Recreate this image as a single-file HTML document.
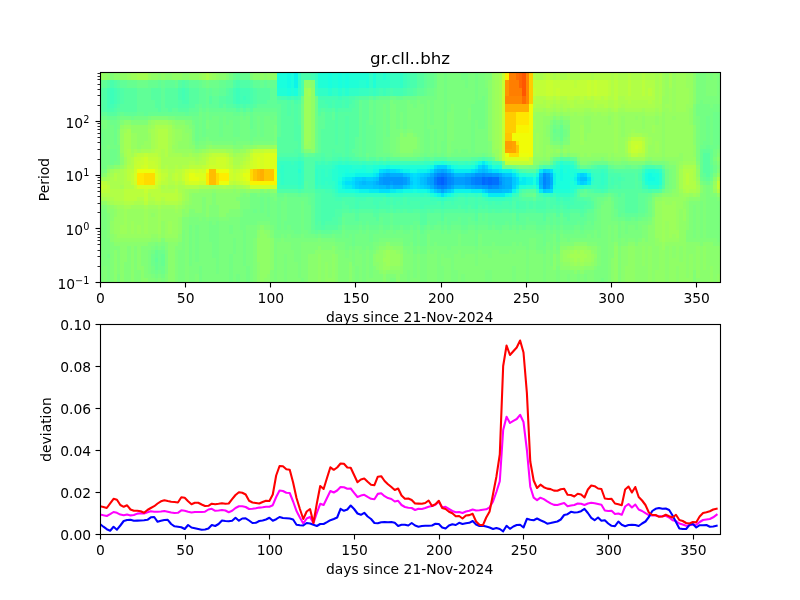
<!DOCTYPE html>
<html lang="en"><head><meta charset="utf-8"><title>gr.cll..bhz</title>
<style>html,body{margin:0;padding:0;background:#fff}body{width:800px;height:600px;overflow:hidden}svg{display:block}</style></head>
<body>
<svg width="800" height="600" viewBox="0 0 800 600">
<rect width="800" height="600" fill="#fff"/>
<g shape-rendering="crispEdges"><rect x="100" y="72" width="620" height="210" fill="#7dff7a"/>
<path fill="#0060ff" d="M440.66 177H444.07V181.04H440.66zM440.66 181.04H444.07V185.08H440.66z"/>
<path fill="#0068ff" d="M437.25 177H440.66V181.04H437.25zM481.54 177H484.95V181.04H481.54zM488.35 177H491.76V181.04H488.35zM437.25 181.04H440.66V185.08H437.25zM481.54 181.04H484.95V185.08H481.54zM488.35 181.04H491.76V185.08H488.35z"/>
<path fill="#0070ff" d="M444.07 177H447.47V181.04H444.07zM484.95 177H488.35V181.04H484.95zM491.76 177H498.57V181.04H491.76zM444.07 181.04H447.47V185.08H444.07zM484.95 181.04H488.35V185.08H484.95zM491.76 181.04H498.57V185.08H491.76z"/>
<path fill="#007cff" d="M440.66 172.96H444.07V177H440.66zM433.85 177H437.25V181.04H433.85zM474.73 177H481.54V181.04H474.73zM433.85 181.04H437.25V185.08H433.85zM474.73 181.04H481.54V185.08H474.73zM440.66 185.08H444.07V189.12H440.66z"/>
<path fill="#0084ff" d="M437.25 172.96H440.66V177H437.25zM444.07 172.96H447.47V177H444.07zM447.47 177H450.88V181.04H447.47zM471.32 177H474.73V181.04H471.32zM542.86 177H546.26V181.04H542.86zM447.47 181.04H450.88V185.08H447.47zM471.32 181.04H474.73V185.08H471.32zM542.86 181.04H546.26V185.08H542.86zM437.25 185.08H440.66V189.12H437.25zM444.07 185.08H447.47V189.12H444.07zM488.35 185.08H491.76V189.12H488.35z"/>
<path fill="#008cff" d="M481.54 172.96H484.95V177H481.54zM542.86 172.96H546.26V177H542.86zM450.88 177H454.29V181.04H450.88zM450.88 181.04H454.29V185.08H450.88zM498.57 181.04H501.98V185.08H498.57zM491.76 185.08H498.57V189.12H491.76zM542.86 185.08H546.26V189.12H542.86z"/>
<path fill="#0094ff" d="M433.85 172.96H437.25V177H433.85zM447.47 172.96H450.88V177H447.47zM474.73 172.96H481.54V177H474.73zM484.95 172.96H491.76V177H484.95zM382.75 177H403.19V181.04H382.75zM464.51 177H471.32V181.04H464.51zM498.57 177H501.98V181.04H498.57zM546.26 177H549.67V181.04H546.26zM382.75 181.04H389.56V185.08H382.75zM392.97 181.04H403.19V185.08H392.97zM464.51 181.04H471.32V185.08H464.51zM546.26 181.04H549.67V185.08H546.26zM433.85 185.08H437.25V189.12H433.85zM447.47 185.08H450.88V189.12H447.47zM481.54 185.08H488.35V189.12H481.54z"/>
<path fill="#009cff" d="M491.76 172.96H498.57V177H491.76zM546.26 172.96H549.67V177H546.26zM379.34 177H382.75V181.04H379.34zM403.19 177H406.59V181.04H403.19zM430.44 177H433.85V181.04H430.44zM454.29 177H464.51V181.04H454.29zM379.34 181.04H382.75V185.08H379.34zM389.56 181.04H392.97V185.08H389.56zM403.19 181.04H406.59V185.08H403.19zM430.44 181.04H433.85V185.08H430.44zM454.29 181.04H464.51V185.08H454.29zM474.73 185.08H481.54V189.12H474.73zM498.57 185.08H501.98V189.12H498.57zM546.26 185.08H549.67V189.12H546.26z"/>
<path fill="#00a4ff" d="M440.66 168.92H444.07V172.96H440.66zM386.15 172.96H389.56V177H386.15zM450.88 172.96H454.29V177H450.88zM471.32 172.96H474.73V177H471.32zM427.03 177H430.44V181.04H427.03zM501.98 177H505.38V181.04H501.98zM427.03 181.04H430.44V185.08H427.03zM501.98 181.04H505.38V185.08H501.98zM450.88 185.08H454.29V189.12H450.88zM471.32 185.08H474.73V189.12H471.32zM501.98 185.08H505.38V189.12H501.98zM440.66 189.12H444.07V193.15H440.66z"/>
<path fill="#00acff" d="M437.25 168.92H440.66V172.96H437.25zM444.07 168.92H447.47V172.96H444.07zM382.75 172.96H386.15V177H382.75zM389.56 172.96H403.19V177H389.56zM430.44 172.96H433.85V177H430.44zM464.51 172.96H471.32V177H464.51zM498.57 172.96H501.98V177H498.57zM406.59 177H410V181.04H406.59zM505.38 177H512.2V181.04H505.38zM539.45 177H542.86V181.04H539.45zM549.67 177H553.08V181.04H549.67zM375.93 181.04H379.34V185.08H375.93zM406.59 181.04H410V185.08H406.59zM505.38 181.04H512.2V185.08H505.38zM539.45 181.04H542.86V185.08H539.45zM549.67 181.04H553.08V185.08H549.67zM386.15 185.08H389.56V189.12H386.15zM392.97 185.08H403.19V189.12H392.97zM430.44 185.08H433.85V189.12H430.44zM464.51 185.08H471.32V189.12H464.51zM505.38 185.08H512.2V189.12H505.38z"/>
<path fill="#00b8ff" d="M433.85 168.92H437.25V172.96H433.85zM481.54 168.92H484.95V172.96H481.54zM379.34 172.96H382.75V177H379.34zM454.29 172.96H464.51V177H454.29zM539.45 172.96H542.86V177H539.45zM549.67 172.96H553.08V177H549.67zM423.63 177H427.03V181.04H423.63zM362.31 181.04H365.71V185.08H362.31zM372.53 181.04H375.93V185.08H372.53zM423.63 181.04H427.03V185.08H423.63zM379.34 185.08H386.15V189.12H379.34zM389.56 185.08H392.97V189.12H389.56zM454.29 185.08H464.51V189.12H454.29zM539.45 185.08H542.86V189.12H539.45zM549.67 185.08H553.08V189.12H549.67zM437.25 189.12H440.66V193.15H437.25zM444.07 189.12H447.47V193.15H444.07zM488.35 189.12H501.98V193.15H488.35z"/>
<path fill="#00c0ff" d="M447.47 168.92H450.88V172.96H447.47zM478.13 168.92H481.54V172.96H478.13zM484.95 168.92H488.35V172.96H484.95zM403.19 172.96H406.59V177H403.19zM427.03 172.96H430.44V177H427.03zM501.98 172.96H505.38V177H501.98zM375.93 177H379.34V181.04H375.93zM420.22 177H423.63V181.04H420.22zM580.33 177H587.14V181.04H580.33zM358.9 181.04H362.31V185.08H358.9zM365.71 181.04H372.53V185.08H365.71zM420.22 181.04H423.63V185.08H420.22zM372.53 185.08H379.34V189.12H372.53zM403.19 185.08H406.59V189.12H403.19zM427.03 185.08H430.44V189.12H427.03zM501.98 189.12H508.79V193.15H501.98z"/>
<path fill="#00c8ff" d="M481.54 164.88H484.95V168.92H481.54zM542.86 168.92H546.26V172.96H542.86zM406.59 172.96H410V177H406.59zM423.63 172.96H427.03V177H423.63zM505.38 172.96H512.2V177H505.38zM362.31 177H365.71V181.04H362.31zM372.53 177H375.93V181.04H372.53zM512.2 177H515.6V181.04H512.2zM355.49 181.04H358.9V185.08H355.49zM410 181.04H413.41V185.08H410zM512.2 181.04H515.6V185.08H512.2zM358.9 185.08H372.53V189.12H358.9zM406.59 185.08H410V189.12H406.59zM423.63 185.08H427.03V189.12H423.63zM433.85 189.12H437.25V193.15H433.85zM447.47 189.12H450.88V193.15H447.47zM484.95 189.12H488.35V193.15H484.95zM508.79 189.12H512.2V193.15H508.79zM542.86 189.12H546.26V193.15H542.86z"/>
<path fill="#00d0ff" d="M437.25 164.88H447.47V168.92H437.25zM386.15 168.92H389.56V172.96H386.15zM474.73 168.92H478.13V172.96H474.73zM488.35 168.92H491.76V172.96H488.35zM546.26 168.92H549.67V172.96H546.26zM420.22 172.96H423.63V177H420.22zM580.33 172.96H583.74V177H580.33zM355.49 177H362.31V181.04H355.49zM365.71 177H372.53V181.04H365.71zM410 177H413.41V181.04H410zM416.81 177H420.22V181.04H416.81zM576.92 177H580.33V181.04H576.92zM416.81 181.04H420.22V185.08H416.81zM580.33 181.04H583.74V185.08H580.33zM355.49 185.08H358.9V189.12H355.49zM420.22 185.08H423.63V189.12H420.22zM512.2 185.08H515.6V189.12H512.2zM546.26 189.12H549.67V193.15H546.26z"/>
<path fill="#00d8ff" d="M478.13 164.88H481.54V168.92H478.13zM484.95 164.88H488.35V168.92H484.95zM382.75 168.92H386.15V172.96H382.75zM389.56 168.92H396.37V172.96H389.56zM430.44 168.92H433.85V172.96H430.44zM450.88 168.92H454.29V172.96H450.88zM410 172.96H413.41V177H410zM416.81 172.96H420.22V177H416.81zM583.74 172.96H587.14V177H583.74zM413.41 177H416.81V181.04H413.41zM515.6 177H519.01V181.04H515.6zM352.09 181.04H355.49V185.08H352.09zM413.41 181.04H416.81V185.08H413.41zM515.6 181.04H519.01V185.08H515.6zM583.74 181.04H587.14V185.08H583.74zM410 185.08H413.41V189.12H410zM416.81 185.08H420.22V189.12H416.81zM450.88 189.12H454.29V193.15H450.88zM481.54 189.12H484.95V193.15H481.54zM549.67 189.12H553.08V193.15H549.67z"/>
<path fill="#00e0fb" d="M433.85 164.88H437.25V168.92H433.85zM379.34 168.92H382.75V172.96H379.34zM396.37 168.92H399.78V172.96H396.37zM471.32 168.92H474.73V172.96H471.32zM491.76 168.92H498.57V172.96H491.76zM549.67 168.92H553.08V172.96H549.67zM375.93 172.96H379.34V177H375.93zM413.41 172.96H416.81V177H413.41zM512.2 172.96H515.6V177H512.2zM576.92 172.96H580.33V177H576.92zM352.09 177H355.49V181.04H352.09zM587.14 177H590.55V181.04H587.14zM345.27 181.04H352.09V185.08H345.27zM576.92 181.04H580.33V185.08H576.92zM352.09 185.08H355.49V189.12H352.09zM413.41 185.08H416.81V189.12H413.41zM379.34 189.12H389.56V193.15H379.34zM430.44 189.12H433.85V193.15H430.44zM440.66 193.15H444.07V197.19H440.66z"/>
<path fill="#06ecf1" d="M481.54 160.85H484.95V164.88H481.54zM447.47 164.88H450.88V168.92H447.47zM399.78 168.92H403.19V172.96H399.78zM427.03 168.92H430.44V172.96H427.03zM454.29 168.92H471.32V172.96H454.29zM498.57 168.92H501.98V172.96H498.57zM539.45 168.92H542.86V172.96H539.45zM372.53 172.96H375.93V177H372.53zM345.27 177H352.09V181.04H345.27zM522.42 177H525.82V181.04H522.42zM536.04 177H539.45V181.04H536.04zM341.87 181.04H345.27V185.08H341.87zM519.01 181.04H525.82V185.08H519.01zM536.04 181.04H539.45V185.08H536.04zM587.14 181.04H590.55V185.08H587.14zM345.27 185.08H352.09V189.12H345.27zM515.6 185.08H519.01V189.12H515.6zM369.12 189.12H379.34V193.15H369.12zM389.56 189.12H396.37V193.15H389.56zM471.32 189.12H481.54V193.15H471.32zM539.45 189.12H542.86V193.15H539.45zM488.35 193.15H505.38V197.19H488.35z"/>
<path fill="#0cf4eb" d="M294.18 72H297.58V76.04H294.18zM294.18 76.04H297.58V80.08H294.18zM294.18 80.08H297.58V84.12H294.18zM294.18 84.12H297.58V88.15H294.18zM474.73 164.88H478.13V168.92H474.73zM488.35 164.88H491.76V168.92H488.35zM403.19 168.92H410V172.96H403.19zM416.81 168.92H427.03V172.96H416.81zM501.98 168.92H512.2V172.96H501.98zM355.49 172.96H372.53V177H355.49zM515.6 172.96H519.01V177H515.6zM553.08 172.96H556.48V177H553.08zM587.14 172.96H590.55V177H587.14zM341.87 177H345.27V181.04H341.87zM519.01 177H522.42V181.04H519.01zM525.82 177H532.64V181.04H525.82zM553.08 177H556.48V181.04H553.08zM573.52 177H576.92V181.04H573.52zM525.82 181.04H532.64V185.08H525.82zM553.08 181.04H556.48V185.08H553.08zM341.87 185.08H345.27V189.12H341.87zM358.9 189.12H369.12V193.15H358.9zM396.37 189.12H403.19V193.15H396.37zM427.03 189.12H430.44V193.15H427.03zM454.29 189.12H471.32V193.15H454.29zM512.2 189.12H515.6V193.15H512.2zM437.25 193.15H440.66V197.19H437.25zM444.07 193.15H447.47V197.19H444.07z"/>
<path fill="#13fce4" d="M287.36 72H290.77V76.04H287.36zM287.36 76.04H290.77V80.08H287.36zM287.36 80.08H290.77V84.12H287.36zM287.36 84.12H290.77V88.15H287.36zM478.13 160.85H481.54V164.88H478.13zM484.95 160.85H488.35V164.88H484.95zM386.15 164.88H389.56V168.92H386.15zM430.44 164.88H433.85V168.92H430.44zM450.88 164.88H454.29V168.92H450.88zM372.53 168.92H379.34V172.96H372.53zM410 168.92H416.81V172.96H410zM559.89 168.92H563.3V172.96H559.89zM345.27 172.96H355.49V177H345.27zM536.04 172.96H539.45V177H536.04zM559.89 172.96H563.3V177H559.89zM573.52 172.96H576.92V177H573.52zM648.46 172.96H651.87V177H648.46zM559.89 177H563.3V181.04H559.89zM648.46 177H655.27V181.04H648.46zM338.46 181.04H341.87V185.08H338.46zM573.52 181.04H576.92V185.08H573.52zM536.04 185.08H539.45V189.12H536.04zM553.08 185.08H556.48V189.12H553.08zM355.49 189.12H358.9V193.15H355.49zM403.19 189.12H413.41V193.15H403.19zM416.81 189.12H427.03V193.15H416.81zM433.85 193.15H437.25V197.19H433.85zM447.47 193.15H450.88V197.19H447.47zM505.38 193.15H508.79V197.19H505.38z"/>
<path fill="#19ffde" d="M277.14 72H287.36V76.04H277.14zM290.77 72H294.18V76.04H290.77zM328.24 72H331.65V76.04H328.24zM338.46 72H341.87V76.04H338.46zM345.27 72H348.68V76.04H345.27zM277.14 76.04H287.36V80.08H277.14zM290.77 76.04H294.18V80.08H290.77zM328.24 76.04H331.65V80.08H328.24zM338.46 76.04H341.87V80.08H338.46zM345.27 76.04H348.68V80.08H345.27zM277.14 80.08H287.36V84.12H277.14zM290.77 80.08H294.18V84.12H290.77zM328.24 80.08H331.65V84.12H328.24zM338.46 80.08H341.87V84.12H338.46zM345.27 80.08H348.68V84.12H345.27zM277.14 84.12H287.36V88.15H277.14zM290.77 84.12H294.18V88.15H290.77zM328.24 84.12H331.65V88.15H328.24zM338.46 84.12H341.87V88.15H338.46zM345.27 84.12H348.68V88.15H345.27zM287.36 88.15H290.77V92.19H287.36zM294.18 88.15H297.58V92.19H294.18zM287.36 92.19H290.77V96.23H287.36zM294.18 92.19H297.58V96.23H294.18zM379.34 164.88H386.15V168.92H379.34zM389.56 164.88H399.78V168.92H389.56zM427.03 164.88H430.44V168.92H427.03zM454.29 164.88H457.69V168.92H454.29zM471.32 164.88H474.73V168.92H471.32zM495.16 164.88H498.57V168.92H495.16zM559.89 164.88H563.3V168.92H559.89zM345.27 168.92H348.68V172.96H345.27zM355.49 168.92H365.71V172.96H355.49zM553.08 168.92H556.48V172.96H553.08zM566.7 168.92H570.11V172.96H566.7zM341.87 172.96H345.27V177H341.87zM556.48 172.96H559.89V177H556.48zM563.3 172.96H570.11V177H563.3zM645.05 172.96H648.46V177H645.05zM651.87 172.96H658.68V177H651.87zM338.46 177H341.87V181.04H338.46zM532.64 177H536.04V181.04H532.64zM556.48 177H559.89V181.04H556.48zM563.3 177H573.52V181.04H563.3zM645.05 177H648.46V181.04H645.05zM655.27 177H658.68V181.04H655.27zM532.64 181.04H536.04V185.08H532.64zM556.48 181.04H570.11V185.08H556.48zM648.46 181.04H658.68V185.08H648.46zM338.46 185.08H341.87V189.12H338.46zM556.48 185.08H570.11V189.12H556.48zM345.27 189.12H355.49V193.15H345.27zM413.41 189.12H416.81V193.15H413.41zM484.95 193.15H488.35V197.19H484.95zM508.79 193.15H512.2V197.19H508.79z"/>
<path fill="#1fffd7" d="M318.02 72H328.24V76.04H318.02zM331.65 72H338.46V76.04H331.65zM341.87 72H345.27V76.04H341.87zM348.68 72H369.12V76.04H348.68zM372.53 72H375.93V76.04H372.53zM318.02 76.04H328.24V80.08H318.02zM331.65 76.04H338.46V80.08H331.65zM341.87 76.04H345.27V80.08H341.87zM348.68 76.04H369.12V80.08H348.68zM372.53 76.04H375.93V80.08H372.53zM318.02 80.08H328.24V84.12H318.02zM331.65 80.08H338.46V84.12H331.65zM341.87 80.08H345.27V84.12H341.87zM348.68 80.08H358.9V84.12H348.68zM365.71 80.08H369.12V84.12H365.71zM372.53 80.08H375.93V84.12H372.53zM318.02 84.12H328.24V88.15H318.02zM331.65 84.12H338.46V88.15H331.65zM341.87 84.12H345.27V88.15H341.87zM348.68 84.12H358.9V88.15H348.68zM365.71 84.12H369.12V88.15H365.71zM372.53 84.12H375.93V88.15H372.53zM277.14 88.15H287.36V92.19H277.14zM290.77 88.15H294.18V92.19H290.77zM277.14 92.19H287.36V96.23H277.14zM290.77 92.19H294.18V96.23H290.77zM440.66 160.85H444.07V164.88H440.66zM338.46 164.88H352.09V168.92H338.46zM362.31 164.88H365.71V168.92H362.31zM372.53 164.88H379.34V168.92H372.53zM399.78 164.88H427.03V168.92H399.78zM457.69 164.88H471.32V168.92H457.69zM491.76 164.88H495.16V168.92H491.76zM498.57 164.88H501.98V168.92H498.57zM563.3 164.88H570.11V168.92H563.3zM338.46 168.92H345.27V172.96H338.46zM348.68 168.92H355.49V172.96H348.68zM365.71 168.92H372.53V172.96H365.71zM512.2 168.92H515.6V172.96H512.2zM556.48 168.92H559.89V172.96H556.48zM563.3 168.92H566.7V172.96H563.3zM570.11 168.92H576.92V172.96H570.11zM648.46 168.92H655.27V172.96H648.46zM338.46 172.96H341.87V177H338.46zM519.01 172.96H525.82V177H519.01zM570.11 172.96H573.52V177H570.11zM570.11 181.04H573.52V185.08H570.11zM645.05 181.04H648.46V185.08H645.05zM519.01 185.08H525.82V189.12H519.01zM570.11 185.08H576.92V189.12H570.11zM338.46 189.12H345.27V193.15H338.46zM515.6 189.12H519.01V193.15H515.6zM553.08 189.12H570.11V193.15H553.08zM430.44 193.15H433.85V197.19H430.44zM450.88 193.15H454.29V197.19H450.88zM481.54 193.15H484.95V197.19H481.54z"/>
<path fill="#26ffd1" d="M382.75 72H386.15V76.04H382.75zM382.75 76.04H386.15V80.08H382.75zM358.9 80.08H365.71V84.12H358.9zM358.9 84.12H365.71V88.15H358.9zM328.24 88.15H331.65V92.19H328.24zM338.46 88.15H341.87V92.19H338.46zM345.27 88.15H348.68V92.19H345.27zM328.24 92.19H331.65V96.23H328.24zM338.46 92.19H341.87V96.23H338.46zM345.27 92.19H348.68V96.23H345.27zM433.85 160.85H440.66V164.88H433.85zM444.07 160.85H447.47V164.88H444.07zM474.73 160.85H478.13V164.88H474.73zM488.35 160.85H491.76V164.88H488.35zM559.89 160.85H563.3V164.88H559.89zM335.05 164.88H338.46V168.92H335.05zM352.09 164.88H362.31V168.92H352.09zM365.71 164.88H372.53V168.92H365.71zM556.48 164.88H559.89V168.92H556.48zM570.11 164.88H573.52V168.92H570.11zM297.58 168.92H300.99V172.96H297.58zM331.65 168.92H338.46V172.96H331.65zM576.92 168.92H587.14V172.96H576.92zM645.05 168.92H648.46V172.96H645.05zM655.27 168.92H658.68V172.96H655.27zM331.65 172.96H338.46V177H331.65zM525.82 172.96H532.64V177H525.82zM658.68 172.96H662.09V177H658.68zM331.65 177H338.46V181.04H331.65zM590.55 177H593.96V181.04H590.55zM658.68 177H662.09V181.04H658.68zM335.05 181.04H338.46V185.08H335.05zM658.68 181.04H662.09V185.08H658.68zM335.05 185.08H338.46V189.12H335.05zM525.82 185.08H532.64V189.12H525.82zM576.92 185.08H583.74V189.12H576.92zM648.46 185.08H658.68V189.12H648.46zM570.11 189.12H573.52V193.15H570.11zM386.15 193.15H389.56V197.19H386.15z"/>
<path fill="#30ffc7" d="M297.58 72H300.99V76.04H297.58zM369.12 72H372.53V76.04H369.12zM375.93 72H382.75V76.04H375.93zM386.15 72H389.56V76.04H386.15zM399.78 72H403.19V76.04H399.78zM297.58 76.04H300.99V80.08H297.58zM369.12 76.04H372.53V80.08H369.12zM375.93 76.04H382.75V80.08H375.93zM386.15 76.04H389.56V80.08H386.15zM399.78 76.04H403.19V80.08H399.78zM297.58 80.08H300.99V84.12H297.58zM369.12 80.08H372.53V84.12H369.12zM375.93 80.08H389.56V84.12H375.93zM399.78 80.08H403.19V84.12H399.78zM297.58 84.12H300.99V88.15H297.58zM369.12 84.12H372.53V88.15H369.12zM375.93 84.12H389.56V88.15H375.93zM399.78 84.12H403.19V88.15H399.78zM318.02 88.15H328.24V92.19H318.02zM331.65 88.15H338.46V92.19H331.65zM341.87 88.15H345.27V92.19H341.87zM348.68 88.15H358.9V92.19H348.68zM318.02 92.19H328.24V96.23H318.02zM331.65 92.19H338.46V96.23H331.65zM341.87 92.19H345.27V96.23H341.87zM348.68 92.19H358.9V96.23H348.68zM297.58 160.85H300.99V164.88H297.58zM338.46 160.85H341.87V164.88H338.46zM345.27 160.85H348.68V164.88H345.27zM447.47 160.85H450.88V164.88H447.47zM563.3 160.85H570.11V164.88H563.3zM280.55 164.88H283.96V168.92H280.55zM297.58 164.88H300.99V168.92H297.58zM331.65 164.88H335.05V168.92H331.65zM553.08 164.88H556.48V168.92H553.08zM277.14 168.92H283.96V172.96H277.14zM314.62 168.92H318.02V172.96H314.62zM321.43 168.92H324.84V172.96H321.43zM328.24 168.92H331.65V172.96H328.24zM587.14 168.92H590.55V172.96H587.14zM658.68 168.92H662.09V172.96H658.68zM280.55 172.96H283.96V177H280.55zM297.58 172.96H300.99V177H297.58zM314.62 172.96H318.02V177H314.62zM321.43 172.96H324.84V177H321.43zM328.24 172.96H331.65V177H328.24zM532.64 172.96H536.04V177H532.64zM590.55 172.96H593.96V177H590.55zM600.77 172.96H604.18V177H600.77zM641.65 172.96H645.05V177H641.65zM280.55 177H283.96V181.04H280.55zM297.58 177H300.99V181.04H297.58zM314.62 177H318.02V181.04H314.62zM321.43 177H331.65V181.04H321.43zM600.77 177H604.18V181.04H600.77zM641.65 177H645.05V181.04H641.65zM280.55 181.04H283.96V185.08H280.55zM297.58 181.04H300.99V185.08H297.58zM314.62 181.04H318.02V185.08H314.62zM321.43 181.04H324.84V185.08H321.43zM328.24 181.04H335.05V185.08H328.24zM590.55 181.04H593.96V185.08H590.55zM600.77 181.04H604.18V185.08H600.77zM331.65 185.08H335.05V189.12H331.65zM532.64 185.08H536.04V189.12H532.64zM583.74 185.08H590.55V189.12H583.74zM335.05 189.12H338.46V193.15H335.05zM355.49 193.15H386.15V197.19H355.49zM389.56 193.15H403.19V197.19H389.56zM420.22 193.15H423.63V197.19H420.22zM427.03 193.15H430.44V197.19H427.03zM454.29 193.15H457.69V197.19H454.29zM464.51 193.15H467.91V197.19H464.51zM474.73 193.15H478.13V197.19H474.73zM549.67 193.15H553.08V197.19H549.67zM556.48 193.15H570.11V197.19H556.48zM440.66 197.19H444.07V201.23H440.66z"/>
<path fill="#36ffc1" d="M314.62 72H318.02V76.04H314.62zM389.56 72H399.78V76.04H389.56zM314.62 76.04H318.02V80.08H314.62zM389.56 76.04H399.78V80.08H389.56zM314.62 80.08H318.02V84.12H314.62zM389.56 80.08H399.78V84.12H389.56zM314.62 84.12H318.02V88.15H314.62zM389.56 84.12H399.78V88.15H389.56zM297.58 88.15H300.99V92.19H297.58zM358.9 88.15H369.12V92.19H358.9zM372.53 88.15H375.93V92.19H372.53zM297.58 92.19H300.99V96.23H297.58zM358.9 92.19H369.12V96.23H358.9zM372.53 92.19H375.93V96.23H372.53zM277.14 160.85H290.77V164.88H277.14zM294.18 160.85H297.58V164.88H294.18zM300.99 160.85H304.4V164.88H300.99zM331.65 160.85H338.46V164.88H331.65zM341.87 160.85H345.27V164.88H341.87zM348.68 160.85H358.9V164.88H348.68zM362.31 160.85H365.71V164.88H362.31zM372.53 160.85H375.93V164.88H372.53zM379.34 160.85H382.75V164.88H379.34zM386.15 160.85H389.56V164.88H386.15zM423.63 160.85H433.85V164.88H423.63zM450.88 160.85H457.69V164.88H450.88zM464.51 160.85H467.91V164.88H464.51zM471.32 160.85H474.73V164.88H471.32zM556.48 160.85H559.89V164.88H556.48zM570.11 160.85H573.52V164.88H570.11zM277.14 164.88H280.55V168.92H277.14zM283.96 164.88H297.58V168.92H283.96zM300.99 164.88H304.4V168.92H300.99zM314.62 164.88H331.65V168.92H314.62zM573.52 164.88H576.92V168.92H573.52zM283.96 168.92H297.58V172.96H283.96zM300.99 168.92H304.4V172.96H300.99zM318.02 168.92H321.43V172.96H318.02zM324.84 168.92H328.24V172.96H324.84zM515.6 168.92H519.01V172.96H515.6zM600.77 168.92H604.18V172.96H600.77zM277.14 172.96H280.55V177H277.14zM283.96 172.96H297.58V177H283.96zM300.99 172.96H304.4V177H300.99zM318.02 172.96H321.43V177H318.02zM324.84 172.96H328.24V177H324.84zM593.96 172.96H600.77V177H593.96zM604.18 172.96H607.58V177H604.18zM277.14 177H280.55V181.04H277.14zM283.96 177H297.58V181.04H283.96zM300.99 177H304.4V181.04H300.99zM318.02 177H321.43V181.04H318.02zM593.96 177H600.77V181.04H593.96zM604.18 177H607.58V181.04H604.18zM277.14 181.04H280.55V185.08H277.14zM283.96 181.04H297.58V185.08H283.96zM300.99 181.04H304.4V185.08H300.99zM318.02 181.04H321.43V185.08H318.02zM324.84 181.04H328.24V185.08H324.84zM593.96 181.04H600.77V185.08H593.96zM604.18 181.04H607.58V185.08H604.18zM641.65 181.04H645.05V185.08H641.65zM297.58 185.08H300.99V189.12H297.58zM314.62 185.08H318.02V189.12H314.62zM321.43 185.08H331.65V189.12H321.43zM597.36 185.08H604.18V189.12H597.36zM645.05 185.08H648.46V189.12H645.05zM658.68 185.08H662.09V189.12H658.68zM536.04 189.12H539.45V193.15H536.04zM573.52 189.12H576.92V193.15H573.52zM338.46 193.15H355.49V197.19H338.46zM403.19 193.15H420.22V197.19H403.19zM423.63 193.15H427.03V197.19H423.63zM457.69 193.15H464.51V197.19H457.69zM467.91 193.15H474.73V197.19H467.91zM478.13 193.15H481.54V197.19H478.13zM512.2 193.15H515.6V197.19H512.2zM542.86 193.15H549.67V197.19H542.86zM570.11 193.15H573.52V197.19H570.11zM437.25 197.19H440.66V201.23H437.25zM444.07 197.19H447.47V201.23H444.07zM488.35 197.19H505.38V201.23H488.35z"/>
<path fill="#3cffba" d="M403.19 72H406.59V76.04H403.19zM403.19 76.04H406.59V80.08H403.19zM403.19 80.08H406.59V84.12H403.19zM403.19 84.12H406.59V88.15H403.19zM110.22 88.15H113.63V92.19H110.22zM236.26 88.15H239.67V92.19H236.26zM314.62 88.15H318.02V92.19H314.62zM369.12 88.15H372.53V92.19H369.12zM375.93 88.15H379.34V92.19H375.93zM382.75 88.15H386.15V92.19H382.75zM110.22 92.19H113.63V96.23H110.22zM236.26 92.19H239.67V96.23H236.26zM314.62 92.19H318.02V96.23H314.62zM369.12 92.19H372.53V96.23H369.12zM375.93 92.19H379.34V96.23H375.93zM382.75 92.19H386.15V96.23H382.75zM110.22 96.23H113.63V100.27H110.22zM236.26 96.23H239.67V100.27H236.26zM243.08 96.23H246.48V100.27H243.08zM287.36 96.23H290.77V100.27H287.36zM294.18 96.23H297.58V100.27H294.18zM338.46 96.23H341.87V100.27H338.46zM110.22 100.27H113.63V104.31H110.22zM236.26 100.27H239.67V104.31H236.26zM297.58 156.81H300.99V160.85H297.58zM290.77 160.85H294.18V164.88H290.77zM314.62 160.85H318.02V164.88H314.62zM321.43 160.85H324.84V164.88H321.43zM328.24 160.85H331.65V164.88H328.24zM358.9 160.85H362.31V164.88H358.9zM365.71 160.85H372.53V164.88H365.71zM375.93 160.85H379.34V164.88H375.93zM382.75 160.85H386.15V164.88H382.75zM389.56 160.85H423.63V164.88H389.56zM457.69 160.85H464.51V164.88H457.69zM467.91 160.85H471.32V164.88H467.91zM491.76 160.85H498.57V164.88H491.76zM549.67 164.88H553.08V168.92H549.67zM536.04 168.92H539.45V172.96H536.04zM590.55 168.92H600.77V172.96H590.55zM604.18 168.92H607.58V172.96H604.18zM641.65 168.92H645.05V172.96H641.65zM277.14 185.08H297.58V189.12H277.14zM300.99 185.08H304.4V189.12H300.99zM318.02 185.08H321.43V189.12H318.02zM590.55 185.08H597.36V189.12H590.55zM604.18 185.08H607.58V189.12H604.18zM641.65 185.08H645.05V189.12H641.65zM331.65 189.12H335.05V193.15H331.65zM335.05 193.15H338.46V197.19H335.05zM515.6 193.15H519.01V197.19H515.6zM553.08 193.15H556.48V197.19H553.08zM430.44 197.19H437.25V201.23H430.44zM447.47 197.19H454.29V201.23H447.47zM484.95 197.19H488.35V201.23H484.95zM505.38 197.19H512.2V201.23H505.38zM556.48 197.19H559.89V201.23H556.48zM563.3 197.19H570.11V201.23H563.3zM440.66 201.23H444.07V205.27H440.66z"/>
<path fill="#43ffb4" d="M311.21 72H314.62V76.04H311.21zM406.59 72H410V76.04H406.59zM311.21 76.04H314.62V80.08H311.21zM406.59 76.04H410V80.08H406.59zM406.59 80.08H410V84.12H406.59zM406.59 84.12H410V88.15H406.59zM106.81 88.15H110.22V92.19H106.81zM113.63 88.15H117.03V92.19H113.63zM181.76 88.15H185.16V92.19H181.76zM232.86 88.15H236.26V92.19H232.86zM239.67 88.15H249.89V92.19H239.67zM379.34 88.15H382.75V92.19H379.34zM386.15 88.15H389.56V92.19H386.15zM392.97 88.15H403.19V92.19H392.97zM106.81 92.19H110.22V96.23H106.81zM113.63 92.19H117.03V96.23H113.63zM181.76 92.19H185.16V96.23H181.76zM232.86 92.19H236.26V96.23H232.86zM239.67 92.19H249.89V96.23H239.67zM379.34 92.19H382.75V96.23H379.34zM386.15 92.19H389.56V96.23H386.15zM392.97 92.19H403.19V96.23H392.97zM106.81 96.23H110.22V100.27H106.81zM113.63 96.23H117.03V100.27H113.63zM181.76 96.23H185.16V100.27H181.76zM232.86 96.23H236.26V100.27H232.86zM239.67 96.23H243.08V100.27H239.67zM246.48 96.23H249.89V100.27H246.48zM280.55 96.23H287.36V100.27H280.55zM290.77 96.23H294.18V100.27H290.77zM297.58 96.23H300.99V100.27H297.58zM318.02 96.23H338.46V100.27H318.02zM341.87 96.23H348.68V100.27H341.87zM106.81 100.27H110.22V104.31H106.81zM113.63 100.27H117.03V104.31H113.63zM232.86 100.27H236.26V104.31H232.86zM239.67 100.27H249.89V104.31H239.67zM324.84 100.27H331.65V104.31H324.84zM335.05 100.27H341.87V104.31H335.05zM345.27 100.27H348.68V104.31H345.27zM106.81 104.31H113.63V108.35H106.81zM328.24 104.31H331.65V108.35H328.24zM335.05 104.31H341.87V108.35H335.05zM345.27 104.31H348.68V108.35H345.27zM277.14 156.81H297.58V160.85H277.14zM300.99 156.81H304.4V160.85H300.99zM338.46 156.81H341.87V160.85H338.46zM345.27 156.81H348.68V160.85H345.27zM318.02 160.85H321.43V164.88H318.02zM324.84 160.85H328.24V164.88H324.84zM498.57 160.85H501.98V164.88H498.57zM542.86 164.88H546.26V168.92H542.86zM610.99 177H614.4V181.04H610.99zM617.8 177H621.21V181.04H617.8zM610.99 181.04H614.4V185.08H610.99zM324.84 189.12H331.65V193.15H324.84zM519.01 189.12H522.42V193.15H519.01zM600.77 189.12H604.18V193.15H600.77zM331.65 193.15H335.05V197.19H331.65zM539.45 193.15H542.86V197.19H539.45zM573.52 193.15H576.92V197.19H573.52zM335.05 197.19H341.87V201.23H335.05zM355.49 197.19H365.71V201.23H355.49zM372.53 197.19H382.75V201.23H372.53zM386.15 197.19H389.56V201.23H386.15zM392.97 197.19H403.19V201.23H392.97zM406.59 197.19H430.44V201.23H406.59zM454.29 197.19H457.69V201.23H454.29zM464.51 197.19H467.91V201.23H464.51zM474.73 197.19H478.13V201.23H474.73zM481.54 197.19H484.95V201.23H481.54zM559.89 197.19H563.3V201.23H559.89zM570.11 197.19H573.52V201.23H570.11zM355.49 201.23H358.9V205.27H355.49zM372.53 201.23H379.34V205.27H372.53zM386.15 201.23H389.56V205.27H386.15zM392.97 201.23H396.37V205.27H392.97zM399.78 201.23H403.19V205.27H399.78zM406.59 201.23H410V205.27H406.59zM420.22 201.23H437.25V205.27H420.22zM450.88 201.23H454.29V205.27H450.88zM464.51 201.23H467.91V205.27H464.51zM474.73 201.23H478.13V205.27H474.73zM488.35 201.23H491.76V205.27H488.35zM495.16 201.23H501.98V205.27H495.16zM508.79 201.23H512.2V205.27H508.79zM515.6 201.23H519.01V205.27H515.6zM556.48 201.23H559.89V205.27H556.48zM563.3 201.23H573.52V205.27H563.3zM355.49 205.27H358.9V209.31H355.49zM375.93 205.27H379.34V209.31H375.93zM420.22 205.27H423.63V209.31H420.22zM440.66 205.27H444.07V209.31H440.66zM474.73 205.27H478.13V209.31H474.73zM515.6 205.27H519.01V209.31H515.6zM566.7 205.27H570.11V209.31H566.7z"/>
<path fill="#49ffad" d="M300.99 72H311.21V76.04H300.99zM410 72H416.81V76.04H410zM300.99 76.04H311.21V80.08H300.99zM410 76.04H416.81V80.08H410zM110.22 80.08H113.63V84.12H110.22zM236.26 80.08H239.67V84.12H236.26zM300.99 80.08H304.4V84.12H300.99zM410 80.08H416.81V84.12H410zM110.22 84.12H113.63V88.15H110.22zM236.26 84.12H239.67V88.15H236.26zM300.99 84.12H304.4V88.15H300.99zM410 84.12H416.81V88.15H410zM117.03 88.15H120.44V92.19H117.03zM178.35 88.15H181.76V92.19H178.35zM185.16 88.15H188.57V92.19H185.16zM249.89 88.15H253.3V92.19H249.89zM300.99 88.15H304.4V92.19H300.99zM389.56 88.15H392.97V92.19H389.56zM403.19 88.15H406.59V92.19H403.19zM117.03 92.19H120.44V96.23H117.03zM178.35 92.19H181.76V96.23H178.35zM185.16 92.19H188.57V96.23H185.16zM249.89 92.19H253.3V96.23H249.89zM300.99 92.19H304.4V96.23H300.99zM389.56 92.19H392.97V96.23H389.56zM403.19 92.19H406.59V96.23H403.19zM117.03 96.23H120.44V100.27H117.03zM178.35 96.23H181.76V100.27H178.35zM185.16 96.23H188.57V100.27H185.16zM249.89 96.23H253.3V100.27H249.89zM277.14 96.23H280.55V100.27H277.14zM348.68 96.23H355.49V100.27H348.68zM117.03 100.27H120.44V104.31H117.03zM181.76 100.27H188.57V104.31H181.76zM249.89 100.27H253.3V104.31H249.89zM294.18 100.27H297.58V104.31H294.18zM318.02 100.27H324.84V104.31H318.02zM331.65 100.27H335.05V104.31H331.65zM341.87 100.27H345.27V104.31H341.87zM348.68 100.27H352.09V104.31H348.68zM113.63 104.31H117.03V108.35H113.63zM236.26 104.31H239.67V108.35H236.26zM243.08 104.31H246.48V108.35H243.08zM318.02 104.31H328.24V108.35H318.02zM331.65 104.31H335.05V108.35H331.65zM341.87 104.31H345.27V108.35H341.87zM106.81 108.35H113.63V112.38H106.81zM335.05 108.35H338.46V112.38H335.05zM297.58 152.77H300.99V156.81H297.58zM321.43 156.81H324.84V160.85H321.43zM331.65 156.81H338.46V160.85H331.65zM341.87 156.81H345.27V160.85H341.87zM348.68 156.81H352.09V160.85H348.68zM481.54 156.81H484.95V160.85H481.54zM553.08 160.85H556.48V164.88H553.08zM573.52 160.85H576.92V164.88H573.52zM546.26 164.88H549.67V168.92H546.26zM597.36 164.88H607.58V168.92H597.36zM645.05 164.88H655.27V168.92H645.05zM519.01 168.92H522.42V172.96H519.01zM607.58 172.96H621.21V177H607.58zM638.24 172.96H641.65V177H638.24zM662.09 172.96H665.49V177H662.09zM607.58 177H610.99V181.04H607.58zM614.4 177H617.8V181.04H614.4zM621.21 177H624.62V181.04H621.21zM638.24 177H641.65V181.04H638.24zM662.09 177H665.49V181.04H662.09zM607.58 181.04H610.99V185.08H607.58zM614.4 181.04H621.21V185.08H614.4zM662.09 181.04H665.49V185.08H662.09zM607.58 185.08H614.4V189.12H607.58zM617.8 185.08H621.21V189.12H617.8zM297.58 189.12H300.99V193.15H297.58zM314.62 189.12H324.84V193.15H314.62zM593.96 189.12H600.77V193.15H593.96zM604.18 189.12H607.58V193.15H604.18zM648.46 189.12H651.87V193.15H648.46zM321.43 193.15H331.65V197.19H321.43zM321.43 197.19H335.05V201.23H321.43zM341.87 197.19H355.49V201.23H341.87zM365.71 197.19H372.53V201.23H365.71zM382.75 197.19H386.15V201.23H382.75zM389.56 197.19H392.97V201.23H389.56zM403.19 197.19H406.59V201.23H403.19zM457.69 197.19H464.51V201.23H457.69zM467.91 197.19H474.73V201.23H467.91zM478.13 197.19H481.54V201.23H478.13zM512.2 197.19H519.01V201.23H512.2zM542.86 197.19H546.26V201.23H542.86zM549.67 197.19H556.48V201.23H549.67zM573.52 197.19H576.92V201.23H573.52zM321.43 201.23H341.87V205.27H321.43zM345.27 201.23H355.49V205.27H345.27zM358.9 201.23H372.53V205.27H358.9zM379.34 201.23H386.15V205.27H379.34zM389.56 201.23H392.97V205.27H389.56zM396.37 201.23H399.78V205.27H396.37zM403.19 201.23H406.59V205.27H403.19zM410 201.23H420.22V205.27H410zM437.25 201.23H440.66V205.27H437.25zM444.07 201.23H450.88V205.27H444.07zM454.29 201.23H464.51V205.27H454.29zM467.91 201.23H474.73V205.27H467.91zM478.13 201.23H488.35V205.27H478.13zM491.76 201.23H495.16V205.27H491.76zM501.98 201.23H508.79V205.27H501.98zM519.01 201.23H525.82V205.27H519.01zM529.23 201.23H532.64V205.27H529.23zM536.04 201.23H546.26V205.27H536.04zM549.67 201.23H556.48V205.27H549.67zM559.89 201.23H563.3V205.27H559.89zM573.52 201.23H587.14V205.27H573.52zM321.43 205.27H341.87V209.31H321.43zM348.68 205.27H355.49V209.31H348.68zM358.9 205.27H375.93V209.31H358.9zM379.34 205.27H389.56V209.31H379.34zM392.97 205.27H420.22V209.31H392.97zM423.63 205.27H440.66V209.31H423.63zM444.07 205.27H457.69V209.31H444.07zM461.1 205.27H467.91V209.31H461.1zM471.32 205.27H474.73V209.31H471.32zM481.54 205.27H484.95V209.31H481.54zM488.35 205.27H512.2V209.31H488.35zM519.01 205.27H525.82V209.31H519.01zM529.23 205.27H532.64V209.31H529.23zM536.04 205.27H546.26V209.31H536.04zM549.67 205.27H553.08V209.31H549.67zM556.48 205.27H559.89V209.31H556.48zM563.3 205.27H566.7V209.31H563.3zM570.11 205.27H583.74V209.31H570.11zM321.43 209.31H335.05V213.35H321.43zM321.43 213.35H335.05V217.38H321.43zM321.43 217.38H331.65V221.42H321.43zM321.43 221.42H324.84V225.46H321.43z"/>
<path fill="#50ffa7" d="M113.63 80.08H117.03V84.12H113.63zM181.76 80.08H185.16V84.12H181.76zM232.86 80.08H236.26V84.12H232.86zM239.67 80.08H249.89V84.12H239.67zM113.63 84.12H117.03V88.15H113.63zM181.76 84.12H185.16V88.15H181.76zM232.86 84.12H236.26V88.15H232.86zM239.67 84.12H249.89V88.15H239.67zM103.41 88.15H106.81V92.19H103.41zM120.44 88.15H123.85V92.19H120.44zM229.45 88.15H232.86V92.19H229.45zM253.3 88.15H256.7V92.19H253.3zM406.59 88.15H413.41V92.19H406.59zM103.41 92.19H106.81V96.23H103.41zM120.44 92.19H123.85V96.23H120.44zM229.45 92.19H232.86V96.23H229.45zM253.3 92.19H256.7V96.23H253.3zM406.59 92.19H413.41V96.23H406.59zM103.41 96.23H106.81V100.27H103.41zM120.44 96.23H123.85V100.27H120.44zM226.04 96.23H232.86V100.27H226.04zM253.3 96.23H256.7V100.27H253.3zM355.49 96.23H358.9V100.27H355.49zM103.41 100.27H106.81V104.31H103.41zM120.44 100.27H123.85V104.31H120.44zM178.35 100.27H181.76V104.31H178.35zM226.04 100.27H232.86V104.31H226.04zM253.3 100.27H256.7V104.31H253.3zM287.36 100.27H290.77V104.31H287.36zM297.58 100.27H300.99V104.31H297.58zM352.09 100.27H355.49V104.31H352.09zM103.41 104.31H106.81V108.35H103.41zM117.03 104.31H120.44V108.35H117.03zM178.35 104.31H188.57V108.35H178.35zM232.86 104.31H236.26V108.35H232.86zM239.67 104.31H243.08V108.35H239.67zM246.48 104.31H253.3V108.35H246.48zM287.36 104.31H290.77V108.35H287.36zM294.18 104.31H297.58V108.35H294.18zM348.68 104.31H355.49V108.35H348.68zM103.41 108.35H106.81V112.38H103.41zM113.63 108.35H117.03V112.38H113.63zM287.36 108.35H290.77V112.38H287.36zM294.18 108.35H297.58V112.38H294.18zM318.02 108.35H321.43V112.38H318.02zM324.84 108.35H331.65V112.38H324.84zM338.46 108.35H352.09V112.38H338.46zM287.36 112.38H290.77V116.42H287.36zM294.18 112.38H297.58V116.42H294.18zM335.05 112.38H338.46V116.42H335.05zM294.18 116.42H297.58V120.46H294.18zM335.05 116.42H338.46V120.46H335.05zM345.27 116.42H348.68V120.46H345.27zM294.18 120.46H297.58V124.5H294.18zM335.05 120.46H338.46V124.5H335.05zM345.27 120.46H348.68V124.5H345.27zM294.18 124.5H300.99V128.54H294.18zM335.05 124.5H338.46V128.54H335.05zM345.27 124.5H348.68V128.54H345.27zM294.18 128.54H300.99V132.58H294.18zM335.05 128.54H338.46V132.58H335.05zM345.27 128.54H348.68V132.58H345.27zM294.18 132.58H300.99V136.62H294.18zM335.05 132.58H338.46V136.62H335.05zM345.27 132.58H348.68V136.62H345.27zM294.18 136.62H300.99V140.65H294.18zM335.05 136.62H338.46V140.65H335.05zM345.27 136.62H348.68V140.65H345.27zM297.58 140.65H300.99V144.69H297.58zM335.05 140.65H338.46V144.69H335.05zM345.27 140.65H348.68V144.69H345.27zM297.58 144.69H300.99V148.73H297.58zM345.27 144.69H348.68V148.73H345.27zM294.18 148.73H300.99V152.77H294.18zM331.65 148.73H335.05V152.77H331.65zM345.27 148.73H348.68V152.77H345.27zM277.14 152.77H297.58V156.81H277.14zM300.99 152.77H304.4V156.81H300.99zM321.43 152.77H324.84V156.81H321.43zM331.65 152.77H341.87V156.81H331.65zM345.27 152.77H348.68V156.81H345.27zM304.4 156.81H321.43V160.85H304.4zM324.84 156.81H331.65V160.85H324.84zM352.09 156.81H358.9V160.85H352.09zM478.13 156.81H481.54V160.85H478.13zM484.95 156.81H488.35V160.85H484.95zM559.89 156.81H563.3V160.85H559.89zM304.4 160.85H314.62V164.88H304.4zM304.4 164.88H314.62V168.92H304.4zM539.45 164.88H542.86V168.92H539.45zM576.92 164.88H580.33V168.92H576.92zM593.96 164.88H597.36V168.92H593.96zM655.27 164.88H662.09V168.92H655.27zM304.4 168.92H314.62V172.96H304.4zM522.42 168.92H525.82V172.96H522.42zM607.58 168.92H614.4V172.96H607.58zM638.24 168.92H641.65V172.96H638.24zM662.09 168.92H665.49V172.96H662.09zM304.4 172.96H314.62V177H304.4zM621.21 172.96H634.84V177H621.21zM304.4 177H314.62V181.04H304.4zM624.62 177H634.84V181.04H624.62zM307.8 181.04H314.62V185.08H307.8zM621.21 181.04H634.84V185.08H621.21zM638.24 181.04H641.65V185.08H638.24zM307.8 185.08H314.62V189.12H307.8zM614.4 185.08H617.8V189.12H614.4zM621.21 185.08H634.84V189.12H621.21zM638.24 185.08H641.65V189.12H638.24zM662.09 185.08H665.49V189.12H662.09zM277.14 189.12H297.58V193.15H277.14zM300.99 189.12H304.4V193.15H300.99zM522.42 189.12H525.82V193.15H522.42zM576.92 189.12H580.33V193.15H576.92zM590.55 189.12H593.96V193.15H590.55zM641.65 189.12H648.46V193.15H641.65zM651.87 189.12H658.68V193.15H651.87zM314.62 193.15H321.43V197.19H314.62zM536.04 193.15H539.45V197.19H536.04zM314.62 197.19H321.43V201.23H314.62zM519.01 197.19H522.42V201.23H519.01zM536.04 197.19H542.86V201.23H536.04zM546.26 197.19H549.67V201.23H546.26zM576.92 197.19H583.74V201.23H576.92zM314.62 201.23H321.43V205.27H314.62zM341.87 201.23H345.27V205.27H341.87zM512.2 201.23H515.6V205.27H512.2zM525.82 201.23H529.23V205.27H525.82zM532.64 201.23H536.04V205.27H532.64zM546.26 201.23H549.67V205.27H546.26zM587.14 201.23H590.55V205.27H587.14zM314.62 205.27H321.43V209.31H314.62zM341.87 205.27H348.68V209.31H341.87zM389.56 205.27H392.97V209.31H389.56zM457.69 205.27H461.1V209.31H457.69zM467.91 205.27H471.32V209.31H467.91zM478.13 205.27H481.54V209.31H478.13zM484.95 205.27H488.35V209.31H484.95zM512.2 205.27H515.6V209.31H512.2zM525.82 205.27H529.23V209.31H525.82zM532.64 205.27H536.04V209.31H532.64zM546.26 205.27H549.67V209.31H546.26zM553.08 205.27H556.48V209.31H553.08zM559.89 205.27H563.3V209.31H559.89zM583.74 205.27H590.55V209.31H583.74zM314.62 209.31H321.43V213.35H314.62zM335.05 209.31H341.87V213.35H335.05zM348.68 209.31H352.09V213.35H348.68zM355.49 209.31H358.9V213.35H355.49zM372.53 209.31H379.34V213.35H372.53zM386.15 209.31H389.56V213.35H386.15zM392.97 209.31H396.37V213.35H392.97zM399.78 209.31H403.19V213.35H399.78zM406.59 209.31H413.41V213.35H406.59zM420.22 209.31H427.03V213.35H420.22zM430.44 209.31H433.85V213.35H430.44zM440.66 209.31H444.07V213.35H440.66zM464.51 209.31H467.91V213.35H464.51zM474.73 209.31H478.13V213.35H474.73zM488.35 209.31H491.76V213.35H488.35zM495.16 209.31H501.98V213.35H495.16zM508.79 209.31H512.2V213.35H508.79zM515.6 209.31H525.82V213.35H515.6zM536.04 209.31H546.26V213.35H536.04zM556.48 209.31H559.89V213.35H556.48zM563.3 209.31H570.11V213.35H563.3zM580.33 209.31H583.74V213.35H580.33zM314.62 213.35H321.43V217.38H314.62zM335.05 213.35H341.87V217.38H335.05zM314.62 217.38H321.43V221.42H314.62zM331.65 217.38H338.46V221.42H331.65zM314.62 221.42H318.02V225.46H314.62zM324.84 221.42H338.46V225.46H324.84zM321.43 225.46H324.84V229.5H321.43z"/>
<path fill="#56ffa0" d="M416.81 72H423.63V76.04H416.81zM416.81 76.04H423.63V80.08H416.81zM106.81 80.08H110.22V84.12H106.81zM117.03 80.08H120.44V84.12H117.03zM178.35 80.08H181.76V84.12H178.35zM185.16 80.08H188.57V84.12H185.16zM249.89 80.08H253.3V84.12H249.89zM416.81 80.08H423.63V84.12H416.81zM106.81 84.12H110.22V88.15H106.81zM117.03 84.12H120.44V88.15H117.03zM178.35 84.12H181.76V88.15H178.35zM185.16 84.12H188.57V88.15H185.16zM249.89 84.12H253.3V88.15H249.89zM416.81 84.12H423.63V88.15H416.81zM100 88.15H103.41V92.19H100zM123.85 88.15H137.47V92.19H123.85zM151.1 88.15H161.32V92.19H151.1zM164.73 88.15H178.35V92.19H164.73zM188.57 88.15H198.79V92.19H188.57zM226.04 88.15H229.45V92.19H226.04zM256.7 88.15H270.33V92.19H256.7zM413.41 88.15H416.81V92.19H413.41zM100 92.19H103.41V96.23H100zM123.85 92.19H137.47V96.23H123.85zM151.1 92.19H161.32V96.23H151.1zM164.73 92.19H178.35V96.23H164.73zM188.57 92.19H198.79V96.23H188.57zM226.04 92.19H229.45V96.23H226.04zM256.7 92.19H270.33V96.23H256.7zM413.41 92.19H416.81V96.23H413.41zM100 96.23H103.41V100.27H100zM123.85 96.23H137.47V100.27H123.85zM151.1 96.23H161.32V100.27H151.1zM164.73 96.23H178.35V100.27H164.73zM188.57 96.23H198.79V100.27H188.57zM209.01 96.23H212.42V100.27H209.01zM219.23 96.23H226.04V100.27H219.23zM256.7 96.23H270.33V100.27H256.7zM358.9 96.23H369.12V100.27H358.9zM372.53 96.23H375.93V100.27H372.53zM100 100.27H103.41V104.31H100zM123.85 100.27H137.47V104.31H123.85zM154.51 100.27H161.32V104.31H154.51zM164.73 100.27H178.35V104.31H164.73zM188.57 100.27H198.79V104.31H188.57zM209.01 100.27H212.42V104.31H209.01zM219.23 100.27H226.04V104.31H219.23zM256.7 100.27H266.92V104.31H256.7zM277.14 100.27H287.36V104.31H277.14zM290.77 100.27H294.18V104.31H290.77zM355.49 100.27H358.9V104.31H355.49zM100 104.31H103.41V108.35H100zM120.44 104.31H137.47V108.35H120.44zM154.51 104.31H161.32V108.35H154.51zM164.73 104.31H178.35V108.35H164.73zM188.57 104.31H195.38V108.35H188.57zM219.23 104.31H222.64V108.35H219.23zM226.04 104.31H232.86V108.35H226.04zM253.3 104.31H256.7V108.35H253.3zM280.55 104.31H287.36V108.35H280.55zM290.77 104.31H294.18V108.35H290.77zM297.58 104.31H300.99V108.35H297.58zM355.49 104.31H358.9V108.35H355.49zM100 108.35H103.41V112.38H100zM117.03 108.35H137.47V112.38H117.03zM157.91 108.35H161.32V112.38H157.91zM168.13 108.35H171.54V112.38H168.13zM178.35 108.35H188.57V112.38H178.35zM236.26 108.35H239.67V112.38H236.26zM243.08 108.35H246.48V112.38H243.08zM249.89 108.35H253.3V112.38H249.89zM280.55 108.35H287.36V112.38H280.55zM290.77 108.35H294.18V112.38H290.77zM297.58 108.35H300.99V112.38H297.58zM321.43 108.35H324.84V112.38H321.43zM331.65 108.35H335.05V112.38H331.65zM352.09 108.35H358.9V112.38H352.09zM106.81 112.38H117.03V116.42H106.81zM280.55 112.38H287.36V116.42H280.55zM290.77 112.38H294.18V116.42H290.77zM297.58 112.38H300.99V116.42H297.58zM318.02 112.38H321.43V116.42H318.02zM324.84 112.38H331.65V116.42H324.84zM338.46 112.38H358.9V116.42H338.46zM280.55 116.42H294.18V120.46H280.55zM297.58 116.42H300.99V120.46H297.58zM324.84 116.42H331.65V120.46H324.84zM338.46 116.42H345.27V120.46H338.46zM348.68 116.42H358.9V120.46H348.68zM280.55 120.46H294.18V124.5H280.55zM297.58 120.46H300.99V124.5H297.58zM324.84 120.46H335.05V124.5H324.84zM338.46 120.46H345.27V124.5H338.46zM348.68 120.46H358.9V124.5H348.68zM280.55 124.5H294.18V128.54H280.55zM324.84 124.5H335.05V128.54H324.84zM338.46 124.5H345.27V128.54H338.46zM348.68 124.5H358.9V128.54H348.68zM280.55 128.54H294.18V132.58H280.55zM321.43 128.54H335.05V132.58H321.43zM338.46 128.54H345.27V132.58H338.46zM348.68 128.54H358.9V132.58H348.68zM280.55 132.58H294.18V136.62H280.55zM321.43 132.58H335.05V136.62H321.43zM338.46 132.58H345.27V136.62H338.46zM348.68 132.58H358.9V136.62H348.68zM277.14 136.62H294.18V140.65H277.14zM321.43 136.62H335.05V140.65H321.43zM338.46 136.62H345.27V140.65H338.46zM348.68 136.62H355.49V140.65H348.68zM277.14 140.65H297.58V144.69H277.14zM321.43 140.65H335.05V144.69H321.43zM338.46 140.65H345.27V144.69H338.46zM348.68 140.65H355.49V144.69H348.68zM277.14 144.69H297.58V148.73H277.14zM321.43 144.69H345.27V148.73H321.43zM348.68 144.69H355.49V148.73H348.68zM277.14 148.73H294.18V152.77H277.14zM321.43 148.73H331.65V152.77H321.43zM335.05 148.73H345.27V152.77H335.05zM348.68 148.73H352.09V152.77H348.68zM314.62 152.77H321.43V156.81H314.62zM324.84 152.77H331.65V156.81H324.84zM341.87 152.77H345.27V156.81H341.87zM348.68 152.77H355.49V156.81H348.68zM702.97 152.77H709.78V156.81H702.97zM358.9 156.81H365.71V160.85H358.9zM369.12 156.81H375.93V160.85H369.12zM379.34 156.81H382.75V160.85H379.34zM386.15 156.81H389.56V160.85H386.15zM423.63 156.81H430.44V160.85H423.63zM433.85 156.81H447.47V160.85H433.85zM471.32 156.81H478.13V160.85H471.32zM488.35 156.81H491.76V160.85H488.35zM563.3 156.81H570.11V160.85H563.3zM702.97 156.81H709.78V160.85H702.97zM702.97 160.85H709.78V164.88H702.97zM590.55 164.88H593.96V168.92H590.55zM641.65 164.88H645.05V168.92H641.65zM702.97 164.88H709.78V168.92H702.97zM525.82 168.92H536.04V172.96H525.82zM614.4 168.92H638.24V172.96H614.4zM702.97 168.92H709.78V172.96H702.97zM634.84 172.96H638.24V177H634.84zM706.37 172.96H709.78V177H706.37zM634.84 177H638.24V181.04H634.84zM304.4 181.04H307.8V185.08H304.4zM634.84 181.04H638.24V185.08H634.84zM304.4 185.08H307.8V189.12H304.4zM634.84 185.08H638.24V189.12H634.84zM304.4 189.12H314.62V193.15H304.4zM525.82 189.12H536.04V193.15H525.82zM580.33 189.12H583.74V193.15H580.33zM587.14 189.12H590.55V193.15H587.14zM607.58 189.12H641.65V193.15H607.58zM658.68 189.12H662.09V193.15H658.68zM519.01 193.15H522.42V197.19H519.01zM576.92 193.15H580.33V197.19H576.92zM617.8 193.15H621.21V197.19H617.8zM624.62 193.15H638.24V197.19H624.62zM522.42 197.19H532.64V201.23H522.42zM583.74 197.19H590.55V201.23H583.74zM624.62 197.19H638.24V201.23H624.62zM590.55 201.23H593.96V205.27H590.55zM624.62 201.23H638.24V205.27H624.62zM590.55 205.27H593.96V209.31H590.55zM624.62 205.27H638.24V209.31H624.62zM341.87 209.31H348.68V213.35H341.87zM352.09 209.31H355.49V213.35H352.09zM358.9 209.31H372.53V213.35H358.9zM379.34 209.31H386.15V213.35H379.34zM389.56 209.31H392.97V213.35H389.56zM396.37 209.31H399.78V213.35H396.37zM403.19 209.31H406.59V213.35H403.19zM413.41 209.31H420.22V213.35H413.41zM427.03 209.31H430.44V213.35H427.03zM433.85 209.31H440.66V213.35H433.85zM444.07 209.31H464.51V213.35H444.07zM467.91 209.31H474.73V213.35H467.91zM478.13 209.31H488.35V213.35H478.13zM491.76 209.31H495.16V213.35H491.76zM501.98 209.31H508.79V213.35H501.98zM512.2 209.31H515.6V213.35H512.2zM525.82 209.31H536.04V213.35H525.82zM546.26 209.31H556.48V213.35H546.26zM559.89 209.31H563.3V213.35H559.89zM570.11 209.31H580.33V213.35H570.11zM583.74 209.31H587.14V213.35H583.74zM624.62 209.31H638.24V213.35H624.62zM355.49 213.35H358.9V217.38H355.49zM372.53 213.35H379.34V217.38H372.53zM420.22 213.35H427.03V217.38H420.22zM440.66 213.35H444.07V217.38H440.66zM474.73 213.35H478.13V217.38H474.73zM515.6 213.35H519.01V217.38H515.6zM542.86 213.35H546.26V217.38H542.86zM556.48 213.35H559.89V217.38H556.48zM563.3 213.35H570.11V217.38H563.3zM580.33 213.35H583.74V217.38H580.33zM338.46 217.38H341.87V221.42H338.46zM355.49 217.38H358.9V221.42H355.49zM375.93 217.38H379.34V221.42H375.93zM420.22 217.38H427.03V221.42H420.22zM440.66 217.38H444.07V221.42H440.66zM474.73 217.38H478.13V221.42H474.73zM515.6 217.38H519.01V221.42H515.6zM542.86 217.38H546.26V221.42H542.86zM566.7 217.38H570.11V221.42H566.7zM318.02 221.42H321.43V225.46H318.02zM338.46 221.42H341.87V225.46H338.46zM420.22 221.42H427.03V225.46H420.22zM314.62 225.46H321.43V229.5H314.62zM324.84 225.46H338.46V229.5H324.84z"/>
<path fill="#60ff97" d="M236.26 72H239.67V76.04H236.26zM423.63 72H427.03V76.04H423.63zM236.26 76.04H239.67V80.08H236.26zM423.63 76.04H427.03V80.08H423.63zM103.41 80.08H106.81V84.12H103.41zM120.44 80.08H127.25V84.12H120.44zM157.91 80.08H161.32V84.12H157.91zM164.73 80.08H174.95V84.12H164.73zM188.57 80.08H198.79V84.12H188.57zM226.04 80.08H232.86V84.12H226.04zM253.3 80.08H260.11V84.12H253.3zM263.52 80.08H266.92V84.12H263.52zM423.63 80.08H427.03V84.12H423.63zM103.41 84.12H106.81V88.15H103.41zM120.44 84.12H127.25V88.15H120.44zM157.91 84.12H161.32V88.15H157.91zM164.73 84.12H174.95V88.15H164.73zM188.57 84.12H198.79V88.15H188.57zM226.04 84.12H232.86V88.15H226.04zM253.3 84.12H260.11V88.15H253.3zM263.52 84.12H266.92V88.15H263.52zM423.63 84.12H427.03V88.15H423.63zM137.47 88.15H151.1V92.19H137.47zM161.32 88.15H164.73V92.19H161.32zM198.79 88.15H205.6V92.19H198.79zM209.01 88.15H212.42V92.19H209.01zM219.23 88.15H226.04V92.19H219.23zM270.33 88.15H277.14V92.19H270.33zM416.81 88.15H423.63V92.19H416.81zM137.47 92.19H151.1V96.23H137.47zM161.32 92.19H164.73V96.23H161.32zM198.79 92.19H205.6V96.23H198.79zM209.01 92.19H212.42V96.23H209.01zM219.23 92.19H226.04V96.23H219.23zM270.33 92.19H277.14V96.23H270.33zM416.81 92.19H423.63V96.23H416.81zM137.47 96.23H151.1V100.27H137.47zM161.32 96.23H164.73V100.27H161.32zM198.79 96.23H205.6V100.27H198.79zM212.42 96.23H219.23V100.27H212.42zM270.33 96.23H277.14V100.27H270.33zM369.12 96.23H372.53V100.27H369.12zM375.93 96.23H379.34V100.27H375.93zM137.47 100.27H154.51V104.31H137.47zM161.32 100.27H164.73V104.31H161.32zM198.79 100.27H205.6V104.31H198.79zM212.42 100.27H219.23V104.31H212.42zM266.92 100.27H277.14V104.31H266.92zM362.31 100.27H369.12V104.31H362.31zM137.47 104.31H154.51V108.35H137.47zM161.32 104.31H164.73V108.35H161.32zM195.38 104.31H198.79V108.35H195.38zM202.2 104.31H205.6V108.35H202.2zM209.01 104.31H219.23V108.35H209.01zM222.64 104.31H226.04V108.35H222.64zM256.7 104.31H280.55V108.35H256.7zM362.31 104.31H369.12V108.35H362.31zM137.47 108.35H157.91V112.38H137.47zM161.32 108.35H168.13V112.38H161.32zM171.54 108.35H178.35V112.38H171.54zM188.57 108.35H198.79V112.38H188.57zM226.04 108.35H236.26V112.38H226.04zM239.67 108.35H243.08V112.38H239.67zM246.48 108.35H249.89V112.38H246.48zM277.14 108.35H280.55V112.38H277.14zM362.31 108.35H369.12V112.38H362.31zM100 112.38H106.81V116.42H100zM117.03 112.38H120.44V116.42H117.03zM123.85 112.38H137.47V116.42H123.85zM144.29 112.38H147.69V116.42H144.29zM185.16 112.38H188.57V116.42H185.16zM277.14 112.38H280.55V116.42H277.14zM321.43 112.38H324.84V116.42H321.43zM331.65 112.38H335.05V116.42H331.65zM362.31 112.38H369.12V116.42H362.31zM277.14 116.42H280.55V120.46H277.14zM318.02 116.42H324.84V120.46H318.02zM331.65 116.42H335.05V120.46H331.65zM362.31 116.42H369.12V120.46H362.31zM277.14 120.46H280.55V124.5H277.14zM318.02 120.46H324.84V124.5H318.02zM362.31 120.46H365.71V124.5H362.31zM277.14 124.5H280.55V128.54H277.14zM318.02 124.5H324.84V128.54H318.02zM362.31 124.5H365.71V128.54H362.31zM277.14 128.54H280.55V132.58H277.14zM318.02 128.54H321.43V132.58H318.02zM362.31 128.54H365.71V132.58H362.31zM277.14 132.58H280.55V136.62H277.14zM318.02 132.58H321.43V136.62H318.02zM362.31 132.58H365.71V136.62H362.31zM318.02 136.62H321.43V140.65H318.02zM355.49 136.62H358.9V140.65H355.49zM362.31 136.62H365.71V140.65H362.31zM318.02 140.65H321.43V144.69H318.02zM355.49 140.65H358.9V144.69H355.49zM362.31 140.65H365.71V144.69H362.31zM318.02 144.69H321.43V148.73H318.02zM355.49 144.69H358.9V148.73H355.49zM362.31 144.69H365.71V148.73H362.31zM318.02 148.73H321.43V152.77H318.02zM352.09 148.73H358.9V152.77H352.09zM362.31 148.73H365.71V152.77H362.31zM702.97 148.73H709.78V152.77H702.97zM307.8 152.77H314.62V156.81H307.8zM355.49 152.77H358.9V156.81H355.49zM362.31 152.77H365.71V156.81H362.31zM365.71 156.81H369.12V160.85H365.71zM375.93 156.81H379.34V160.85H375.93zM382.75 156.81H386.15V160.85H382.75zM389.56 156.81H399.78V160.85H389.56zM416.81 156.81H423.63V160.85H416.81zM430.44 156.81H433.85V160.85H430.44zM447.47 156.81H471.32V160.85H447.47zM556.48 156.81H559.89V160.85H556.48zM570.11 156.81H573.52V160.85H570.11zM587.14 164.88H590.55V168.92H587.14zM607.58 164.88H610.99V168.92H607.58zM709.78 164.88H713.19V168.92H709.78zM709.78 168.92H713.19V172.96H709.78zM702.97 172.96H706.37V177H702.97zM706.37 177H709.78V181.04H706.37zM583.74 189.12H587.14V193.15H583.74zM297.58 193.15H300.99V197.19H297.58zM307.8 193.15H314.62V197.19H307.8zM522.42 193.15H525.82V197.19H522.42zM587.14 193.15H604.18V197.19H587.14zM614.4 193.15H617.8V197.19H614.4zM621.21 193.15H624.62V197.19H621.21zM638.24 193.15H648.46V197.19H638.24zM311.21 197.19H314.62V201.23H311.21zM532.64 197.19H536.04V201.23H532.64zM590.55 197.19H593.96V201.23H590.55zM617.8 197.19H624.62V201.23H617.8zM638.24 197.19H645.05V201.23H638.24zM311.21 201.23H314.62V205.27H311.21zM617.8 201.23H624.62V205.27H617.8zM638.24 201.23H645.05V205.27H638.24zM311.21 205.27H314.62V209.31H311.21zM617.8 205.27H624.62V209.31H617.8zM638.24 205.27H645.05V209.31H638.24zM311.21 209.31H314.62V213.35H311.21zM587.14 209.31H593.96V213.35H587.14zM617.8 209.31H624.62V213.35H617.8zM638.24 209.31H645.05V213.35H638.24zM311.21 213.35H314.62V217.38H311.21zM341.87 213.35H355.49V217.38H341.87zM358.9 213.35H372.53V217.38H358.9zM379.34 213.35H389.56V217.38H379.34zM392.97 213.35H420.22V217.38H392.97zM427.03 213.35H440.66V217.38H427.03zM444.07 213.35H474.73V217.38H444.07zM481.54 213.35H484.95V217.38H481.54zM488.35 213.35H512.2V217.38H488.35zM519.01 213.35H542.86V217.38H519.01zM546.26 213.35H553.08V217.38H546.26zM570.11 213.35H580.33V217.38H570.11zM583.74 213.35H587.14V217.38H583.74zM617.8 213.35H621.21V217.38H617.8zM624.62 213.35H638.24V217.38H624.62zM311.21 217.38H314.62V221.42H311.21zM345.27 217.38H355.49V221.42H345.27zM358.9 217.38H375.93V221.42H358.9zM382.75 217.38H389.56V221.42H382.75zM392.97 217.38H420.22V221.42H392.97zM427.03 217.38H440.66V221.42H427.03zM447.47 217.38H457.69V221.42H447.47zM461.1 217.38H467.91V221.42H461.1zM471.32 217.38H474.73V221.42H471.32zM481.54 217.38H484.95V221.42H481.54zM488.35 217.38H512.2V221.42H488.35zM519.01 217.38H525.82V221.42H519.01zM529.23 217.38H542.86V221.42H529.23zM549.67 217.38H553.08V221.42H549.67zM556.48 217.38H559.89V221.42H556.48zM563.3 217.38H566.7V221.42H563.3zM570.11 217.38H587.14V221.42H570.11zM311.21 221.42H314.62V225.46H311.21zM345.27 221.42H358.9V225.46H345.27zM362.31 221.42H365.71V225.46H362.31zM369.12 221.42H379.34V225.46H369.12zM382.75 221.42H389.56V225.46H382.75zM392.97 221.42H413.41V225.46H392.97zM430.44 221.42H437.25V225.46H430.44zM440.66 221.42H444.07V225.46H440.66zM447.47 221.42H450.88V225.46H447.47zM461.1 221.42H467.91V225.46H461.1zM474.73 221.42H478.13V225.46H474.73zM488.35 221.42H491.76V225.46H488.35zM495.16 221.42H505.38V225.46H495.16zM508.79 221.42H512.2V225.46H508.79zM515.6 221.42H525.82V225.46H515.6zM536.04 221.42H546.26V225.46H536.04zM549.67 221.42H553.08V225.46H549.67zM556.48 221.42H559.89V225.46H556.48zM563.3 221.42H576.92V225.46H563.3zM580.33 221.42H583.74V225.46H580.33zM311.21 225.46H314.62V229.5H311.21zM338.46 225.46H341.87V229.5H338.46zM420.22 225.46H423.63V229.5H420.22zM314.62 229.5H318.02V233.54H314.62zM321.43 229.5H331.65V233.54H321.43zM154.51 257.77H157.91V261.81H154.51z"/>
<path fill="#66ff90" d="M232.86 72H236.26V76.04H232.86zM239.67 72H249.89V76.04H239.67zM427.03 72H433.85V76.04H427.03zM232.86 76.04H236.26V80.08H232.86zM239.67 76.04H249.89V80.08H239.67zM427.03 76.04H433.85V80.08H427.03zM100 80.08H103.41V84.12H100zM127.25 80.08H137.47V84.12H127.25zM147.69 80.08H157.91V84.12H147.69zM161.32 80.08H164.73V84.12H161.32zM174.95 80.08H178.35V84.12H174.95zM198.79 80.08H202.2V84.12H198.79zM219.23 80.08H226.04V84.12H219.23zM260.11 80.08H263.52V84.12H260.11zM266.92 80.08H277.14V84.12H266.92zM427.03 80.08H433.85V84.12H427.03zM100 84.12H103.41V88.15H100zM127.25 84.12H137.47V88.15H127.25zM147.69 84.12H157.91V88.15H147.69zM161.32 84.12H164.73V88.15H161.32zM174.95 84.12H178.35V88.15H174.95zM198.79 84.12H202.2V88.15H198.79zM219.23 84.12H226.04V88.15H219.23zM260.11 84.12H263.52V88.15H260.11zM266.92 84.12H277.14V88.15H266.92zM427.03 84.12H433.85V88.15H427.03zM205.6 88.15H209.01V92.19H205.6zM212.42 88.15H219.23V92.19H212.42zM423.63 88.15H427.03V92.19H423.63zM205.6 92.19H209.01V96.23H205.6zM212.42 92.19H219.23V96.23H212.42zM423.63 92.19H427.03V96.23H423.63zM205.6 96.23H209.01V100.27H205.6zM379.34 96.23H389.56V100.27H379.34zM396.37 96.23H403.19V100.27H396.37zM205.6 100.27H209.01V104.31H205.6zM358.9 100.27H362.31V104.31H358.9zM372.53 100.27H375.93V104.31H372.53zM198.79 104.31H202.2V108.35H198.79zM205.6 104.31H209.01V108.35H205.6zM358.9 104.31H362.31V108.35H358.9zM372.53 104.31H375.93V108.35H372.53zM202.2 108.35H205.6V112.38H202.2zM209.01 108.35H226.04V112.38H209.01zM253.3 108.35H277.14V112.38H253.3zM358.9 108.35H362.31V112.38H358.9zM372.53 108.35H375.93V112.38H372.53zM120.44 112.38H123.85V116.42H120.44zM137.47 112.38H144.29V116.42H137.47zM147.69 112.38H185.16V116.42H147.69zM188.57 112.38H198.79V116.42H188.57zM232.86 112.38H239.67V116.42H232.86zM243.08 112.38H246.48V116.42H243.08zM249.89 112.38H253.3V116.42H249.89zM358.9 112.38H362.31V116.42H358.9zM372.53 112.38H375.93V116.42H372.53zM106.81 116.42H117.03V120.46H106.81zM249.89 116.42H253.3V120.46H249.89zM358.9 116.42H362.31V120.46H358.9zM372.53 116.42H375.93V120.46H372.53zM249.89 120.46H253.3V124.5H249.89zM358.9 120.46H362.31V124.5H358.9zM365.71 120.46H369.12V124.5H365.71zM372.53 120.46H375.93V124.5H372.53zM249.89 124.5H253.3V128.54H249.89zM358.9 124.5H362.31V128.54H358.9zM365.71 124.5H375.93V128.54H365.71zM559.89 124.5H563.3V128.54H559.89zM358.9 128.54H362.31V132.58H358.9zM365.71 128.54H375.93V132.58H365.71zM553.08 128.54H556.48V132.58H553.08zM559.89 128.54H563.3V132.58H559.89zM358.9 132.58H362.31V136.62H358.9zM365.71 132.58H375.93V136.62H365.71zM559.89 132.58H563.3V136.62H559.89zM358.9 136.62H362.31V140.65H358.9zM365.71 136.62H375.93V140.65H365.71zM559.89 136.62H563.3V140.65H559.89zM358.9 140.65H362.31V144.69H358.9zM365.71 140.65H375.93V144.69H365.71zM358.9 144.69H362.31V148.73H358.9zM365.71 144.69H375.93V148.73H365.71zM706.37 144.69H709.78V148.73H706.37zM358.9 148.73H362.31V152.77H358.9zM365.71 148.73H375.93V152.77H365.71zM699.56 148.73H702.97V152.77H699.56zM709.78 148.73H713.19V152.77H709.78zM304.4 152.77H307.8V156.81H304.4zM358.9 152.77H362.31V156.81H358.9zM369.12 152.77H375.93V156.81H369.12zM699.56 152.77H702.97V156.81H699.56zM709.78 152.77H713.19V156.81H709.78zM399.78 156.81H416.81V160.85H399.78zM491.76 156.81H495.16V160.85H491.76zM553.08 156.81H556.48V160.85H553.08zM573.52 156.81H576.92V160.85H573.52zM699.56 156.81H702.97V160.85H699.56zM709.78 156.81H713.19V160.85H709.78zM549.67 160.85H553.08V164.88H549.67zM699.56 160.85H702.97V164.88H699.56zM709.78 160.85H713.19V164.88H709.78zM580.33 164.88H587.14V168.92H580.33zM610.99 164.88H614.4V168.92H610.99zM624.62 164.88H631.43V168.92H624.62zM638.24 164.88H641.65V168.92H638.24zM662.09 164.88H665.49V168.92H662.09zM699.56 164.88H702.97V168.92H699.56zM699.56 168.92H702.97V172.96H699.56zM699.56 172.96H702.97V177H699.56zM709.78 172.96H713.19V177H709.78zM702.97 177H706.37V181.04H702.97zM277.14 193.15H283.96V197.19H277.14zM287.36 193.15H297.58V197.19H287.36zM300.99 193.15H307.8V197.19H300.99zM525.82 193.15H532.64V197.19H525.82zM580.33 193.15H587.14V197.19H580.33zM604.18 193.15H607.58V197.19H604.18zM610.99 193.15H614.4V197.19H610.99zM648.46 193.15H651.87V197.19H648.46zM307.8 197.19H311.21V201.23H307.8zM593.96 197.19H597.36V201.23H593.96zM614.4 197.19H617.8V201.23H614.4zM645.05 197.19H648.46V201.23H645.05zM307.8 201.23H311.21V205.27H307.8zM593.96 201.23H597.36V205.27H593.96zM614.4 201.23H617.8V205.27H614.4zM645.05 201.23H648.46V205.27H645.05zM593.96 205.27H597.36V209.31H593.96zM614.4 205.27H617.8V209.31H614.4zM645.05 205.27H648.46V209.31H645.05zM645.05 209.31H648.46V213.35H645.05zM389.56 213.35H392.97V217.38H389.56zM478.13 213.35H481.54V217.38H478.13zM484.95 213.35H488.35V217.38H484.95zM512.2 213.35H515.6V217.38H512.2zM553.08 213.35H556.48V217.38H553.08zM559.89 213.35H563.3V217.38H559.89zM587.14 213.35H593.96V217.38H587.14zM621.21 213.35H624.62V217.38H621.21zM638.24 213.35H645.05V217.38H638.24zM341.87 217.38H345.27V221.42H341.87zM379.34 217.38H382.75V221.42H379.34zM389.56 217.38H392.97V221.42H389.56zM444.07 217.38H447.47V221.42H444.07zM457.69 217.38H461.1V221.42H457.69zM467.91 217.38H471.32V221.42H467.91zM478.13 217.38H481.54V221.42H478.13zM484.95 217.38H488.35V221.42H484.95zM512.2 217.38H515.6V221.42H512.2zM525.82 217.38H529.23V221.42H525.82zM546.26 217.38H549.67V221.42H546.26zM553.08 217.38H556.48V221.42H553.08zM559.89 217.38H563.3V221.42H559.89zM587.14 217.38H593.96V221.42H587.14zM624.62 217.38H631.43V221.42H624.62zM634.84 217.38H638.24V221.42H634.84zM341.87 221.42H345.27V225.46H341.87zM358.9 221.42H362.31V225.46H358.9zM365.71 221.42H369.12V225.46H365.71zM379.34 221.42H382.75V225.46H379.34zM389.56 221.42H392.97V225.46H389.56zM413.41 221.42H420.22V225.46H413.41zM427.03 221.42H430.44V225.46H427.03zM437.25 221.42H440.66V225.46H437.25zM444.07 221.42H447.47V225.46H444.07zM450.88 221.42H461.1V225.46H450.88zM467.91 221.42H474.73V225.46H467.91zM478.13 221.42H488.35V225.46H478.13zM491.76 221.42H495.16V225.46H491.76zM505.38 221.42H508.79V225.46H505.38zM512.2 221.42H515.6V225.46H512.2zM525.82 221.42H536.04V225.46H525.82zM546.26 221.42H549.67V225.46H546.26zM553.08 221.42H556.48V225.46H553.08zM559.89 221.42H563.3V225.46H559.89zM576.92 221.42H580.33V225.46H576.92zM583.74 221.42H587.14V225.46H583.74zM590.55 221.42H593.96V225.46H590.55zM345.27 225.46H358.9V229.5H345.27zM362.31 225.46H365.71V229.5H362.31zM369.12 225.46H379.34V229.5H369.12zM382.75 225.46H389.56V229.5H382.75zM392.97 225.46H399.78V229.5H392.97zM403.19 225.46H410V229.5H403.19zM413.41 225.46H416.81V229.5H413.41zM423.63 225.46H427.03V229.5H423.63zM430.44 225.46H433.85V229.5H430.44zM440.66 225.46H444.07V229.5H440.66zM447.47 225.46H450.88V229.5H447.47zM461.1 225.46H467.91V229.5H461.1zM474.73 225.46H478.13V229.5H474.73zM488.35 225.46H491.76V229.5H488.35zM495.16 225.46H501.98V229.5H495.16zM508.79 225.46H512.2V229.5H508.79zM515.6 225.46H519.01V229.5H515.6zM522.42 225.46H525.82V229.5H522.42zM536.04 225.46H546.26V229.5H536.04zM549.67 225.46H553.08V229.5H549.67zM556.48 225.46H559.89V229.5H556.48zM563.3 225.46H573.52V229.5H563.3zM580.33 225.46H583.74V229.5H580.33zM311.21 229.5H314.62V233.54H311.21zM318.02 229.5H321.43V233.54H318.02zM331.65 229.5H341.87V233.54H331.65zM420.22 229.5H423.63V233.54H420.22zM154.51 249.69H157.91V253.73H154.51zM154.51 253.73H157.91V257.77H154.51zM161.32 253.73H164.73V257.77H161.32zM161.32 257.77H164.73V261.81H161.32zM154.51 261.81H157.91V265.85H154.51zM161.32 261.81H164.73V265.85H161.32zM154.51 265.85H157.91V269.88H154.51z"/>
<path fill="#6dff8a" d="M433.85 72H437.25V76.04H433.85zM433.85 76.04H437.25V80.08H433.85zM137.47 80.08H147.69V84.12H137.47zM202.2 80.08H205.6V84.12H202.2zM209.01 80.08H219.23V84.12H209.01zM433.85 80.08H437.25V84.12H433.85zM137.47 84.12H147.69V88.15H137.47zM202.2 84.12H205.6V88.15H202.2zM209.01 84.12H219.23V88.15H209.01zM433.85 84.12H437.25V88.15H433.85zM427.03 88.15H433.85V92.19H427.03zM427.03 92.19H433.85V96.23H427.03zM300.99 96.23H304.4V100.27H300.99zM314.62 96.23H318.02V100.27H314.62zM389.56 96.23H396.37V100.27H389.56zM403.19 96.23H416.81V100.27H403.19zM300.99 100.27H304.4V104.31H300.99zM314.62 100.27H318.02V104.31H314.62zM369.12 100.27H372.53V104.31H369.12zM375.93 100.27H389.56V104.31H375.93zM314.62 104.31H318.02V108.35H314.62zM369.12 104.31H372.53V108.35H369.12zM375.93 104.31H382.75V108.35H375.93zM386.15 104.31H389.56V108.35H386.15zM198.79 108.35H202.2V112.38H198.79zM205.6 108.35H209.01V112.38H205.6zM314.62 108.35H318.02V112.38H314.62zM369.12 108.35H372.53V112.38H369.12zM375.93 108.35H382.75V112.38H375.93zM386.15 108.35H389.56V112.38H386.15zM202.2 112.38H205.6V116.42H202.2zM209.01 112.38H232.86V116.42H209.01zM239.67 112.38H243.08V116.42H239.67zM246.48 112.38H249.89V116.42H246.48zM253.3 112.38H277.14V116.42H253.3zM314.62 112.38H318.02V116.42H314.62zM369.12 112.38H372.53V116.42H369.12zM375.93 112.38H382.75V116.42H375.93zM386.15 112.38H389.56V116.42H386.15zM713.19 112.38H720V116.42H713.19zM100 116.42H106.81V120.46H100zM117.03 116.42H120.44V120.46H117.03zM130.66 116.42H134.07V120.46H130.66zM191.98 116.42H198.79V120.46H191.98zM202.2 116.42H205.6V120.46H202.2zM209.01 116.42H212.42V120.46H209.01zM219.23 116.42H222.64V120.46H219.23zM226.04 116.42H239.67V120.46H226.04zM243.08 116.42H246.48V120.46H243.08zM253.3 116.42H256.7V120.46H253.3zM260.11 116.42H263.52V120.46H260.11zM270.33 116.42H273.74V120.46H270.33zM314.62 116.42H318.02V120.46H314.62zM369.12 116.42H372.53V120.46H369.12zM375.93 116.42H382.75V120.46H375.93zM386.15 116.42H389.56V120.46H386.15zM706.37 116.42H709.78V120.46H706.37zM713.19 116.42H720V120.46H713.19zM110.22 120.46H117.03V124.5H110.22zM195.38 120.46H198.79V124.5H195.38zM202.2 120.46H205.6V124.5H202.2zM219.23 120.46H222.64V124.5H219.23zM226.04 120.46H229.45V124.5H226.04zM232.86 120.46H239.67V124.5H232.86zM253.3 120.46H256.7V124.5H253.3zM260.11 120.46H263.52V124.5H260.11zM314.62 120.46H318.02V124.5H314.62zM369.12 120.46H372.53V124.5H369.12zM375.93 120.46H382.75V124.5H375.93zM386.15 120.46H389.56V124.5H386.15zM706.37 120.46H709.78V124.5H706.37zM713.19 120.46H720V124.5H713.19zM113.63 124.5H117.03V128.54H113.63zM195.38 124.5H198.79V128.54H195.38zM202.2 124.5H205.6V128.54H202.2zM219.23 124.5H222.64V128.54H219.23zM232.86 124.5H239.67V128.54H232.86zM253.3 124.5H256.7V128.54H253.3zM260.11 124.5H263.52V128.54H260.11zM314.62 124.5H318.02V128.54H314.62zM375.93 124.5H382.75V128.54H375.93zM386.15 124.5H389.56V128.54H386.15zM553.08 124.5H556.48V128.54H553.08zM706.37 124.5H709.78V128.54H706.37zM713.19 124.5H720V128.54H713.19zM113.63 128.54H117.03V132.58H113.63zM195.38 128.54H198.79V132.58H195.38zM202.2 128.54H205.6V132.58H202.2zM219.23 128.54H222.64V132.58H219.23zM232.86 128.54H239.67V132.58H232.86zM249.89 128.54H256.7V132.58H249.89zM260.11 128.54H263.52V132.58H260.11zM314.62 128.54H318.02V132.58H314.62zM375.93 128.54H382.75V132.58H375.93zM386.15 128.54H389.56V132.58H386.15zM556.48 128.54H559.89V132.58H556.48zM706.37 128.54H709.78V132.58H706.37zM713.19 128.54H720V132.58H713.19zM100 132.58H103.41V136.62H100zM113.63 132.58H117.03V136.62H113.63zM195.38 132.58H198.79V136.62H195.38zM202.2 132.58H205.6V136.62H202.2zM219.23 132.58H222.64V136.62H219.23zM232.86 132.58H239.67V136.62H232.86zM249.89 132.58H256.7V136.62H249.89zM260.11 132.58H263.52V136.62H260.11zM314.62 132.58H318.02V136.62H314.62zM375.93 132.58H382.75V136.62H375.93zM386.15 132.58H389.56V136.62H386.15zM553.08 132.58H559.89V136.62H553.08zM706.37 132.58H709.78V136.62H706.37zM713.19 132.58H720V136.62H713.19zM100 136.62H103.41V140.65H100zM113.63 136.62H117.03V140.65H113.63zM195.38 136.62H198.79V140.65H195.38zM249.89 136.62H253.3V140.65H249.89zM314.62 136.62H318.02V140.65H314.62zM375.93 136.62H382.75V140.65H375.93zM553.08 136.62H556.48V140.65H553.08zM706.37 136.62H709.78V140.65H706.37zM713.19 136.62H720V140.65H713.19zM100 140.65H103.41V144.69H100zM113.63 140.65H117.03V144.69H113.63zM314.62 140.65H318.02V144.69H314.62zM375.93 140.65H382.75V144.69H375.93zM702.97 140.65H709.78V144.69H702.97zM713.19 140.65H720V144.69H713.19zM314.62 144.69H318.02V148.73H314.62zM375.93 144.69H382.75V148.73H375.93zM699.56 144.69H706.37V148.73H699.56zM709.78 144.69H716.59V148.73H709.78zM110.22 148.73H117.03V152.77H110.22zM300.99 148.73H304.4V152.77H300.99zM314.62 148.73H318.02V152.77H314.62zM375.93 148.73H382.75V152.77H375.93zM110.22 152.77H117.03V156.81H110.22zM365.71 152.77H369.12V156.81H365.71zM375.93 152.77H389.56V156.81H375.93zM423.63 152.77H427.03V156.81H423.63zM433.85 152.77H437.25V156.81H433.85zM440.66 152.77H444.07V156.81H440.66zM481.54 152.77H484.95V156.81H481.54zM110.22 156.81H117.03V160.85H110.22zM110.22 160.85H113.63V164.88H110.22zM576.92 160.85H580.33V164.88H576.92zM593.96 160.85H607.58V164.88H593.96zM501.98 164.88H512.2V168.92H501.98zM536.04 164.88H539.45V168.92H536.04zM614.4 164.88H624.62V168.92H614.4zM631.43 164.88H638.24V168.92H631.43zM713.19 164.88H716.59V168.92H713.19zM665.49 168.92H668.9V172.96H665.49zM713.19 168.92H716.59V172.96H713.19zM665.49 172.96H668.9V177H665.49zM665.49 177H668.9V181.04H665.49zM699.56 177H702.97V181.04H699.56zM709.78 177H713.19V181.04H709.78zM665.49 181.04H668.9V185.08H665.49zM706.37 181.04H709.78V185.08H706.37zM662.09 189.12H665.49V193.15H662.09zM283.96 193.15H287.36V197.19H283.96zM532.64 193.15H536.04V197.19H532.64zM607.58 193.15H610.99V197.19H607.58zM260.11 197.19H263.52V201.23H260.11zM266.92 197.19H270.33V201.23H266.92zM277.14 197.19H283.96V201.23H277.14zM287.36 197.19H307.8V201.23H287.36zM597.36 197.19H604.18V201.23H597.36zM610.99 197.19H614.4V201.23H610.99zM648.46 197.19H651.87V201.23H648.46zM260.11 201.23H263.52V205.27H260.11zM266.92 201.23H270.33V205.27H266.92zM277.14 201.23H280.55V205.27H277.14zM287.36 201.23H300.99V205.27H287.36zM304.4 201.23H307.8V205.27H304.4zM597.36 201.23H600.77V205.27H597.36zM260.11 205.27H263.52V209.31H260.11zM266.92 205.27H270.33V209.31H266.92zM277.14 205.27H280.55V209.31H277.14zM287.36 205.27H300.99V209.31H287.36zM304.4 205.27H311.21V209.31H304.4zM597.36 205.27H600.77V209.31H597.36zM253.3 209.31H256.7V213.35H253.3zM260.11 209.31H263.52V213.35H260.11zM266.92 209.31H270.33V213.35H266.92zM277.14 209.31H280.55V213.35H277.14zM287.36 209.31H300.99V213.35H287.36zM304.4 209.31H311.21V213.35H304.4zM593.96 209.31H597.36V213.35H593.96zM614.4 209.31H617.8V213.35H614.4zM266.92 213.35H270.33V217.38H266.92zM277.14 213.35H280.55V217.38H277.14zM287.36 213.35H300.99V217.38H287.36zM304.4 213.35H311.21V217.38H304.4zM593.96 213.35H597.36V217.38H593.96zM614.4 213.35H617.8V217.38H614.4zM645.05 213.35H648.46V217.38H645.05zM277.14 217.38H280.55V221.42H277.14zM287.36 217.38H300.99V221.42H287.36zM304.4 217.38H311.21V221.42H304.4zM593.96 217.38H597.36V221.42H593.96zM617.8 217.38H624.62V221.42H617.8zM631.43 217.38H634.84V221.42H631.43zM638.24 217.38H641.65V221.42H638.24zM277.14 221.42H280.55V225.46H277.14zM283.96 221.42H300.99V225.46H283.96zM304.4 221.42H311.21V225.46H304.4zM587.14 221.42H590.55V225.46H587.14zM277.14 225.46H280.55V229.5H277.14zM283.96 225.46H287.36V229.5H283.96zM290.77 225.46H300.99V229.5H290.77zM304.4 225.46H311.21V229.5H304.4zM341.87 225.46H345.27V229.5H341.87zM358.9 225.46H362.31V229.5H358.9zM365.71 225.46H369.12V229.5H365.71zM379.34 225.46H382.75V229.5H379.34zM389.56 225.46H392.97V229.5H389.56zM399.78 225.46H403.19V229.5H399.78zM410 225.46H413.41V229.5H410zM416.81 225.46H420.22V229.5H416.81zM427.03 225.46H430.44V229.5H427.03zM433.85 225.46H440.66V229.5H433.85zM444.07 225.46H447.47V229.5H444.07zM450.88 225.46H461.1V229.5H450.88zM467.91 225.46H474.73V229.5H467.91zM478.13 225.46H488.35V229.5H478.13zM491.76 225.46H495.16V229.5H491.76zM501.98 225.46H508.79V229.5H501.98zM512.2 225.46H515.6V229.5H512.2zM519.01 225.46H522.42V229.5H519.01zM525.82 225.46H536.04V229.5H525.82zM546.26 225.46H549.67V229.5H546.26zM553.08 225.46H556.48V229.5H553.08zM559.89 225.46H563.3V229.5H559.89zM573.52 225.46H580.33V229.5H573.52zM583.74 225.46H593.96V229.5H583.74zM294.18 229.5H300.99V233.54H294.18zM307.8 229.5H311.21V233.54H307.8zM345.27 229.5H358.9V233.54H345.27zM362.31 229.5H365.71V233.54H362.31zM369.12 229.5H379.34V233.54H369.12zM382.75 229.5H386.15V233.54H382.75zM392.97 229.5H396.37V233.54H392.97zM403.19 229.5H410V233.54H403.19zM413.41 229.5H416.81V233.54H413.41zM423.63 229.5H427.03V233.54H423.63zM440.66 229.5H444.07V233.54H440.66zM447.47 229.5H450.88V233.54H447.47zM461.1 229.5H467.91V233.54H461.1zM474.73 229.5H478.13V233.54H474.73zM498.57 229.5H501.98V233.54H498.57zM515.6 229.5H519.01V233.54H515.6zM536.04 229.5H546.26V233.54H536.04zM549.67 229.5H553.08V233.54H549.67zM556.48 229.5H559.89V233.54H556.48zM563.3 229.5H573.52V233.54H563.3zM580.33 229.5H583.74V233.54H580.33zM314.62 233.54H318.02V237.58H314.62zM321.43 233.54H331.65V237.58H321.43zM335.05 233.54H341.87V237.58H335.05zM345.27 233.54H348.68V237.58H345.27zM352.09 233.54H355.49V237.58H352.09zM369.12 233.54H372.53V237.58H369.12zM413.41 233.54H416.81V237.58H413.41zM420.22 233.54H427.03V237.58H420.22zM474.73 233.54H478.13V237.58H474.73zM542.86 233.54H546.26V237.58H542.86zM556.48 233.54H559.89V237.58H556.48zM352.09 237.58H355.49V241.62H352.09zM369.12 237.58H372.53V241.62H369.12zM413.41 237.58H416.81V241.62H413.41zM420.22 237.58H427.03V241.62H420.22zM474.73 237.58H478.13V241.62H474.73zM542.86 237.58H546.26V241.62H542.86zM556.48 237.58H559.89V241.62H556.48zM352.09 241.62H355.49V245.65H352.09zM413.41 241.62H416.81V245.65H413.41zM420.22 241.62H427.03V245.65H420.22zM474.73 241.62H478.13V245.65H474.73zM542.86 241.62H546.26V245.65H542.86zM157.91 249.69H164.73V253.73H157.91zM151.1 253.73H154.51V257.77H151.1zM157.91 253.73H161.32V257.77H157.91zM151.1 257.77H154.51V261.81H151.1zM157.91 257.77H161.32V261.81H157.91zM151.1 261.81H154.51V265.85H151.1zM157.91 261.81H161.32V265.85H157.91zM157.91 265.85H164.73V269.88H157.91zM154.51 269.88H157.91V273.92H154.51zM161.32 269.88H164.73V273.92H161.32z"/>
<path fill="#73ff83" d="M229.45 72H232.86V76.04H229.45zM444.07 72H447.47V76.04H444.07zM461.1 72H467.91V76.04H461.1zM474.73 72H478.13V76.04H474.73zM229.45 76.04H232.86V80.08H229.45zM444.07 76.04H447.47V80.08H444.07zM461.1 76.04H467.91V80.08H461.1zM474.73 76.04H478.13V80.08H474.73zM205.6 80.08H209.01V84.12H205.6zM444.07 80.08H447.47V84.12H444.07zM464.51 80.08H467.91V84.12H464.51zM474.73 80.08H478.13V84.12H474.73zM205.6 84.12H209.01V88.15H205.6zM444.07 84.12H447.47V88.15H444.07zM464.51 84.12H467.91V88.15H464.51zM474.73 84.12H478.13V88.15H474.73zM433.85 88.15H437.25V92.19H433.85zM444.07 88.15H447.47V92.19H444.07zM474.73 88.15H478.13V92.19H474.73zM433.85 92.19H437.25V96.23H433.85zM444.07 92.19H447.47V96.23H444.07zM474.73 92.19H478.13V96.23H474.73zM416.81 96.23H437.25V100.27H416.81zM444.07 96.23H447.47V100.27H444.07zM474.73 96.23H478.13V100.27H474.73zM481.54 96.23H484.95V100.27H481.54zM392.97 100.27H406.59V104.31H392.97zM410 100.27H416.81V104.31H410zM420.22 100.27H427.03V104.31H420.22zM430.44 100.27H433.85V104.31H430.44zM444.07 100.27H447.47V104.31H444.07zM474.73 100.27H484.95V104.31H474.73zM699.56 100.27H702.97V104.31H699.56zM300.99 104.31H304.4V108.35H300.99zM382.75 104.31H386.15V108.35H382.75zM396.37 104.31H406.59V108.35H396.37zM413.41 104.31H416.81V108.35H413.41zM423.63 104.31H427.03V108.35H423.63zM430.44 104.31H433.85V108.35H430.44zM444.07 104.31H447.47V108.35H444.07zM471.32 104.31H484.95V108.35H471.32zM696.15 104.31H709.78V108.35H696.15zM713.19 104.31H720V108.35H713.19zM300.99 108.35H304.4V112.38H300.99zM382.75 108.35H386.15V112.38H382.75zM396.37 108.35H406.59V112.38H396.37zM423.63 108.35H427.03V112.38H423.63zM430.44 108.35H433.85V112.38H430.44zM444.07 108.35H447.47V112.38H444.07zM471.32 108.35H484.95V112.38H471.32zM696.15 108.35H720V112.38H696.15zM198.79 112.38H202.2V116.42H198.79zM205.6 112.38H209.01V116.42H205.6zM300.99 112.38H304.4V116.42H300.99zM382.75 112.38H386.15V116.42H382.75zM396.37 112.38H399.78V116.42H396.37zM403.19 112.38H406.59V116.42H403.19zM423.63 112.38H427.03V116.42H423.63zM430.44 112.38H433.85V116.42H430.44zM444.07 112.38H447.47V116.42H444.07zM471.32 112.38H484.95V116.42H471.32zM696.15 112.38H713.19V116.42H696.15zM120.44 116.42H130.66V120.46H120.44zM134.07 116.42H147.69V120.46H134.07zM174.95 116.42H191.98V120.46H174.95zM198.79 116.42H202.2V120.46H198.79zM205.6 116.42H209.01V120.46H205.6zM212.42 116.42H219.23V120.46H212.42zM222.64 116.42H226.04V120.46H222.64zM239.67 116.42H243.08V120.46H239.67zM246.48 116.42H249.89V120.46H246.48zM256.7 116.42H260.11V120.46H256.7zM263.52 116.42H270.33V120.46H263.52zM273.74 116.42H277.14V120.46H273.74zM300.99 116.42H304.4V120.46H300.99zM382.75 116.42H386.15V120.46H382.75zM396.37 116.42H399.78V120.46H396.37zM403.19 116.42H406.59V120.46H403.19zM423.63 116.42H427.03V120.46H423.63zM430.44 116.42H433.85V120.46H430.44zM444.07 116.42H447.47V120.46H444.07zM471.32 116.42H484.95V120.46H471.32zM699.56 116.42H706.37V120.46H699.56zM709.78 116.42H713.19V120.46H709.78zM106.81 120.46H110.22V124.5H106.81zM117.03 120.46H120.44V124.5H117.03zM191.98 120.46H195.38V124.5H191.98zM198.79 120.46H202.2V124.5H198.79zM209.01 120.46H219.23V124.5H209.01zM222.64 120.46H226.04V124.5H222.64zM229.45 120.46H232.86V124.5H229.45zM239.67 120.46H249.89V124.5H239.67zM256.7 120.46H260.11V124.5H256.7zM263.52 120.46H277.14V124.5H263.52zM300.99 120.46H304.4V124.5H300.99zM382.75 120.46H386.15V124.5H382.75zM396.37 120.46H399.78V124.5H396.37zM403.19 120.46H406.59V124.5H403.19zM423.63 120.46H427.03V124.5H423.63zM430.44 120.46H433.85V124.5H430.44zM444.07 120.46H447.47V124.5H444.07zM471.32 120.46H474.73V124.5H471.32zM478.13 120.46H484.95V124.5H478.13zM553.08 120.46H556.48V124.5H553.08zM559.89 120.46H563.3V124.5H559.89zM699.56 120.46H706.37V124.5H699.56zM709.78 120.46H713.19V124.5H709.78zM100 124.5H103.41V128.54H100zM106.81 124.5H113.63V128.54H106.81zM117.03 124.5H120.44V128.54H117.03zM198.79 124.5H202.2V128.54H198.79zM209.01 124.5H219.23V128.54H209.01zM222.64 124.5H232.86V128.54H222.64zM239.67 124.5H249.89V128.54H239.67zM256.7 124.5H260.11V128.54H256.7zM263.52 124.5H273.74V128.54H263.52zM300.99 124.5H304.4V128.54H300.99zM382.75 124.5H386.15V128.54H382.75zM396.37 124.5H399.78V128.54H396.37zM403.19 124.5H406.59V128.54H403.19zM423.63 124.5H427.03V128.54H423.63zM444.07 124.5H447.47V128.54H444.07zM471.32 124.5H474.73V128.54H471.32zM478.13 124.5H484.95V128.54H478.13zM556.48 124.5H559.89V128.54H556.48zM699.56 124.5H706.37V128.54H699.56zM709.78 124.5H713.19V128.54H709.78zM100 128.54H113.63V132.58H100zM198.79 128.54H202.2V132.58H198.79zM205.6 128.54H219.23V132.58H205.6zM222.64 128.54H232.86V132.58H222.64zM239.67 128.54H249.89V132.58H239.67zM256.7 128.54H260.11V132.58H256.7zM263.52 128.54H273.74V132.58H263.52zM300.99 128.54H304.4V132.58H300.99zM382.75 128.54H386.15V132.58H382.75zM423.63 128.54H430.44V132.58H423.63zM433.85 128.54H437.25V132.58H433.85zM444.07 128.54H447.47V132.58H444.07zM471.32 128.54H474.73V132.58H471.32zM563.3 128.54H566.7V132.58H563.3zM699.56 128.54H706.37V132.58H699.56zM709.78 128.54H713.19V132.58H709.78zM103.41 132.58H113.63V136.62H103.41zM198.79 132.58H202.2V136.62H198.79zM205.6 132.58H219.23V136.62H205.6zM222.64 132.58H232.86V136.62H222.64zM239.67 132.58H249.89V136.62H239.67zM256.7 132.58H260.11V136.62H256.7zM263.52 132.58H273.74V136.62H263.52zM300.99 132.58H304.4V136.62H300.99zM382.75 132.58H386.15V136.62H382.75zM423.63 132.58H430.44V136.62H423.63zM433.85 132.58H437.25V136.62H433.85zM444.07 132.58H447.47V136.62H444.07zM471.32 132.58H474.73V136.62H471.32zM563.3 132.58H566.7V136.62H563.3zM699.56 132.58H706.37V136.62H699.56zM709.78 132.58H713.19V136.62H709.78zM103.41 136.62H113.63V140.65H103.41zM198.79 136.62H205.6V140.65H198.79zM209.01 136.62H249.89V140.65H209.01zM253.3 136.62H273.74V140.65H253.3zM300.99 136.62H304.4V140.65H300.99zM382.75 136.62H389.56V140.65H382.75zM423.63 136.62H430.44V140.65H423.63zM433.85 136.62H437.25V140.65H433.85zM444.07 136.62H447.47V140.65H444.07zM471.32 136.62H474.73V140.65H471.32zM556.48 136.62H559.89V140.65H556.48zM699.56 136.62H706.37V140.65H699.56zM709.78 136.62H713.19V140.65H709.78zM103.41 140.65H113.63V144.69H103.41zM195.38 140.65H198.79V144.69H195.38zM232.86 140.65H236.26V144.69H232.86zM249.89 140.65H253.3V144.69H249.89zM300.99 140.65H304.4V144.69H300.99zM382.75 140.65H389.56V144.69H382.75zM423.63 140.65H430.44V144.69H423.63zM433.85 140.65H437.25V144.69H433.85zM440.66 140.65H447.47V144.69H440.66zM471.32 140.65H474.73V144.69H471.32zM559.89 140.65H563.3V144.69H559.89zM699.56 140.65H702.97V144.69H699.56zM709.78 140.65H713.19V144.69H709.78zM100 144.69H106.81V148.73H100zM110.22 144.69H120.44V148.73H110.22zM300.99 144.69H304.4V148.73H300.99zM382.75 144.69H389.56V148.73H382.75zM423.63 144.69H430.44V148.73H423.63zM433.85 144.69H437.25V148.73H433.85zM440.66 144.69H447.47V148.73H440.66zM471.32 144.69H474.73V148.73H471.32zM716.59 144.69H720V148.73H716.59zM100 148.73H110.22V152.77H100zM117.03 148.73H120.44V152.77H117.03zM382.75 148.73H389.56V152.77H382.75zM423.63 148.73H430.44V152.77H423.63zM433.85 148.73H437.25V152.77H433.85zM440.66 148.73H447.47V152.77H440.66zM454.29 148.73H457.69V152.77H454.29zM461.1 148.73H467.91V152.77H461.1zM471.32 148.73H474.73V152.77H471.32zM713.19 148.73H716.59V152.77H713.19zM100 152.77H110.22V156.81H100zM117.03 152.77H120.44V156.81H117.03zM389.56 152.77H392.97V156.81H389.56zM420.22 152.77H423.63V156.81H420.22zM427.03 152.77H433.85V156.81H427.03zM437.25 152.77H440.66V156.81H437.25zM444.07 152.77H447.47V156.81H444.07zM450.88 152.77H481.54V156.81H450.88zM484.95 152.77H488.35V156.81H484.95zM713.19 152.77H716.59V156.81H713.19zM100 156.81H110.22V160.85H100zM117.03 156.81H120.44V160.85H117.03zM100 160.85H110.22V164.88H100zM113.63 160.85H120.44V164.88H113.63zM501.98 160.85H505.38V164.88H501.98zM590.55 160.85H593.96V164.88H590.55zM645.05 160.85H651.87V164.88H645.05zM713.19 160.85H716.59V164.88H713.19zM100 164.88H106.81V168.92H100zM512.2 164.88H515.6V168.92H512.2zM702.97 181.04H706.37V185.08H702.97zM665.49 185.08H668.9V189.12H665.49zM249.89 193.15H256.7V197.19H249.89zM260.11 193.15H270.33V197.19H260.11zM651.87 193.15H655.27V197.19H651.87zM249.89 197.19H260.11V201.23H249.89zM263.52 197.19H266.92V201.23H263.52zM270.33 197.19H273.74V201.23H270.33zM283.96 197.19H287.36V201.23H283.96zM604.18 197.19H607.58V201.23H604.18zM249.89 201.23H260.11V205.27H249.89zM263.52 201.23H266.92V205.27H263.52zM270.33 201.23H277.14V205.27H270.33zM280.55 201.23H287.36V205.27H280.55zM300.99 201.23H304.4V205.27H300.99zM600.77 201.23H604.18V205.27H600.77zM610.99 201.23H614.4V205.27H610.99zM648.46 201.23H651.87V205.27H648.46zM249.89 205.27H260.11V209.31H249.89zM263.52 205.27H266.92V209.31H263.52zM270.33 205.27H277.14V209.31H270.33zM280.55 205.27H287.36V209.31H280.55zM300.99 205.27H304.4V209.31H300.99zM610.99 205.27H614.4V209.31H610.99zM648.46 205.27H651.87V209.31H648.46zM243.08 209.31H253.3V213.35H243.08zM256.7 209.31H260.11V213.35H256.7zM263.52 209.31H266.92V213.35H263.52zM270.33 209.31H277.14V213.35H270.33zM280.55 209.31H287.36V213.35H280.55zM300.99 209.31H304.4V213.35H300.99zM597.36 209.31H600.77V213.35H597.36zM610.99 209.31H614.4V213.35H610.99zM648.46 209.31H651.87V213.35H648.46zM243.08 213.35H266.92V217.38H243.08zM270.33 213.35H277.14V217.38H270.33zM280.55 213.35H287.36V217.38H280.55zM300.99 213.35H304.4V217.38H300.99zM597.36 213.35H600.77V217.38H597.36zM610.99 213.35H614.4V217.38H610.99zM648.46 213.35H651.87V217.38H648.46zM239.67 217.38H277.14V221.42H239.67zM280.55 217.38H287.36V221.42H280.55zM300.99 217.38H304.4V221.42H300.99zM597.36 217.38H600.77V221.42H597.36zM610.99 217.38H617.8V221.42H610.99zM641.65 217.38H648.46V221.42H641.65zM209.01 221.42H212.42V225.46H209.01zM215.82 221.42H219.23V225.46H215.82zM239.67 221.42H256.7V225.46H239.67zM270.33 221.42H277.14V225.46H270.33zM280.55 221.42H283.96V225.46H280.55zM300.99 221.42H304.4V225.46H300.99zM593.96 221.42H600.77V225.46H593.96zM617.8 221.42H621.21V225.46H617.8zM624.62 221.42H638.24V225.46H624.62zM188.57 225.46H191.98V229.5H188.57zM195.38 225.46H198.79V229.5H195.38zM209.01 225.46H219.23V229.5H209.01zM229.45 225.46H232.86V229.5H229.45zM239.67 225.46H246.48V229.5H239.67zM273.74 225.46H277.14V229.5H273.74zM280.55 225.46H283.96V229.5H280.55zM287.36 225.46H290.77V229.5H287.36zM300.99 225.46H304.4V229.5H300.99zM593.96 225.46H600.77V229.5H593.96zM617.8 225.46H621.21V229.5H617.8zM624.62 225.46H628.02V229.5H624.62zM634.84 225.46H638.24V229.5H634.84zM188.57 229.5H191.98V233.54H188.57zM195.38 229.5H198.79V233.54H195.38zM209.01 229.5H219.23V233.54H209.01zM229.45 229.5H232.86V233.54H229.45zM243.08 229.5H246.48V233.54H243.08zM273.74 229.5H294.18V233.54H273.74zM300.99 229.5H307.8V233.54H300.99zM341.87 229.5H345.27V233.54H341.87zM358.9 229.5H362.31V233.54H358.9zM365.71 229.5H369.12V233.54H365.71zM379.34 229.5H382.75V233.54H379.34zM386.15 229.5H392.97V233.54H386.15zM396.37 229.5H403.19V233.54H396.37zM410 229.5H413.41V233.54H410zM416.81 229.5H420.22V233.54H416.81zM427.03 229.5H440.66V233.54H427.03zM444.07 229.5H447.47V233.54H444.07zM450.88 229.5H461.1V233.54H450.88zM467.91 229.5H474.73V233.54H467.91zM478.13 229.5H498.57V233.54H478.13zM501.98 229.5H515.6V233.54H501.98zM519.01 229.5H536.04V233.54H519.01zM546.26 229.5H549.67V233.54H546.26zM553.08 229.5H556.48V233.54H553.08zM559.89 229.5H563.3V233.54H559.89zM573.52 229.5H580.33V233.54H573.52zM583.74 229.5H593.96V233.54H583.74zM597.36 229.5H600.77V233.54H597.36zM617.8 229.5H621.21V233.54H617.8zM624.62 229.5H628.02V233.54H624.62zM188.57 233.54H191.98V237.58H188.57zM195.38 233.54H198.79V237.58H195.38zM209.01 233.54H219.23V237.58H209.01zM243.08 233.54H246.48V237.58H243.08zM273.74 233.54H280.55V237.58H273.74zM283.96 233.54H287.36V237.58H283.96zM290.77 233.54H300.99V237.58H290.77zM304.4 233.54H314.62V237.58H304.4zM318.02 233.54H321.43V237.58H318.02zM331.65 233.54H335.05V237.58H331.65zM341.87 233.54H345.27V237.58H341.87zM348.68 233.54H352.09V237.58H348.68zM355.49 233.54H369.12V237.58H355.49zM372.53 233.54H413.41V237.58H372.53zM416.81 233.54H420.22V237.58H416.81zM430.44 233.54H457.69V237.58H430.44zM461.1 233.54H474.73V237.58H461.1zM481.54 233.54H542.86V237.58H481.54zM546.26 233.54H553.08V237.58H546.26zM563.3 233.54H587.14V237.58H563.3zM590.55 233.54H593.96V237.58H590.55zM597.36 233.54H600.77V237.58H597.36zM617.8 233.54H621.21V237.58H617.8zM188.57 237.58H191.98V241.62H188.57zM195.38 237.58H198.79V241.62H195.38zM209.01 237.58H219.23V241.62H209.01zM232.86 237.58H236.26V241.62H232.86zM243.08 237.58H246.48V241.62H243.08zM335.05 237.58H352.09V241.62H335.05zM355.49 237.58H369.12V241.62H355.49zM372.53 237.58H379.34V241.62H372.53zM403.19 237.58H413.41V241.62H403.19zM416.81 237.58H420.22V241.62H416.81zM430.44 237.58H457.69V241.62H430.44zM461.1 237.58H474.73V241.62H461.1zM481.54 237.58H529.23V241.62H481.54zM536.04 237.58H542.86V241.62H536.04zM546.26 237.58H553.08V241.62H546.26zM566.7 237.58H570.11V241.62H566.7zM188.57 241.62H191.98V245.65H188.57zM195.38 241.62H198.79V245.65H195.38zM212.42 241.62H219.23V245.65H212.42zM232.86 241.62H236.26V245.65H232.86zM243.08 241.62H246.48V245.65H243.08zM345.27 241.62H352.09V245.65H345.27zM355.49 241.62H372.53V245.65H355.49zM403.19 241.62H410V245.65H403.19zM416.81 241.62H420.22V245.65H416.81zM430.44 241.62H433.85V245.65H430.44zM437.25 241.62H457.69V245.65H437.25zM461.1 241.62H474.73V245.65H461.1zM481.54 241.62H491.76V245.65H481.54zM495.16 241.62H512.2V245.65H495.16zM515.6 241.62H519.01V245.65H515.6zM522.42 241.62H529.23V245.65H522.42zM536.04 241.62H542.86V245.65H536.04zM549.67 241.62H553.08V245.65H549.67zM556.48 241.62H559.89V245.65H556.48zM154.51 245.65H157.91V249.69H154.51zM161.32 245.65H164.73V249.69H161.32zM188.57 245.65H191.98V249.69H188.57zM195.38 245.65H198.79V249.69H195.38zM212.42 245.65H219.23V249.69H212.42zM232.86 245.65H236.26V249.69H232.86zM243.08 245.65H246.48V249.69H243.08zM345.27 245.65H348.68V249.69H345.27zM352.09 245.65H355.49V249.69H352.09zM362.31 245.65H365.71V249.69H362.31zM369.12 245.65H372.53V249.69H369.12zM413.41 245.65H416.81V249.69H413.41zM420.22 245.65H427.03V249.69H420.22zM447.47 245.65H450.88V249.69H447.47zM474.73 245.65H478.13V249.69H474.73zM525.82 245.65H529.23V249.69H525.82zM536.04 245.65H546.26V249.69H536.04zM549.67 245.65H553.08V249.69H549.67zM556.48 245.65H559.89V249.69H556.48zM151.1 249.69H154.51V253.73H151.1zM188.57 249.69H191.98V253.73H188.57zM195.38 249.69H198.79V253.73H195.38zM212.42 249.69H219.23V253.73H212.42zM232.86 249.69H236.26V253.73H232.86zM243.08 249.69H246.48V253.73H243.08zM413.41 249.69H416.81V253.73H413.41zM420.22 249.69H427.03V253.73H420.22zM542.86 249.69H546.26V253.73H542.86zM106.81 253.73H110.22V257.77H106.81zM188.57 253.73H191.98V257.77H188.57zM195.38 253.73H198.79V257.77H195.38zM212.42 253.73H219.23V257.77H212.42zM229.45 253.73H232.86V257.77H229.45zM243.08 253.73H246.48V257.77H243.08zM188.57 257.77H191.98V261.81H188.57zM195.38 257.77H198.79V261.81H195.38zM215.82 257.77H219.23V261.81H215.82zM229.45 257.77H232.86V261.81H229.45zM243.08 257.77H246.48V261.81H243.08zM188.57 261.81H191.98V265.85H188.57zM215.82 261.81H219.23V265.85H215.82zM229.45 261.81H232.86V265.85H229.45zM243.08 261.81H246.48V265.85H243.08zM151.1 265.85H154.51V269.88H151.1zM198.79 265.85H202.2V269.88H198.79zM215.82 265.85H219.23V269.88H215.82zM229.45 265.85H232.86V269.88H229.45zM246.48 265.85H249.89V269.88H246.48zM151.1 269.88H154.51V273.92H151.1zM157.91 269.88H161.32V273.92H157.91zM198.79 269.88H202.2V273.92H198.79zM215.82 269.88H219.23V273.92H215.82zM229.45 269.88H232.86V273.92H229.45zM246.48 269.88H249.89V273.92H246.48zM154.51 273.92H157.91V277.96H154.51zM161.32 273.92H164.73V277.96H161.32zM198.79 273.92H202.2V277.96H198.79zM229.45 273.92H232.86V277.96H229.45zM236.26 273.92H239.67V277.96H236.26zM246.48 273.92H249.89V277.96H246.48zM198.79 277.96H202.2V282H198.79zM229.45 277.96H232.86V282H229.45zM236.26 277.96H239.67V282H236.26zM246.48 277.96H249.89V282H246.48zM600.77 277.96H604.18V282H600.77z"/>
<path fill="#7aff7d" d="M437.25 72H444.07V76.04H437.25zM447.47 72H461.1V76.04H447.47zM467.91 72H474.73V76.04H467.91zM478.13 72H484.95V76.04H478.13zM696.15 72H706.37V76.04H696.15zM709.78 72H713.19V76.04H709.78zM716.59 72H720V76.04H716.59zM437.25 76.04H444.07V80.08H437.25zM447.47 76.04H461.1V80.08H447.47zM467.91 76.04H474.73V80.08H467.91zM478.13 76.04H484.95V80.08H478.13zM696.15 76.04H706.37V80.08H696.15zM709.78 76.04H713.19V80.08H709.78zM716.59 76.04H720V80.08H716.59zM437.25 80.08H444.07V84.12H437.25zM447.47 80.08H464.51V84.12H447.47zM467.91 80.08H474.73V84.12H467.91zM478.13 80.08H484.95V84.12H478.13zM696.15 80.08H706.37V84.12H696.15zM716.59 80.08H720V84.12H716.59zM437.25 84.12H444.07V88.15H437.25zM447.47 84.12H464.51V88.15H447.47zM467.91 84.12H474.73V88.15H467.91zM478.13 84.12H484.95V88.15H478.13zM696.15 84.12H706.37V88.15H696.15zM716.59 84.12H720V88.15H716.59zM437.25 88.15H444.07V92.19H437.25zM447.47 88.15H474.73V92.19H447.47zM478.13 88.15H488.35V92.19H478.13zM696.15 88.15H706.37V92.19H696.15zM716.59 88.15H720V92.19H716.59zM437.25 92.19H444.07V96.23H437.25zM447.47 92.19H474.73V96.23H447.47zM478.13 92.19H488.35V96.23H478.13zM696.15 92.19H706.37V96.23H696.15zM716.59 92.19H720V96.23H716.59zM437.25 96.23H444.07V100.27H437.25zM447.47 96.23H474.73V100.27H447.47zM478.13 96.23H481.54V100.27H478.13zM484.95 96.23H488.35V100.27H484.95zM696.15 96.23H720V100.27H696.15zM389.56 100.27H392.97V104.31H389.56zM406.59 100.27H410V104.31H406.59zM416.81 100.27H420.22V104.31H416.81zM427.03 100.27H430.44V104.31H427.03zM433.85 100.27H444.07V104.31H433.85zM447.47 100.27H474.73V104.31H447.47zM484.95 100.27H488.35V104.31H484.95zM696.15 100.27H699.56V104.31H696.15zM702.97 100.27H720V104.31H702.97zM389.56 104.31H396.37V108.35H389.56zM406.59 104.31H413.41V108.35H406.59zM416.81 104.31H423.63V108.35H416.81zM427.03 104.31H430.44V108.35H427.03zM433.85 104.31H444.07V108.35H433.85zM447.47 104.31H450.88V108.35H447.47zM454.29 104.31H471.32V108.35H454.29zM484.95 104.31H488.35V108.35H484.95zM709.78 104.31H713.19V108.35H709.78zM389.56 108.35H396.37V112.38H389.56zM406.59 108.35H423.63V112.38H406.59zM427.03 108.35H430.44V112.38H427.03zM433.85 108.35H444.07V112.38H433.85zM447.47 108.35H450.88V112.38H447.47zM454.29 108.35H467.91V112.38H454.29zM484.95 108.35H488.35V112.38H484.95zM389.56 112.38H396.37V116.42H389.56zM399.78 112.38H403.19V116.42H399.78zM406.59 112.38H423.63V116.42H406.59zM427.03 112.38H430.44V116.42H427.03zM433.85 112.38H444.07V116.42H433.85zM454.29 112.38H467.91V116.42H454.29zM484.95 112.38H488.35V116.42H484.95zM147.69 116.42H151.1V120.46H147.69zM168.13 116.42H174.95V120.46H168.13zM389.56 116.42H396.37V120.46H389.56zM399.78 116.42H403.19V120.46H399.78zM406.59 116.42H423.63V120.46H406.59zM427.03 116.42H430.44V120.46H427.03zM433.85 116.42H444.07V120.46H433.85zM454.29 116.42H467.91V120.46H454.29zM484.95 116.42H488.35V120.46H484.95zM696.15 116.42H699.56V120.46H696.15zM100 120.46H106.81V124.5H100zM205.6 120.46H209.01V124.5H205.6zM389.56 120.46H396.37V124.5H389.56zM399.78 120.46H403.19V124.5H399.78zM406.59 120.46H423.63V124.5H406.59zM427.03 120.46H430.44V124.5H427.03zM433.85 120.46H444.07V124.5H433.85zM454.29 120.46H471.32V124.5H454.29zM474.73 120.46H478.13V124.5H474.73zM484.95 120.46H488.35V124.5H484.95zM556.48 120.46H559.89V124.5H556.48zM696.15 120.46H699.56V124.5H696.15zM103.41 124.5H106.81V128.54H103.41zM191.98 124.5H195.38V128.54H191.98zM205.6 124.5H209.01V128.54H205.6zM273.74 124.5H277.14V128.54H273.74zM389.56 124.5H396.37V128.54H389.56zM399.78 124.5H403.19V128.54H399.78zM406.59 124.5H423.63V128.54H406.59zM427.03 124.5H444.07V128.54H427.03zM454.29 124.5H471.32V128.54H454.29zM474.73 124.5H478.13V128.54H474.73zM484.95 124.5H488.35V128.54H484.95zM549.67 124.5H553.08V128.54H549.67zM563.3 124.5H570.11V128.54H563.3zM696.15 124.5H699.56V128.54H696.15zM117.03 128.54H120.44V132.58H117.03zM191.98 128.54H195.38V132.58H191.98zM273.74 128.54H277.14V132.58H273.74zM389.56 128.54H399.78V132.58H389.56zM403.19 128.54H406.59V132.58H403.19zM413.41 128.54H423.63V132.58H413.41zM430.44 128.54H433.85V132.58H430.44zM437.25 128.54H444.07V132.58H437.25zM454.29 128.54H471.32V132.58H454.29zM474.73 128.54H488.35V132.58H474.73zM549.67 128.54H553.08V132.58H549.67zM566.7 128.54H570.11V132.58H566.7zM696.15 128.54H699.56V132.58H696.15zM117.03 132.58H120.44V136.62H117.03zM191.98 132.58H195.38V136.62H191.98zM273.74 132.58H277.14V136.62H273.74zM389.56 132.58H399.78V136.62H389.56zM416.81 132.58H423.63V136.62H416.81zM430.44 132.58H433.85V136.62H430.44zM437.25 132.58H444.07V136.62H437.25zM454.29 132.58H471.32V136.62H454.29zM474.73 132.58H488.35V136.62H474.73zM549.67 132.58H553.08V136.62H549.67zM566.7 132.58H570.11V136.62H566.7zM696.15 132.58H699.56V136.62H696.15zM117.03 136.62H120.44V140.65H117.03zM191.98 136.62H195.38V140.65H191.98zM205.6 136.62H209.01V140.65H205.6zM273.74 136.62H277.14V140.65H273.74zM389.56 136.62H396.37V140.65H389.56zM420.22 136.62H423.63V140.65H420.22zM430.44 136.62H433.85V140.65H430.44zM437.25 136.62H444.07V140.65H437.25zM454.29 136.62H471.32V140.65H454.29zM474.73 136.62H488.35V140.65H474.73zM549.67 136.62H553.08V140.65H549.67zM563.3 136.62H566.7V140.65H563.3zM696.15 136.62H699.56V140.65H696.15zM117.03 140.65H120.44V144.69H117.03zM198.79 140.65H205.6V144.69H198.79zM212.42 140.65H232.86V144.69H212.42zM236.26 140.65H249.89V144.69H236.26zM253.3 140.65H273.74V144.69H253.3zM389.56 140.65H396.37V144.69H389.56zM420.22 140.65H423.63V144.69H420.22zM430.44 140.65H433.85V144.69H430.44zM437.25 140.65H440.66V144.69H437.25zM450.88 140.65H471.32V144.69H450.88zM474.73 140.65H488.35V144.69H474.73zM553.08 140.65H559.89V144.69H553.08zM696.15 140.65H699.56V144.69H696.15zM106.81 144.69H110.22V148.73H106.81zM195.38 144.69H198.79V148.73H195.38zM389.56 144.69H396.37V148.73H389.56zM420.22 144.69H423.63V148.73H420.22zM430.44 144.69H433.85V148.73H430.44zM437.25 144.69H440.66V148.73H437.25zM450.88 144.69H471.32V148.73H450.88zM474.73 144.69H488.35V148.73H474.73zM696.15 144.69H699.56V148.73H696.15zM389.56 148.73H396.37V152.77H389.56zM420.22 148.73H423.63V152.77H420.22zM430.44 148.73H433.85V152.77H430.44zM437.25 148.73H440.66V152.77H437.25zM450.88 148.73H454.29V152.77H450.88zM457.69 148.73H461.1V152.77H457.69zM467.91 148.73H471.32V152.77H467.91zM474.73 148.73H488.35V152.77H474.73zM696.15 148.73H699.56V152.77H696.15zM716.59 148.73H720V152.77H716.59zM392.97 152.77H399.78V156.81H392.97zM413.41 152.77H420.22V156.81H413.41zM447.47 152.77H450.88V156.81H447.47zM488.35 152.77H491.76V156.81H488.35zM559.89 152.77H563.3V156.81H559.89zM696.15 152.77H699.56V156.81H696.15zM549.67 156.81H553.08V160.85H549.67zM696.15 156.81H699.56V160.85H696.15zM713.19 156.81H716.59V160.85H713.19zM542.86 160.85H549.67V164.88H542.86zM587.14 160.85H590.55V164.88H587.14zM607.58 160.85H614.4V164.88H607.58zM621.21 160.85H628.02V164.88H621.21zM651.87 160.85H665.49V164.88H651.87zM515.6 164.88H519.01V168.92H515.6zM529.23 164.88H536.04V168.92H529.23zM665.49 164.88H668.9V168.92H665.49zM716.59 164.88H720V168.92H716.59zM100 168.92H106.81V172.96H100zM668.9 168.92H672.31V172.96H668.9zM668.9 172.96H672.31V177H668.9zM713.19 172.96H716.59V177H713.19zM668.9 177H672.31V181.04H668.9zM668.9 181.04H672.31V185.08H668.9zM699.56 181.04H702.97V185.08H699.56zM709.78 181.04H713.19V185.08H709.78zM668.9 185.08H672.31V189.12H668.9zM706.37 185.08H709.78V189.12H706.37zM665.49 189.12H668.9V193.15H665.49zM706.37 189.12H709.78V193.15H706.37zM243.08 193.15H246.48V197.19H243.08zM256.7 193.15H260.11V197.19H256.7zM270.33 193.15H277.14V197.19H270.33zM655.27 193.15H658.68V197.19H655.27zM706.37 193.15H709.78V197.19H706.37zM239.67 197.19H249.89V201.23H239.67zM273.74 197.19H277.14V201.23H273.74zM607.58 197.19H610.99V201.23H607.58zM706.37 197.19H716.59V201.23H706.37zM239.67 201.23H249.89V205.27H239.67zM604.18 201.23H610.99V205.27H604.18zM699.56 201.23H702.97V205.27H699.56zM706.37 201.23H720V205.27H706.37zM239.67 205.27H249.89V209.31H239.67zM600.77 205.27H610.99V209.31H600.77zM692.75 205.27H696.15V209.31H692.75zM699.56 205.27H702.97V209.31H699.56zM706.37 205.27H720V209.31H706.37zM100 209.31H106.81V213.35H100zM239.67 209.31H243.08V213.35H239.67zM600.77 209.31H610.99V213.35H600.77zM692.75 209.31H696.15V213.35H692.75zM699.56 209.31H702.97V213.35H699.56zM706.37 209.31H720V213.35H706.37zM100 213.35H106.81V217.38H100zM239.67 213.35H243.08V217.38H239.67zM600.77 213.35H610.99V217.38H600.77zM692.75 213.35H696.15V217.38H692.75zM699.56 213.35H702.97V217.38H699.56zM706.37 213.35H720V217.38H706.37zM100 217.38H106.81V221.42H100zM188.57 217.38H198.79V221.42H188.57zM202.2 217.38H205.6V221.42H202.2zM209.01 217.38H219.23V221.42H209.01zM229.45 217.38H239.67V221.42H229.45zM600.77 217.38H610.99V221.42H600.77zM648.46 217.38H651.87V221.42H648.46zM692.75 217.38H696.15V221.42H692.75zM699.56 217.38H702.97V221.42H699.56zM706.37 217.38H720V221.42H706.37zM100 221.42H106.81V225.46H100zM188.57 221.42H209.01V225.46H188.57zM212.42 221.42H215.82V225.46H212.42zM219.23 221.42H239.67V225.46H219.23zM256.7 221.42H270.33V225.46H256.7zM600.77 221.42H617.8V225.46H600.77zM621.21 221.42H624.62V225.46H621.21zM638.24 221.42H648.46V225.46H638.24zM692.75 221.42H696.15V225.46H692.75zM699.56 221.42H702.97V225.46H699.56zM706.37 221.42H720V225.46H706.37zM100 225.46H106.81V229.5H100zM191.98 225.46H195.38V229.5H191.98zM198.79 225.46H209.01V229.5H198.79zM219.23 225.46H229.45V229.5H219.23zM232.86 225.46H239.67V229.5H232.86zM246.48 225.46H256.7V229.5H246.48zM270.33 225.46H273.74V229.5H270.33zM600.77 225.46H607.58V229.5H600.77zM610.99 225.46H614.4V229.5H610.99zM621.21 225.46H624.62V229.5H621.21zM628.02 225.46H634.84V229.5H628.02zM638.24 225.46H641.65V229.5H638.24zM692.75 225.46H696.15V229.5H692.75zM699.56 225.46H702.97V229.5H699.56zM706.37 225.46H720V229.5H706.37zM100 229.5H106.81V233.54H100zM181.76 229.5H185.16V233.54H181.76zM191.98 229.5H195.38V233.54H191.98zM198.79 229.5H209.01V233.54H198.79zM219.23 229.5H229.45V233.54H219.23zM232.86 229.5H243.08V233.54H232.86zM246.48 229.5H256.7V233.54H246.48zM593.96 229.5H597.36V233.54H593.96zM600.77 229.5H607.58V233.54H600.77zM610.99 229.5H614.4V233.54H610.99zM621.21 229.5H624.62V233.54H621.21zM628.02 229.5H641.65V233.54H628.02zM692.75 229.5H696.15V233.54H692.75zM699.56 229.5H702.97V233.54H699.56zM706.37 229.5H720V233.54H706.37zM100 233.54H106.81V237.58H100zM181.76 233.54H185.16V237.58H181.76zM191.98 233.54H195.38V237.58H191.98zM198.79 233.54H209.01V237.58H198.79zM219.23 233.54H243.08V237.58H219.23zM246.48 233.54H256.7V237.58H246.48zM280.55 233.54H283.96V237.58H280.55zM287.36 233.54H290.77V237.58H287.36zM300.99 233.54H304.4V237.58H300.99zM427.03 233.54H430.44V237.58H427.03zM457.69 233.54H461.1V237.58H457.69zM478.13 233.54H481.54V237.58H478.13zM553.08 233.54H556.48V237.58H553.08zM559.89 233.54H563.3V237.58H559.89zM587.14 233.54H590.55V237.58H587.14zM593.96 233.54H597.36V237.58H593.96zM600.77 233.54H607.58V237.58H600.77zM610.99 233.54H614.4V237.58H610.99zM621.21 233.54H641.65V237.58H621.21zM692.75 233.54H696.15V237.58H692.75zM699.56 233.54H702.97V237.58H699.56zM706.37 233.54H720V237.58H706.37zM100 237.58H110.22V241.62H100zM181.76 237.58H185.16V241.62H181.76zM191.98 237.58H195.38V241.62H191.98zM198.79 237.58H209.01V241.62H198.79zM219.23 237.58H232.86V241.62H219.23zM236.26 237.58H243.08V241.62H236.26zM246.48 237.58H253.3V241.62H246.48zM273.74 237.58H280.55V241.62H273.74zM283.96 237.58H318.02V241.62H283.96zM321.43 237.58H335.05V241.62H321.43zM379.34 237.58H403.19V241.62H379.34zM427.03 237.58H430.44V241.62H427.03zM457.69 237.58H461.1V241.62H457.69zM478.13 237.58H481.54V241.62H478.13zM529.23 237.58H536.04V241.62H529.23zM553.08 237.58H556.48V241.62H553.08zM559.89 237.58H566.7V241.62H559.89zM570.11 237.58H607.58V241.62H570.11zM610.99 237.58H614.4V241.62H610.99zM617.8 237.58H621.21V241.62H617.8zM624.62 237.58H628.02V241.62H624.62zM634.84 237.58H638.24V241.62H634.84zM716.59 237.58H720V241.62H716.59zM100 241.62H110.22V245.65H100zM154.51 241.62H157.91V245.65H154.51zM161.32 241.62H164.73V245.65H161.32zM181.76 241.62H185.16V245.65H181.76zM191.98 241.62H195.38V245.65H191.98zM198.79 241.62H212.42V245.65H198.79zM219.23 241.62H232.86V245.65H219.23zM236.26 241.62H243.08V245.65H236.26zM246.48 241.62H253.3V245.65H246.48zM273.74 241.62H277.14V245.65H273.74zM290.77 241.62H300.99V245.65H290.77zM335.05 241.62H345.27V245.65H335.05zM372.53 241.62H379.34V245.65H372.53zM410 241.62H413.41V245.65H410zM427.03 241.62H430.44V245.65H427.03zM433.85 241.62H437.25V245.65H433.85zM457.69 241.62H461.1V245.65H457.69zM478.13 241.62H481.54V245.65H478.13zM491.76 241.62H495.16V245.65H491.76zM512.2 241.62H515.6V245.65H512.2zM519.01 241.62H522.42V245.65H519.01zM529.23 241.62H536.04V245.65H529.23zM546.26 241.62H549.67V245.65H546.26zM553.08 241.62H556.48V245.65H553.08zM597.36 241.62H607.58V245.65H597.36zM617.8 241.62H621.21V245.65H617.8zM100 245.65H110.22V249.69H100zM151.1 245.65H154.51V249.69H151.1zM157.91 245.65H161.32V249.69H157.91zM181.76 245.65H185.16V249.69H181.76zM191.98 245.65H195.38V249.69H191.98zM198.79 245.65H212.42V249.69H198.79zM219.23 245.65H232.86V249.69H219.23zM236.26 245.65H243.08V249.69H236.26zM246.48 245.65H253.3V249.69H246.48zM273.74 245.65H277.14V249.69H273.74zM290.77 245.65H300.99V249.69H290.77zM338.46 245.65H345.27V249.69H338.46zM348.68 245.65H352.09V249.69H348.68zM355.49 245.65H362.31V249.69H355.49zM365.71 245.65H369.12V249.69H365.71zM372.53 245.65H375.93V249.69H372.53zM403.19 245.65H413.41V249.69H403.19zM416.81 245.65H420.22V249.69H416.81zM427.03 245.65H447.47V249.69H427.03zM450.88 245.65H474.73V249.69H450.88zM478.13 245.65H525.82V249.69H478.13zM529.23 245.65H536.04V249.69H529.23zM546.26 245.65H549.67V249.69H546.26zM600.77 245.65H607.58V249.69H600.77zM100 249.69H110.22V253.73H100zM147.69 249.69H151.1V253.73H147.69zM164.73 249.69H168.13V253.73H164.73zM178.35 249.69H185.16V253.73H178.35zM191.98 249.69H195.38V253.73H191.98zM198.79 249.69H212.42V253.73H198.79zM219.23 249.69H232.86V253.73H219.23zM236.26 249.69H243.08V253.73H236.26zM246.48 249.69H253.3V253.73H246.48zM273.74 249.69H277.14V253.73H273.74zM294.18 249.69H300.99V253.73H294.18zM345.27 249.69H348.68V253.73H345.27zM352.09 249.69H355.49V253.73H352.09zM358.9 249.69H365.71V253.73H358.9zM369.12 249.69H372.53V253.73H369.12zM406.59 249.69H410V253.73H406.59zM416.81 249.69H420.22V253.73H416.81zM430.44 249.69H433.85V253.73H430.44zM437.25 249.69H457.69V253.73H437.25zM461.1 249.69H478.13V253.73H461.1zM481.54 249.69H491.76V253.73H481.54zM498.57 249.69H508.79V253.73H498.57zM512.2 249.69H515.6V253.73H512.2zM525.82 249.69H529.23V253.73H525.82zM536.04 249.69H542.86V253.73H536.04zM549.67 249.69H553.08V253.73H549.67zM556.48 249.69H559.89V253.73H556.48zM600.77 249.69H607.58V253.73H600.77zM100 253.73H106.81V257.77H100zM147.69 253.73H151.1V257.77H147.69zM164.73 253.73H168.13V257.77H164.73zM178.35 253.73H185.16V257.77H178.35zM191.98 253.73H195.38V257.77H191.98zM198.79 253.73H212.42V257.77H198.79zM219.23 253.73H229.45V257.77H219.23zM232.86 253.73H243.08V257.77H232.86zM246.48 253.73H253.3V257.77H246.48zM273.74 253.73H277.14V257.77H273.74zM283.96 253.73H287.36V257.77H283.96zM294.18 253.73H300.99V257.77H294.18zM345.27 253.73H348.68V257.77H345.27zM352.09 253.73H355.49V257.77H352.09zM362.31 253.73H365.71V257.77H362.31zM369.12 253.73H372.53V257.77H369.12zM413.41 253.73H416.81V257.77H413.41zM420.22 253.73H427.03V257.77H420.22zM437.25 253.73H440.66V257.77H437.25zM444.07 253.73H454.29V257.77H444.07zM461.1 253.73H464.51V257.77H461.1zM474.73 253.73H478.13V257.77H474.73zM488.35 253.73H491.76V257.77H488.35zM525.82 253.73H529.23V257.77H525.82zM542.86 253.73H546.26V257.77H542.86zM549.67 253.73H553.08V257.77H549.67zM600.77 253.73H607.58V257.77H600.77zM100 257.77H110.22V261.81H100zM147.69 257.77H151.1V261.81H147.69zM164.73 257.77H168.13V261.81H164.73zM178.35 257.77H185.16V261.81H178.35zM191.98 257.77H195.38V261.81H191.98zM198.79 257.77H215.82V261.81H198.79zM219.23 257.77H229.45V261.81H219.23zM232.86 257.77H243.08V261.81H232.86zM246.48 257.77H253.3V261.81H246.48zM273.74 257.77H277.14V261.81H273.74zM283.96 257.77H287.36V261.81H283.96zM294.18 257.77H300.99V261.81H294.18zM352.09 257.77H355.49V261.81H352.09zM362.31 257.77H365.71V261.81H362.31zM369.12 257.77H372.53V261.81H369.12zM413.41 257.77H416.81V261.81H413.41zM420.22 257.77H427.03V261.81H420.22zM437.25 257.77H440.66V261.81H437.25zM450.88 257.77H454.29V261.81H450.88zM474.73 257.77H478.13V261.81H474.73zM525.82 257.77H529.23V261.81H525.82zM542.86 257.77H546.26V261.81H542.86zM549.67 257.77H553.08V261.81H549.67zM600.77 257.77H607.58V261.81H600.77zM100 261.81H110.22V265.85H100zM147.69 261.81H151.1V265.85H147.69zM164.73 261.81H168.13V265.85H164.73zM178.35 261.81H185.16V265.85H178.35zM191.98 261.81H215.82V265.85H191.98zM219.23 261.81H229.45V265.85H219.23zM232.86 261.81H243.08V265.85H232.86zM246.48 261.81H253.3V265.85H246.48zM273.74 261.81H277.14V265.85H273.74zM283.96 261.81H287.36V265.85H283.96zM297.58 261.81H300.99V265.85H297.58zM352.09 261.81H355.49V265.85H352.09zM362.31 261.81H365.71V265.85H362.31zM369.12 261.81H372.53V265.85H369.12zM413.41 261.81H416.81V265.85H413.41zM420.22 261.81H427.03V265.85H420.22zM437.25 261.81H440.66V265.85H437.25zM450.88 261.81H454.29V265.85H450.88zM474.73 261.81H478.13V265.85H474.73zM525.82 261.81H529.23V265.85H525.82zM542.86 261.81H546.26V265.85H542.86zM549.67 261.81H553.08V265.85H549.67zM600.77 261.81H607.58V265.85H600.77zM100 265.85H103.41V269.88H100zM106.81 265.85H110.22V269.88H106.81zM147.69 265.85H151.1V269.88H147.69zM164.73 265.85H168.13V269.88H164.73zM178.35 265.85H185.16V269.88H178.35zM188.57 265.85H198.79V269.88H188.57zM202.2 265.85H215.82V269.88H202.2zM219.23 265.85H229.45V269.88H219.23zM232.86 265.85H246.48V269.88H232.86zM249.89 265.85H253.3V269.88H249.89zM273.74 265.85H277.14V269.88H273.74zM283.96 265.85H287.36V269.88H283.96zM297.58 265.85H300.99V269.88H297.58zM355.49 265.85H358.9V269.88H355.49zM362.31 265.85H365.71V269.88H362.31zM369.12 265.85H372.53V269.88H369.12zM413.41 265.85H416.81V269.88H413.41zM420.22 265.85H427.03V269.88H420.22zM437.25 265.85H444.07V269.88H437.25zM450.88 265.85H454.29V269.88H450.88zM512.2 265.85H515.6V269.88H512.2zM525.82 265.85H529.23V269.88H525.82zM542.86 265.85H546.26V269.88H542.86zM556.48 265.85H559.89V269.88H556.48zM597.36 265.85H607.58V269.88H597.36zM100 269.88H103.41V273.92H100zM106.81 269.88H110.22V273.92H106.81zM147.69 269.88H151.1V273.92H147.69zM164.73 269.88H168.13V273.92H164.73zM178.35 269.88H185.16V273.92H178.35zM188.57 269.88H198.79V273.92H188.57zM202.2 269.88H215.82V273.92H202.2zM219.23 269.88H229.45V273.92H219.23zM232.86 269.88H246.48V273.92H232.86zM249.89 269.88H253.3V273.92H249.89zM273.74 269.88H277.14V273.92H273.74zM283.96 269.88H287.36V273.92H283.96zM297.58 269.88H300.99V273.92H297.58zM355.49 269.88H358.9V273.92H355.49zM362.31 269.88H365.71V273.92H362.31zM369.12 269.88H372.53V273.92H369.12zM406.59 269.88H410V273.92H406.59zM413.41 269.88H416.81V273.92H413.41zM420.22 269.88H427.03V273.92H420.22zM437.25 269.88H444.07V273.92H437.25zM450.88 269.88H457.69V273.92H450.88zM484.95 269.88H491.76V273.92H484.95zM512.2 269.88H515.6V273.92H512.2zM525.82 269.88H529.23V273.92H525.82zM542.86 269.88H546.26V273.92H542.86zM556.48 269.88H559.89V273.92H556.48zM593.96 269.88H607.58V273.92H593.96zM100 273.92H103.41V277.96H100zM106.81 273.92H110.22V277.96H106.81zM117.03 273.92H120.44V277.96H117.03zM151.1 273.92H154.51V277.96H151.1zM157.91 273.92H161.32V277.96H157.91zM178.35 273.92H185.16V277.96H178.35zM188.57 273.92H195.38V277.96H188.57zM202.2 273.92H229.45V277.96H202.2zM232.86 273.92H236.26V277.96H232.86zM239.67 273.92H246.48V277.96H239.67zM249.89 273.92H253.3V277.96H249.89zM273.74 273.92H277.14V277.96H273.74zM283.96 273.92H287.36V277.96H283.96zM297.58 273.92H300.99V277.96H297.58zM355.49 273.92H358.9V277.96H355.49zM362.31 273.92H365.71V277.96H362.31zM369.12 273.92H372.53V277.96H369.12zM406.59 273.92H410V277.96H406.59zM413.41 273.92H416.81V277.96H413.41zM420.22 273.92H427.03V277.96H420.22zM437.25 273.92H444.07V277.96H437.25zM450.88 273.92H457.69V277.96H450.88zM461.1 273.92H464.51V277.96H461.1zM484.95 273.92H491.76V277.96H484.95zM512.2 273.92H515.6V277.96H512.2zM525.82 273.92H529.23V277.96H525.82zM542.86 273.92H546.26V277.96H542.86zM556.48 273.92H559.89V277.96H556.48zM566.7 273.92H570.11V277.96H566.7zM576.92 273.92H580.33V277.96H576.92zM583.74 273.92H587.14V277.96H583.74zM593.96 273.92H607.58V277.96H593.96zM100 277.96H103.41V282H100zM106.81 277.96H110.22V282H106.81zM117.03 277.96H120.44V282H117.03zM154.51 277.96H157.91V282H154.51zM161.32 277.96H164.73V282H161.32zM178.35 277.96H185.16V282H178.35zM188.57 277.96H195.38V282H188.57zM202.2 277.96H229.45V282H202.2zM232.86 277.96H236.26V282H232.86zM239.67 277.96H246.48V282H239.67zM249.89 277.96H253.3V282H249.89zM273.74 277.96H277.14V282H273.74zM283.96 277.96H287.36V282H283.96zM300.99 277.96H304.4V282H300.99zM355.49 277.96H358.9V282H355.49zM362.31 277.96H365.71V282H362.31zM389.56 277.96H396.37V282H389.56zM406.59 277.96H410V282H406.59zM420.22 277.96H427.03V282H420.22zM437.25 277.96H444.07V282H437.25zM450.88 277.96H457.69V282H450.88zM461.1 277.96H464.51V282H461.1zM484.95 277.96H491.76V282H484.95zM512.2 277.96H515.6V282H512.2zM525.82 277.96H529.23V282H525.82zM542.86 277.96H546.26V282H542.86zM556.48 277.96H559.89V282H556.48zM566.7 277.96H570.11V282H566.7zM576.92 277.96H580.33V282H576.92zM583.74 277.96H587.14V282H583.74zM593.96 277.96H600.77V282H593.96zM604.18 277.96H607.58V282H604.18z"/>
<path fill="#80ff77" d="M110.22 72H113.63V76.04H110.22zM226.04 72H229.45V76.04H226.04zM249.89 72H253.3V76.04H249.89zM484.95 72H491.76V76.04H484.95zM706.37 72H709.78V76.04H706.37zM713.19 72H716.59V76.04H713.19zM110.22 76.04H113.63V80.08H110.22zM226.04 76.04H229.45V80.08H226.04zM249.89 76.04H253.3V80.08H249.89zM484.95 76.04H491.76V80.08H484.95zM706.37 76.04H709.78V80.08H706.37zM713.19 76.04H716.59V80.08H713.19zM484.95 80.08H488.35V84.12H484.95zM706.37 80.08H716.59V84.12H706.37zM484.95 84.12H488.35V88.15H484.95zM706.37 84.12H716.59V88.15H706.37zM706.37 88.15H716.59V92.19H706.37zM706.37 92.19H716.59V96.23H706.37zM450.88 104.31H454.29V108.35H450.88zM692.75 104.31H696.15V108.35H692.75zM450.88 108.35H454.29V112.38H450.88zM467.91 108.35H471.32V112.38H467.91zM692.75 108.35H696.15V112.38H692.75zM447.47 112.38H454.29V116.42H447.47zM467.91 112.38H471.32V116.42H467.91zM692.75 112.38H696.15V116.42H692.75zM151.1 116.42H168.13V120.46H151.1zM447.47 116.42H454.29V120.46H447.47zM467.91 116.42H471.32V120.46H467.91zM553.08 116.42H556.48V120.46H553.08zM559.89 116.42H563.3V120.46H559.89zM692.75 116.42H696.15V120.46H692.75zM120.44 120.46H123.85V124.5H120.44zM130.66 120.46H147.69V124.5H130.66zM185.16 120.46H191.98V124.5H185.16zM447.47 120.46H454.29V124.5H447.47zM549.67 120.46H553.08V124.5H549.67zM563.3 120.46H570.11V124.5H563.3zM692.75 120.46H696.15V124.5H692.75zM188.57 124.5H191.98V128.54H188.57zM447.47 124.5H454.29V128.54H447.47zM399.78 128.54H403.19V132.58H399.78zM406.59 128.54H413.41V132.58H406.59zM447.47 128.54H454.29V132.58H447.47zM403.19 132.58H406.59V136.62H403.19zM413.41 132.58H416.81V136.62H413.41zM447.47 132.58H454.29V136.62H447.47zM396.37 136.62H399.78V140.65H396.37zM416.81 136.62H420.22V140.65H416.81zM447.47 136.62H454.29V140.65H447.47zM566.7 136.62H570.11V140.65H566.7zM191.98 140.65H195.38V144.69H191.98zM205.6 140.65H212.42V144.69H205.6zM273.74 140.65H277.14V144.69H273.74zM396.37 140.65H399.78V144.69H396.37zM416.81 140.65H420.22V144.69H416.81zM447.47 140.65H450.88V144.69H447.47zM488.35 140.65H491.76V144.69H488.35zM549.67 140.65H553.08V144.69H549.67zM563.3 140.65H570.11V144.69H563.3zM198.79 144.69H205.6V148.73H198.79zM232.86 144.69H243.08V148.73H232.86zM396.37 144.69H399.78V148.73H396.37zM416.81 144.69H420.22V148.73H416.81zM447.47 144.69H450.88V148.73H447.47zM488.35 144.69H491.76V148.73H488.35zM559.89 144.69H563.3V148.73H559.89zM304.4 148.73H311.21V152.77H304.4zM396.37 148.73H399.78V152.77H396.37zM413.41 148.73H420.22V152.77H413.41zM447.47 148.73H450.88V152.77H447.47zM488.35 148.73H491.76V152.77H488.35zM399.78 152.77H413.41V156.81H399.78zM566.7 152.77H570.11V156.81H566.7zM716.59 152.77H720V156.81H716.59zM576.92 156.81H580.33V160.85H576.92zM600.77 156.81H604.18V160.85H600.77zM539.45 160.85H542.86V164.88H539.45zM580.33 160.85H587.14V164.88H580.33zM614.4 160.85H621.21V164.88H614.4zM628.02 160.85H645.05V164.88H628.02zM665.49 160.85H668.9V164.88H665.49zM696.15 160.85H699.56V164.88H696.15zM716.59 160.85H720V164.88H716.59zM106.81 164.88H113.63V168.92H106.81zM519.01 164.88H529.23V168.92H519.01zM668.9 164.88H675.71V168.92H668.9zM672.31 168.92H675.71V172.96H672.31zM716.59 168.92H720V172.96H716.59zM100 172.96H103.41V177H100zM672.31 172.96H675.71V177H672.31zM672.31 177H675.71V181.04H672.31zM672.31 181.04H675.71V185.08H672.31zM672.31 185.08H675.71V189.12H672.31zM702.97 185.08H706.37V189.12H702.97zM709.78 185.08H713.19V189.12H709.78zM260.11 189.12H263.52V193.15H260.11zM266.92 189.12H270.33V193.15H266.92zM668.9 189.12H672.31V193.15H668.9zM702.97 189.12H706.37V193.15H702.97zM709.78 189.12H713.19V193.15H709.78zM212.42 193.15H215.82V197.19H212.42zM239.67 193.15H243.08V197.19H239.67zM246.48 193.15H249.89V197.19H246.48zM658.68 193.15H662.09V197.19H658.68zM699.56 193.15H706.37V197.19H699.56zM709.78 193.15H716.59V197.19H709.78zM202.2 197.19H205.6V201.23H202.2zM212.42 197.19H215.82V201.23H212.42zM236.26 197.19H239.67V201.23H236.26zM651.87 197.19H655.27V201.23H651.87zM699.56 197.19H706.37V201.23H699.56zM716.59 197.19H720V201.23H716.59zM202.2 201.23H205.6V205.27H202.2zM212.42 201.23H215.82V205.27H212.42zM651.87 201.23H655.27V205.27H651.87zM689.34 201.23H699.56V205.27H689.34zM702.97 201.23H706.37V205.27H702.97zM100 205.27H106.81V209.31H100zM202.2 205.27H205.6V209.31H202.2zM209.01 205.27H219.23V209.31H209.01zM651.87 205.27H655.27V209.31H651.87zM689.34 205.27H692.75V209.31H689.34zM696.15 205.27H699.56V209.31H696.15zM702.97 205.27H706.37V209.31H702.97zM188.57 209.31H195.38V213.35H188.57zM202.2 209.31H205.6V213.35H202.2zM209.01 209.31H219.23V213.35H209.01zM229.45 209.31H239.67V213.35H229.45zM651.87 209.31H655.27V213.35H651.87zM689.34 209.31H692.75V213.35H689.34zM696.15 209.31H699.56V213.35H696.15zM702.97 209.31H706.37V213.35H702.97zM106.81 213.35H110.22V217.38H106.81zM188.57 213.35H205.6V217.38H188.57zM209.01 213.35H219.23V217.38H209.01zM226.04 213.35H239.67V217.38H226.04zM651.87 213.35H655.27V217.38H651.87zM689.34 213.35H692.75V217.38H689.34zM696.15 213.35H699.56V217.38H696.15zM702.97 213.35H706.37V217.38H702.97zM106.81 217.38H110.22V221.42H106.81zM181.76 217.38H188.57V221.42H181.76zM198.79 217.38H202.2V221.42H198.79zM205.6 217.38H209.01V221.42H205.6zM219.23 217.38H229.45V221.42H219.23zM689.34 217.38H692.75V221.42H689.34zM696.15 217.38H699.56V221.42H696.15zM702.97 217.38H706.37V221.42H702.97zM106.81 221.42H110.22V225.46H106.81zM181.76 221.42H188.57V225.46H181.76zM648.46 221.42H651.87V225.46H648.46zM689.34 221.42H692.75V225.46H689.34zM696.15 221.42H699.56V225.46H696.15zM702.97 221.42H706.37V225.46H702.97zM106.81 225.46H110.22V229.5H106.81zM181.76 225.46H188.57V229.5H181.76zM256.7 225.46H260.11V229.5H256.7zM263.52 225.46H270.33V229.5H263.52zM607.58 225.46H610.99V229.5H607.58zM614.4 225.46H617.8V229.5H614.4zM641.65 225.46H648.46V229.5H641.65zM689.34 225.46H692.75V229.5H689.34zM696.15 225.46H699.56V229.5H696.15zM702.97 225.46H706.37V229.5H702.97zM106.81 229.5H110.22V233.54H106.81zM185.16 229.5H188.57V233.54H185.16zM270.33 229.5H273.74V233.54H270.33zM607.58 229.5H610.99V233.54H607.58zM614.4 229.5H617.8V233.54H614.4zM641.65 229.5H648.46V233.54H641.65zM685.93 229.5H692.75V233.54H685.93zM696.15 229.5H699.56V233.54H696.15zM702.97 229.5H706.37V233.54H702.97zM106.81 233.54H110.22V237.58H106.81zM185.16 233.54H188.57V237.58H185.16zM270.33 233.54H273.74V237.58H270.33zM607.58 233.54H610.99V237.58H607.58zM614.4 233.54H617.8V237.58H614.4zM641.65 233.54H648.46V237.58H641.65zM685.93 233.54H692.75V237.58H685.93zM696.15 233.54H699.56V237.58H696.15zM702.97 233.54H706.37V237.58H702.97zM161.32 237.58H164.73V241.62H161.32zM185.16 237.58H188.57V241.62H185.16zM253.3 237.58H256.7V241.62H253.3zM280.55 237.58H283.96V241.62H280.55zM318.02 237.58H321.43V241.62H318.02zM607.58 237.58H610.99V241.62H607.58zM614.4 237.58H617.8V241.62H614.4zM621.21 237.58H624.62V241.62H621.21zM628.02 237.58H634.84V241.62H628.02zM638.24 237.58H641.65V241.62H638.24zM645.05 237.58H648.46V241.62H645.05zM685.93 237.58H716.59V241.62H685.93zM110.22 241.62H113.63V245.65H110.22zM147.69 241.62H154.51V245.65H147.69zM157.91 241.62H161.32V245.65H157.91zM164.73 241.62H168.13V245.65H164.73zM178.35 241.62H181.76V245.65H178.35zM185.16 241.62H188.57V245.65H185.16zM253.3 241.62H256.7V245.65H253.3zM277.14 241.62H290.77V245.65H277.14zM300.99 241.62H335.05V245.65H300.99zM379.34 241.62H386.15V245.65H379.34zM389.56 241.62H403.19V245.65H389.56zM559.89 241.62H573.52V245.65H559.89zM587.14 241.62H597.36V245.65H587.14zM607.58 241.62H614.4V245.65H607.58zM621.21 241.62H628.02V245.65H621.21zM634.84 241.62H638.24V245.65H634.84zM699.56 241.62H702.97V245.65H699.56zM713.19 241.62H720V245.65H713.19zM110.22 245.65H120.44V249.69H110.22zM127.25 245.65H130.66V249.69H127.25zM134.07 245.65H137.47V249.69H134.07zM140.88 245.65H151.1V249.69H140.88zM164.73 245.65H168.13V249.69H164.73zM174.95 245.65H181.76V249.69H174.95zM185.16 245.65H188.57V249.69H185.16zM253.3 245.65H256.7V249.69H253.3zM277.14 245.65H290.77V249.69H277.14zM300.99 245.65H318.02V249.69H300.99zM321.43 245.65H331.65V249.69H321.43zM335.05 245.65H338.46V249.69H335.05zM375.93 245.65H379.34V249.69H375.93zM553.08 245.65H556.48V249.69H553.08zM597.36 245.65H600.77V249.69H597.36zM607.58 245.65H614.4V249.69H607.58zM617.8 245.65H621.21V249.69H617.8zM110.22 249.69H113.63V253.73H110.22zM117.03 249.69H120.44V253.73H117.03zM127.25 249.69H130.66V253.73H127.25zM134.07 249.69H137.47V253.73H134.07zM140.88 249.69H147.69V253.73H140.88zM174.95 249.69H178.35V253.73H174.95zM185.16 249.69H188.57V253.73H185.16zM253.3 249.69H256.7V253.73H253.3zM277.14 249.69H294.18V253.73H277.14zM300.99 249.69H314.62V253.73H300.99zM335.05 249.69H345.27V253.73H335.05zM348.68 249.69H352.09V253.73H348.68zM355.49 249.69H358.9V253.73H355.49zM365.71 249.69H369.12V253.73H365.71zM372.53 249.69H375.93V253.73H372.53zM403.19 249.69H406.59V253.73H403.19zM410 249.69H413.41V253.73H410zM427.03 249.69H430.44V253.73H427.03zM433.85 249.69H437.25V253.73H433.85zM457.69 249.69H461.1V253.73H457.69zM478.13 249.69H481.54V253.73H478.13zM491.76 249.69H498.57V253.73H491.76zM508.79 249.69H512.2V253.73H508.79zM515.6 249.69H525.82V253.73H515.6zM529.23 249.69H536.04V253.73H529.23zM546.26 249.69H549.67V253.73H546.26zM553.08 249.69H556.48V253.73H553.08zM597.36 249.69H600.77V253.73H597.36zM607.58 249.69H614.4V253.73H607.58zM617.8 249.69H621.21V253.73H617.8zM110.22 253.73H113.63V257.77H110.22zM117.03 253.73H120.44V257.77H117.03zM127.25 253.73H130.66V257.77H127.25zM134.07 253.73H137.47V257.77H134.07zM140.88 253.73H147.69V257.77H140.88zM174.95 253.73H178.35V257.77H174.95zM185.16 253.73H188.57V257.77H185.16zM253.3 253.73H256.7V257.77H253.3zM277.14 253.73H283.96V257.77H277.14zM287.36 253.73H294.18V257.77H287.36zM300.99 253.73H307.8V257.77H300.99zM338.46 253.73H345.27V257.77H338.46zM348.68 253.73H352.09V257.77H348.68zM355.49 253.73H362.31V257.77H355.49zM365.71 253.73H369.12V257.77H365.71zM403.19 253.73H413.41V257.77H403.19zM416.81 253.73H420.22V257.77H416.81zM427.03 253.73H437.25V257.77H427.03zM440.66 253.73H444.07V257.77H440.66zM454.29 253.73H461.1V257.77H454.29zM464.51 253.73H474.73V257.77H464.51zM478.13 253.73H488.35V257.77H478.13zM491.76 253.73H525.82V257.77H491.76zM529.23 253.73H542.86V257.77H529.23zM546.26 253.73H549.67V257.77H546.26zM556.48 253.73H559.89V257.77H556.48zM597.36 253.73H600.77V257.77H597.36zM607.58 253.73H614.4V257.77H607.58zM617.8 253.73H621.21V257.77H617.8zM110.22 257.77H113.63V261.81H110.22zM117.03 257.77H120.44V261.81H117.03zM127.25 257.77H130.66V261.81H127.25zM134.07 257.77H137.47V261.81H134.07zM140.88 257.77H147.69V261.81H140.88zM174.95 257.77H178.35V261.81H174.95zM185.16 257.77H188.57V261.81H185.16zM253.3 257.77H256.7V261.81H253.3zM277.14 257.77H283.96V261.81H277.14zM287.36 257.77H294.18V261.81H287.36zM300.99 257.77H307.8V261.81H300.99zM338.46 257.77H352.09V261.81H338.46zM355.49 257.77H362.31V261.81H355.49zM365.71 257.77H369.12V261.81H365.71zM403.19 257.77H413.41V261.81H403.19zM416.81 257.77H420.22V261.81H416.81zM427.03 257.77H437.25V261.81H427.03zM440.66 257.77H450.88V261.81H440.66zM454.29 257.77H474.73V261.81H454.29zM478.13 257.77H525.82V261.81H478.13zM529.23 257.77H542.86V261.81H529.23zM546.26 257.77H549.67V261.81H546.26zM556.48 257.77H559.89V261.81H556.48zM597.36 257.77H600.77V261.81H597.36zM607.58 257.77H610.99V261.81H607.58zM617.8 257.77H621.21V261.81H617.8zM110.22 261.81H113.63V265.85H110.22zM117.03 261.81H120.44V265.85H117.03zM123.85 261.81H130.66V265.85H123.85zM134.07 261.81H137.47V265.85H134.07zM140.88 261.81H147.69V265.85H140.88zM174.95 261.81H178.35V265.85H174.95zM185.16 261.81H188.57V265.85H185.16zM253.3 261.81H256.7V265.85H253.3zM277.14 261.81H283.96V265.85H277.14zM287.36 261.81H297.58V265.85H287.36zM300.99 261.81H307.8V265.85H300.99zM338.46 261.81H348.68V265.85H338.46zM355.49 261.81H362.31V265.85H355.49zM365.71 261.81H369.12V265.85H365.71zM403.19 261.81H413.41V265.85H403.19zM416.81 261.81H420.22V265.85H416.81zM427.03 261.81H437.25V265.85H427.03zM440.66 261.81H450.88V265.85H440.66zM454.29 261.81H474.73V265.85H454.29zM478.13 261.81H525.82V265.85H478.13zM529.23 261.81H542.86V265.85H529.23zM546.26 261.81H549.67V265.85H546.26zM556.48 261.81H559.89V265.85H556.48zM597.36 261.81H600.77V265.85H597.36zM607.58 261.81H610.99V265.85H607.58zM617.8 261.81H621.21V265.85H617.8zM103.41 265.85H106.81V269.88H103.41zM110.22 265.85H113.63V269.88H110.22zM117.03 265.85H120.44V269.88H117.03zM123.85 265.85H130.66V269.88H123.85zM134.07 265.85H137.47V269.88H134.07zM144.29 265.85H147.69V269.88H144.29zM174.95 265.85H178.35V269.88H174.95zM185.16 265.85H188.57V269.88H185.16zM253.3 265.85H256.7V269.88H253.3zM277.14 265.85H283.96V269.88H277.14zM287.36 265.85H297.58V269.88H287.36zM300.99 265.85H307.8V269.88H300.99zM338.46 265.85H348.68V269.88H338.46zM352.09 265.85H355.49V269.88H352.09zM358.9 265.85H362.31V269.88H358.9zM365.71 265.85H369.12V269.88H365.71zM372.53 265.85H375.93V269.88H372.53zM403.19 265.85H413.41V269.88H403.19zM416.81 265.85H420.22V269.88H416.81zM427.03 265.85H437.25V269.88H427.03zM444.07 265.85H450.88V269.88H444.07zM454.29 265.85H512.2V269.88H454.29zM515.6 265.85H525.82V269.88H515.6zM529.23 265.85H542.86V269.88H529.23zM546.26 265.85H553.08V269.88H546.26zM593.96 265.85H597.36V269.88H593.96zM607.58 265.85H610.99V269.88H607.58zM617.8 265.85H621.21V269.88H617.8zM103.41 269.88H106.81V273.92H103.41zM110.22 269.88H113.63V273.92H110.22zM117.03 269.88H120.44V273.92H117.03zM123.85 269.88H130.66V273.92H123.85zM134.07 269.88H140.88V273.92H134.07zM144.29 269.88H147.69V273.92H144.29zM174.95 269.88H178.35V273.92H174.95zM185.16 269.88H188.57V273.92H185.16zM253.3 269.88H256.7V273.92H253.3zM270.33 269.88H273.74V273.92H270.33zM277.14 269.88H283.96V273.92H277.14zM287.36 269.88H297.58V273.92H287.36zM300.99 269.88H307.8V273.92H300.99zM338.46 269.88H348.68V273.92H338.46zM352.09 269.88H355.49V273.92H352.09zM358.9 269.88H362.31V273.92H358.9zM365.71 269.88H369.12V273.92H365.71zM372.53 269.88H379.34V273.92H372.53zM403.19 269.88H406.59V273.92H403.19zM410 269.88H413.41V273.92H410zM416.81 269.88H420.22V273.92H416.81zM427.03 269.88H437.25V273.92H427.03zM444.07 269.88H450.88V273.92H444.07zM457.69 269.88H484.95V273.92H457.69zM491.76 269.88H512.2V273.92H491.76zM515.6 269.88H525.82V273.92H515.6zM529.23 269.88H542.86V273.92H529.23zM546.26 269.88H556.48V273.92H546.26zM559.89 269.88H573.52V273.92H559.89zM576.92 269.88H580.33V273.92H576.92zM583.74 269.88H593.96V273.92H583.74zM607.58 269.88H610.99V273.92H607.58zM617.8 269.88H621.21V273.92H617.8zM692.75 269.88H696.15V273.92H692.75zM103.41 273.92H106.81V277.96H103.41zM110.22 273.92H113.63V277.96H110.22zM123.85 273.92H130.66V277.96H123.85zM134.07 273.92H140.88V277.96H134.07zM144.29 273.92H151.1V277.96H144.29zM164.73 273.92H168.13V277.96H164.73zM174.95 273.92H178.35V277.96H174.95zM185.16 273.92H188.57V277.96H185.16zM195.38 273.92H198.79V277.96H195.38zM253.3 273.92H256.7V277.96H253.3zM270.33 273.92H273.74V277.96H270.33zM277.14 273.92H283.96V277.96H277.14zM287.36 273.92H297.58V277.96H287.36zM300.99 273.92H307.8V277.96H300.99zM338.46 273.92H348.68V277.96H338.46zM352.09 273.92H355.49V277.96H352.09zM358.9 273.92H362.31V277.96H358.9zM365.71 273.92H369.12V277.96H365.71zM372.53 273.92H382.75V277.96H372.53zM386.15 273.92H396.37V277.96H386.15zM399.78 273.92H406.59V277.96H399.78zM410 273.92H413.41V277.96H410zM416.81 273.92H420.22V277.96H416.81zM427.03 273.92H437.25V277.96H427.03zM444.07 273.92H450.88V277.96H444.07zM457.69 273.92H461.1V277.96H457.69zM464.51 273.92H484.95V277.96H464.51zM491.76 273.92H512.2V277.96H491.76zM515.6 273.92H525.82V277.96H515.6zM529.23 273.92H542.86V277.96H529.23zM546.26 273.92H556.48V277.96H546.26zM559.89 273.92H566.7V277.96H559.89zM570.11 273.92H576.92V277.96H570.11zM580.33 273.92H583.74V277.96H580.33zM587.14 273.92H593.96V277.96H587.14zM607.58 273.92H610.99V277.96H607.58zM617.8 273.92H621.21V277.96H617.8zM692.75 273.92H696.15V277.96H692.75zM103.41 277.96H106.81V282H103.41zM110.22 277.96H113.63V282H110.22zM123.85 277.96H130.66V282H123.85zM134.07 277.96H140.88V282H134.07zM147.69 277.96H154.51V282H147.69zM157.91 277.96H161.32V282H157.91zM164.73 277.96H168.13V282H164.73zM174.95 277.96H178.35V282H174.95zM185.16 277.96H188.57V282H185.16zM195.38 277.96H198.79V282H195.38zM253.3 277.96H256.7V282H253.3zM270.33 277.96H273.74V282H270.33zM277.14 277.96H283.96V282H277.14zM287.36 277.96H300.99V282H287.36zM304.4 277.96H307.8V282H304.4zM338.46 277.96H348.68V282H338.46zM352.09 277.96H355.49V282H352.09zM358.9 277.96H362.31V282H358.9zM365.71 277.96H382.75V282H365.71zM386.15 277.96H389.56V282H386.15zM399.78 277.96H406.59V282H399.78zM410 277.96H420.22V282H410zM427.03 277.96H437.25V282H427.03zM444.07 277.96H450.88V282H444.07zM457.69 277.96H461.1V282H457.69zM464.51 277.96H484.95V282H464.51zM491.76 277.96H512.2V282H491.76zM515.6 277.96H525.82V282H515.6zM529.23 277.96H542.86V282H529.23zM546.26 277.96H556.48V282H546.26zM559.89 277.96H566.7V282H559.89zM570.11 277.96H576.92V282H570.11zM580.33 277.96H583.74V282H580.33zM587.14 277.96H593.96V282H587.14zM607.58 277.96H610.99V282H607.58zM617.8 277.96H621.21V282H617.8zM692.75 277.96H696.15V282H692.75z"/>
<path fill="#8aff6d" d="M106.81 72H110.22V76.04H106.81zM113.63 72H120.44V76.04H113.63zM157.91 72H161.32V76.04H157.91zM164.73 72H171.54V76.04H164.73zM181.76 72H188.57V76.04H181.76zM219.23 72H226.04V76.04H219.23zM253.3 72H260.11V76.04H253.3zM263.52 72H266.92V76.04H263.52zM692.75 72H696.15V76.04H692.75zM106.81 76.04H110.22V80.08H106.81zM113.63 76.04H120.44V80.08H113.63zM157.91 76.04H161.32V80.08H157.91zM164.73 76.04H171.54V80.08H164.73zM181.76 76.04H188.57V80.08H181.76zM219.23 76.04H226.04V80.08H219.23zM253.3 76.04H260.11V80.08H253.3zM263.52 76.04H266.92V80.08H263.52zM692.75 76.04H696.15V80.08H692.75zM311.21 80.08H314.62V84.12H311.21zM488.35 80.08H491.76V84.12H488.35zM692.75 80.08H696.15V84.12H692.75zM311.21 84.12H314.62V88.15H311.21zM488.35 84.12H491.76V88.15H488.35zM692.75 84.12H696.15V88.15H692.75zM488.35 88.15H491.76V92.19H488.35zM692.75 88.15H696.15V92.19H692.75zM488.35 92.19H491.76V96.23H488.35zM692.75 92.19H696.15V96.23H692.75zM488.35 96.23H491.76V100.27H488.35zM692.75 96.23H696.15V100.27H692.75zM488.35 100.27H491.76V104.31H488.35zM692.75 100.27H696.15V104.31H692.75zM488.35 104.31H491.76V108.35H488.35zM488.35 108.35H491.76V112.38H488.35zM488.35 112.38H491.76V116.42H488.35zM488.35 116.42H491.76V120.46H488.35zM556.48 116.42H559.89V120.46H556.48zM563.3 116.42H570.11V120.46H563.3zM123.85 120.46H130.66V124.5H123.85zM174.95 120.46H185.16V124.5H174.95zM488.35 120.46H491.76V124.5H488.35zM185.16 124.5H188.57V128.54H185.16zM488.35 124.5H491.76V128.54H488.35zM546.26 124.5H549.67V128.54H546.26zM692.75 124.5H696.15V128.54H692.75zM185.16 128.54H191.98V132.58H185.16zM488.35 128.54H491.76V132.58H488.35zM546.26 128.54H549.67V132.58H546.26zM692.75 128.54H696.15V132.58H692.75zM188.57 132.58H191.98V136.62H188.57zM399.78 132.58H403.19V136.62H399.78zM406.59 132.58H413.41V136.62H406.59zM488.35 132.58H491.76V136.62H488.35zM546.26 132.58H549.67V136.62H546.26zM692.75 132.58H696.15V136.62H692.75zM188.57 136.62H191.98V140.65H188.57zM399.78 136.62H416.81V140.65H399.78zM488.35 136.62H491.76V140.65H488.35zM692.75 136.62H696.15V140.65H692.75zM188.57 140.65H191.98V144.69H188.57zM399.78 140.65H416.81V144.69H399.78zM692.75 140.65H696.15V144.69H692.75zM188.57 144.69H195.38V148.73H188.57zM205.6 144.69H209.01V148.73H205.6zM212.42 144.69H232.86V148.73H212.42zM243.08 144.69H253.3V148.73H243.08zM399.78 144.69H416.81V148.73H399.78zM553.08 144.69H559.89V148.73H553.08zM195.38 148.73H198.79V152.77H195.38zM311.21 148.73H314.62V152.77H311.21zM399.78 148.73H413.41V152.77H399.78zM559.89 148.73H563.3V152.77H559.89zM491.76 152.77H495.16V156.81H491.76zM553.08 152.77H559.89V156.81H553.08zM563.3 152.77H566.7V156.81H563.3zM570.11 152.77H576.92V156.81H570.11zM120.44 156.81H123.85V160.85H120.44zM495.16 156.81H498.57V160.85H495.16zM542.86 156.81H546.26V160.85H542.86zM580.33 156.81H600.77V160.85H580.33zM604.18 156.81H607.58V160.85H604.18zM610.99 156.81H614.4V160.85H610.99zM621.21 156.81H624.62V160.85H621.21zM648.46 156.81H651.87V160.85H648.46zM662.09 156.81H665.49V160.85H662.09zM716.59 156.81H720V160.85H716.59zM120.44 160.85H123.85V164.88H120.44zM532.64 160.85H539.45V164.88H532.64zM668.9 160.85H675.71V164.88H668.9zM113.63 164.88H120.44V168.92H113.63zM696.15 164.88H699.56V168.92H696.15zM103.41 172.96H106.81V177H103.41zM713.19 177H716.59V181.04H713.19zM699.56 185.08H702.97V189.12H699.56zM212.42 189.12H215.82V193.15H212.42zM232.86 189.12H236.26V193.15H232.86zM239.67 189.12H246.48V193.15H239.67zM249.89 189.12H260.11V193.15H249.89zM263.52 189.12H266.92V193.15H263.52zM270.33 189.12H273.74V193.15H270.33zM672.31 189.12H675.71V193.15H672.31zM699.56 189.12H702.97V193.15H699.56zM191.98 193.15H212.42V197.19H191.98zM215.82 193.15H239.67V197.19H215.82zM662.09 193.15H672.31V197.19H662.09zM191.98 197.19H202.2V201.23H191.98zM205.6 197.19H212.42V201.23H205.6zM215.82 197.19H236.26V201.23H215.82zM689.34 197.19H699.56V201.23H689.34zM191.98 201.23H202.2V205.27H191.98zM205.6 201.23H212.42V205.27H205.6zM215.82 201.23H239.67V205.27H215.82zM685.93 201.23H689.34V205.27H685.93zM106.81 205.27H110.22V209.31H106.81zM188.57 205.27H202.2V209.31H188.57zM205.6 205.27H209.01V209.31H205.6zM219.23 205.27H239.67V209.31H219.23zM685.93 205.27H689.34V209.31H685.93zM106.81 209.31H113.63V213.35H106.81zM181.76 209.31H185.16V213.35H181.76zM195.38 209.31H202.2V213.35H195.38zM205.6 209.31H209.01V213.35H205.6zM219.23 209.31H229.45V213.35H219.23zM685.93 209.31H689.34V213.35H685.93zM110.22 213.35H113.63V217.38H110.22zM181.76 213.35H188.57V217.38H181.76zM205.6 213.35H209.01V217.38H205.6zM219.23 213.35H226.04V217.38H219.23zM685.93 213.35H689.34V217.38H685.93zM110.22 217.38H113.63V221.42H110.22zM651.87 217.38H655.27V221.42H651.87zM685.93 217.38H689.34V221.42H685.93zM651.87 221.42H655.27V225.46H651.87zM685.93 221.42H689.34V225.46H685.93zM260.11 225.46H263.52V229.5H260.11zM648.46 225.46H655.27V229.5H648.46zM685.93 225.46H689.34V229.5H685.93zM256.7 229.5H260.11V233.54H256.7zM263.52 229.5H270.33V233.54H263.52zM648.46 229.5H655.27V233.54H648.46zM110.22 233.54H113.63V237.58H110.22zM178.35 233.54H181.76V237.58H178.35zM256.7 233.54H260.11V237.58H256.7zM266.92 233.54H270.33V237.58H266.92zM648.46 233.54H655.27V237.58H648.46zM110.22 237.58H113.63V241.62H110.22zM151.1 237.58H157.91V241.62H151.1zM178.35 237.58H181.76V241.62H178.35zM270.33 237.58H273.74V241.62H270.33zM641.65 237.58H645.05V241.62H641.65zM648.46 237.58H655.27V241.62H648.46zM113.63 241.62H147.69V245.65H113.63zM168.13 241.62H178.35V245.65H168.13zM270.33 241.62H273.74V245.65H270.33zM386.15 241.62H389.56V245.65H386.15zM573.52 241.62H587.14V245.65H573.52zM614.4 241.62H617.8V245.65H614.4zM628.02 241.62H634.84V245.65H628.02zM638.24 241.62H655.27V245.65H638.24zM685.93 241.62H699.56V245.65H685.93zM702.97 241.62H713.19V245.65H702.97zM120.44 245.65H127.25V249.69H120.44zM130.66 245.65H134.07V249.69H130.66zM137.47 245.65H140.88V249.69H137.47zM168.13 245.65H174.95V249.69H168.13zM270.33 245.65H273.74V249.69H270.33zM318.02 245.65H321.43V249.69H318.02zM331.65 245.65H335.05V249.69H331.65zM379.34 245.65H386.15V249.69H379.34zM392.97 245.65H403.19V249.69H392.97zM559.89 245.65H566.7V249.69H559.89zM590.55 245.65H597.36V249.69H590.55zM621.21 245.65H628.02V249.69H621.21zM634.84 245.65H641.65V249.69H634.84zM645.05 245.65H648.46V249.69H645.05zM651.87 245.65H658.68V249.69H651.87zM665.49 245.65H668.9V249.69H665.49zM672.31 245.65H675.71V249.69H672.31zM679.12 245.65H682.53V249.69H679.12zM685.93 245.65H696.15V249.69H685.93zM699.56 245.65H702.97V249.69H699.56zM706.37 245.65H720V249.69H706.37zM113.63 249.69H117.03V253.73H113.63zM120.44 249.69H127.25V253.73H120.44zM130.66 249.69H134.07V253.73H130.66zM137.47 249.69H140.88V253.73H137.47zM168.13 249.69H174.95V253.73H168.13zM270.33 249.69H273.74V253.73H270.33zM314.62 249.69H335.05V253.73H314.62zM375.93 249.69H379.34V253.73H375.93zM399.78 249.69H403.19V253.73H399.78zM593.96 249.69H597.36V253.73H593.96zM621.21 249.69H628.02V253.73H621.21zM634.84 249.69H641.65V253.73H634.84zM645.05 249.69H648.46V253.73H645.05zM651.87 249.69H658.68V253.73H651.87zM665.49 249.69H668.9V253.73H665.49zM672.31 249.69H675.71V253.73H672.31zM679.12 249.69H682.53V253.73H679.12zM685.93 249.69H696.15V253.73H685.93zM699.56 249.69H702.97V253.73H699.56zM706.37 249.69H720V253.73H706.37zM113.63 253.73H117.03V257.77H113.63zM120.44 253.73H127.25V257.77H120.44zM130.66 253.73H134.07V257.77H130.66zM137.47 253.73H140.88V257.77H137.47zM168.13 253.73H174.95V257.77H168.13zM270.33 253.73H273.74V257.77H270.33zM307.8 253.73H318.02V257.77H307.8zM321.43 253.73H331.65V257.77H321.43zM335.05 253.73H338.46V257.77H335.05zM372.53 253.73H375.93V257.77H372.53zM553.08 253.73H556.48V257.77H553.08zM621.21 253.73H628.02V257.77H621.21zM634.84 253.73H641.65V257.77H634.84zM645.05 253.73H648.46V257.77H645.05zM651.87 253.73H658.68V257.77H651.87zM665.49 253.73H668.9V257.77H665.49zM672.31 253.73H675.71V257.77H672.31zM679.12 253.73H682.53V257.77H679.12zM685.93 253.73H689.34V257.77H685.93zM692.75 253.73H696.15V257.77H692.75zM699.56 253.73H702.97V257.77H699.56zM706.37 253.73H720V257.77H706.37zM113.63 257.77H117.03V261.81H113.63zM120.44 257.77H127.25V261.81H120.44zM130.66 257.77H134.07V261.81H130.66zM137.47 257.77H140.88V261.81H137.47zM168.13 257.77H174.95V261.81H168.13zM270.33 257.77H273.74V261.81H270.33zM307.8 257.77H318.02V261.81H307.8zM321.43 257.77H331.65V261.81H321.43zM335.05 257.77H338.46V261.81H335.05zM372.53 257.77H375.93V261.81H372.53zM553.08 257.77H556.48V261.81H553.08zM593.96 257.77H597.36V261.81H593.96zM610.99 257.77H614.4V261.81H610.99zM621.21 257.77H628.02V261.81H621.21zM634.84 257.77H641.65V261.81H634.84zM645.05 257.77H648.46V261.81H645.05zM651.87 257.77H658.68V261.81H651.87zM665.49 257.77H668.9V261.81H665.49zM679.12 257.77H682.53V261.81H679.12zM685.93 257.77H689.34V261.81H685.93zM692.75 257.77H696.15V261.81H692.75zM699.56 257.77H702.97V261.81H699.56zM706.37 257.77H720V261.81H706.37zM113.63 261.81H117.03V265.85H113.63zM120.44 261.81H123.85V265.85H120.44zM130.66 261.81H134.07V265.85H130.66zM137.47 261.81H140.88V265.85H137.47zM168.13 261.81H174.95V265.85H168.13zM256.7 261.81H260.11V265.85H256.7zM270.33 261.81H273.74V265.85H270.33zM307.8 261.81H318.02V265.85H307.8zM321.43 261.81H324.84V265.85H321.43zM328.24 261.81H331.65V265.85H328.24zM335.05 261.81H338.46V265.85H335.05zM348.68 261.81H352.09V265.85H348.68zM372.53 261.81H379.34V265.85H372.53zM553.08 261.81H556.48V265.85H553.08zM559.89 261.81H563.3V265.85H559.89zM593.96 261.81H597.36V265.85H593.96zM610.99 261.81H614.4V265.85H610.99zM621.21 261.81H628.02V265.85H621.21zM634.84 261.81H641.65V265.85H634.84zM645.05 261.81H648.46V265.85H645.05zM651.87 261.81H658.68V265.85H651.87zM665.49 261.81H668.9V265.85H665.49zM685.93 261.81H689.34V265.85H685.93zM692.75 261.81H696.15V265.85H692.75zM699.56 261.81H702.97V265.85H699.56zM706.37 261.81H720V265.85H706.37zM113.63 265.85H117.03V269.88H113.63zM120.44 265.85H123.85V269.88H120.44zM130.66 265.85H134.07V269.88H130.66zM137.47 265.85H144.29V269.88H137.47zM168.13 265.85H174.95V269.88H168.13zM256.7 265.85H260.11V269.88H256.7zM270.33 265.85H273.74V269.88H270.33zM307.8 265.85H318.02V269.88H307.8zM321.43 265.85H324.84V269.88H321.43zM328.24 265.85H331.65V269.88H328.24zM335.05 265.85H338.46V269.88H335.05zM348.68 265.85H352.09V269.88H348.68zM375.93 265.85H379.34V269.88H375.93zM399.78 265.85H403.19V269.88H399.78zM553.08 265.85H556.48V269.88H553.08zM559.89 265.85H570.11V269.88H559.89zM583.74 265.85H593.96V269.88H583.74zM610.99 265.85H614.4V269.88H610.99zM621.21 265.85H624.62V269.88H621.21zM634.84 265.85H648.46V269.88H634.84zM651.87 265.85H658.68V269.88H651.87zM665.49 265.85H668.9V269.88H665.49zM675.71 265.85H679.12V269.88H675.71zM685.93 265.85H689.34V269.88H685.93zM692.75 265.85H696.15V269.88H692.75zM699.56 265.85H702.97V269.88H699.56zM706.37 265.85H709.78V269.88H706.37zM713.19 265.85H720V269.88H713.19zM113.63 269.88H117.03V273.92H113.63zM120.44 269.88H123.85V273.92H120.44zM130.66 269.88H134.07V273.92H130.66zM140.88 269.88H144.29V273.92H140.88zM168.13 269.88H174.95V273.92H168.13zM256.7 269.88H260.11V273.92H256.7zM307.8 269.88H318.02V273.92H307.8zM321.43 269.88H324.84V273.92H321.43zM328.24 269.88H331.65V273.92H328.24zM335.05 269.88H338.46V273.92H335.05zM348.68 269.88H352.09V273.92H348.68zM379.34 269.88H382.75V273.92H379.34zM386.15 269.88H403.19V273.92H386.15zM573.52 269.88H576.92V273.92H573.52zM580.33 269.88H583.74V273.92H580.33zM610.99 269.88H614.4V273.92H610.99zM621.21 269.88H624.62V273.92H621.21zM634.84 269.88H648.46V273.92H634.84zM651.87 269.88H655.27V273.92H651.87zM665.49 269.88H668.9V273.92H665.49zM675.71 269.88H679.12V273.92H675.71zM685.93 269.88H689.34V273.92H685.93zM699.56 269.88H709.78V273.92H699.56zM713.19 269.88H720V273.92H713.19zM113.63 273.92H117.03V277.96H113.63zM120.44 273.92H123.85V277.96H120.44zM130.66 273.92H134.07V277.96H130.66zM140.88 273.92H144.29V277.96H140.88zM168.13 273.92H174.95V277.96H168.13zM256.7 273.92H260.11V277.96H256.7zM266.92 273.92H270.33V277.96H266.92zM307.8 273.92H318.02V277.96H307.8zM321.43 273.92H324.84V277.96H321.43zM328.24 273.92H331.65V277.96H328.24zM335.05 273.92H338.46V277.96H335.05zM348.68 273.92H352.09V277.96H348.68zM382.75 273.92H386.15V277.96H382.75zM396.37 273.92H399.78V277.96H396.37zM610.99 273.92H614.4V277.96H610.99zM621.21 273.92H624.62V277.96H621.21zM634.84 273.92H648.46V277.96H634.84zM651.87 273.92H655.27V277.96H651.87zM665.49 273.92H668.9V277.96H665.49zM675.71 273.92H679.12V277.96H675.71zM685.93 273.92H689.34V277.96H685.93zM699.56 273.92H709.78V277.96H699.56zM713.19 273.92H716.59V277.96H713.19zM113.63 277.96H117.03V282H113.63zM120.44 277.96H123.85V282H120.44zM130.66 277.96H134.07V282H130.66zM140.88 277.96H147.69V282H140.88zM168.13 277.96H174.95V282H168.13zM256.7 277.96H260.11V282H256.7zM263.52 277.96H270.33V282H263.52zM307.8 277.96H318.02V282H307.8zM321.43 277.96H324.84V282H321.43zM335.05 277.96H338.46V282H335.05zM348.68 277.96H352.09V282H348.68zM382.75 277.96H386.15V282H382.75zM396.37 277.96H399.78V282H396.37zM610.99 277.96H614.4V282H610.99zM621.21 277.96H624.62V282H621.21zM634.84 277.96H648.46V282H634.84zM651.87 277.96H655.27V282H651.87zM665.49 277.96H668.9V282H665.49zM675.71 277.96H679.12V282H675.71zM696.15 277.96H709.78V282H696.15zM713.19 277.96H716.59V282H713.19z"/>
<path fill="#90ff66" d="M103.41 72H106.81V76.04H103.41zM120.44 72H127.25V76.04H120.44zM151.1 72H157.91V76.04H151.1zM161.32 72H164.73V76.04H161.32zM171.54 72H181.76V76.04H171.54zM188.57 72H198.79V76.04H188.57zM215.82 72H219.23V76.04H215.82zM260.11 72H263.52V76.04H260.11zM266.92 72H277.14V76.04H266.92zM103.41 76.04H106.81V80.08H103.41zM120.44 76.04H127.25V80.08H120.44zM151.1 76.04H157.91V80.08H151.1zM161.32 76.04H164.73V80.08H161.32zM171.54 76.04H181.76V80.08H171.54zM188.57 76.04H198.79V80.08H188.57zM215.82 76.04H219.23V80.08H215.82zM260.11 76.04H263.52V80.08H260.11zM266.92 76.04H277.14V80.08H266.92zM304.4 80.08H311.21V84.12H304.4zM304.4 84.12H311.21V88.15H304.4zM311.21 88.15H314.62V92.19H311.21zM311.21 92.19H314.62V96.23H311.21zM311.21 96.23H314.62V100.27H311.21zM311.21 100.27H314.62V104.31H311.21zM311.21 104.31H314.62V108.35H311.21zM311.21 108.35H314.62V112.38H311.21zM689.34 108.35H692.75V112.38H689.34zM311.21 112.38H314.62V116.42H311.21zM553.08 112.38H556.48V116.42H553.08zM559.89 112.38H563.3V116.42H559.89zM662.09 112.38H665.49V116.42H662.09zM689.34 112.38H692.75V116.42H689.34zM311.21 116.42H314.62V120.46H311.21zM542.86 116.42H553.08V120.46H542.86zM583.74 116.42H590.55V120.46H583.74zM607.58 116.42H610.99V120.46H607.58zM621.21 116.42H624.62V120.46H621.21zM634.84 116.42H638.24V120.46H634.84zM641.65 116.42H645.05V120.46H641.65zM655.27 116.42H658.68V120.46H655.27zM662.09 116.42H665.49V120.46H662.09zM672.31 116.42H675.71V120.46H672.31zM689.34 116.42H692.75V120.46H689.34zM147.69 120.46H151.1V124.5H147.69zM171.54 120.46H174.95V124.5H171.54zM311.21 120.46H314.62V124.5H311.21zM542.86 120.46H549.67V124.5H542.86zM583.74 120.46H590.55V124.5H583.74zM607.58 120.46H610.99V124.5H607.58zM621.21 120.46H624.62V124.5H621.21zM641.65 120.46H645.05V124.5H641.65zM655.27 120.46H658.68V124.5H655.27zM662.09 120.46H665.49V124.5H662.09zM689.34 120.46H692.75V124.5H689.34zM120.44 124.5H123.85V128.54H120.44zM130.66 124.5H147.69V128.54H130.66zM174.95 124.5H185.16V128.54H174.95zM311.21 124.5H314.62V128.54H311.21zM542.86 124.5H546.26V128.54H542.86zM583.74 124.5H590.55V128.54H583.74zM621.21 124.5H624.62V128.54H621.21zM641.65 124.5H645.05V128.54H641.65zM662.09 124.5H665.49V128.54H662.09zM130.66 128.54H147.69V132.58H130.66zM181.76 128.54H185.16V132.58H181.76zM311.21 128.54H314.62V132.58H311.21zM542.86 128.54H546.26V132.58H542.86zM583.74 128.54H590.55V132.58H583.74zM621.21 128.54H624.62V132.58H621.21zM662.09 128.54H665.49V132.58H662.09zM137.47 132.58H147.69V136.62H137.47zM181.76 132.58H188.57V136.62H181.76zM311.21 132.58H314.62V136.62H311.21zM542.86 132.58H546.26V136.62H542.86zM583.74 132.58H587.14V136.62H583.74zM621.21 132.58H624.62V136.62H621.21zM662.09 132.58H665.49V136.62H662.09zM137.47 136.62H147.69V140.65H137.47zM181.76 136.62H188.57V140.65H181.76zM311.21 136.62H314.62V140.65H311.21zM542.86 136.62H549.67V140.65H542.86zM583.74 136.62H587.14V140.65H583.74zM662.09 136.62H665.49V140.65H662.09zM137.47 140.65H144.29V144.69H137.47zM178.35 140.65H188.57V144.69H178.35zM311.21 140.65H314.62V144.69H311.21zM542.86 140.65H549.67V144.69H542.86zM662.09 140.65H665.49V144.69H662.09zM137.47 144.69H140.88V148.73H137.47zM178.35 144.69H188.57V148.73H178.35zM209.01 144.69H212.42V148.73H209.01zM253.3 144.69H256.7V148.73H253.3zM311.21 144.69H314.62V148.73H311.21zM542.86 144.69H546.26V148.73H542.86zM549.67 144.69H553.08V148.73H549.67zM563.3 144.69H570.11V148.73H563.3zM662.09 144.69H665.49V148.73H662.09zM692.75 144.69H696.15V148.73H692.75zM191.98 148.73H195.38V152.77H191.98zM198.79 148.73H202.2V152.77H198.79zM232.86 148.73H239.67V152.77H232.86zM542.86 148.73H546.26V152.77H542.86zM553.08 148.73H556.48V152.77H553.08zM566.7 148.73H570.11V152.77H566.7zM662.09 148.73H665.49V152.77H662.09zM692.75 148.73H696.15V152.77H692.75zM120.44 152.77H123.85V156.81H120.44zM542.86 152.77H546.26V156.81H542.86zM549.67 152.77H553.08V156.81H549.67zM576.92 152.77H580.33V156.81H576.92zM583.74 152.77H587.14V156.81H583.74zM590.55 152.77H607.58V156.81H590.55zM610.99 152.77H614.4V156.81H610.99zM662.09 152.77H665.49V156.81H662.09zM679.12 152.77H682.53V156.81H679.12zM692.75 152.77H696.15V156.81H692.75zM532.64 156.81H542.86V160.85H532.64zM546.26 156.81H549.67V160.85H546.26zM607.58 156.81H610.99V160.85H607.58zM614.4 156.81H621.21V160.85H614.4zM624.62 156.81H628.02V160.85H624.62zM645.05 156.81H648.46V160.85H645.05zM651.87 156.81H662.09V160.85H651.87zM665.49 156.81H682.53V160.85H665.49zM675.71 160.85H679.12V164.88H675.71zM675.71 164.88H679.12V168.92H675.71zM106.81 168.92H110.22V172.96H106.81zM675.71 168.92H679.12V172.96H675.71zM696.15 168.92H699.56V172.96H696.15zM675.71 172.96H679.12V177H675.71zM696.15 172.96H699.56V177H696.15zM716.59 172.96H720V177H716.59zM675.71 177H679.12V181.04H675.71zM675.71 181.04H679.12V185.08H675.71zM675.71 185.08H679.12V189.12H675.71zM198.79 189.12H212.42V193.15H198.79zM215.82 189.12H232.86V193.15H215.82zM236.26 189.12H239.67V193.15H236.26zM246.48 189.12H249.89V193.15H246.48zM273.74 189.12H277.14V193.15H273.74zM675.71 189.12H679.12V193.15H675.71zM188.57 193.15H191.98V197.19H188.57zM672.31 193.15H679.12V197.19H672.31zM716.59 193.15H720V197.19H716.59zM188.57 197.19H191.98V201.23H188.57zM655.27 197.19H662.09V201.23H655.27zM685.93 197.19H689.34V201.23H685.93zM100 201.23H106.81V205.27H100zM188.57 201.23H191.98V205.27H188.57zM682.53 201.23H685.93V205.27H682.53zM110.22 205.27H113.63V209.31H110.22zM185.16 205.27H188.57V209.31H185.16zM682.53 205.27H685.93V209.31H682.53zM113.63 209.31H117.03V213.35H113.63zM185.16 209.31H188.57V213.35H185.16zM679.12 209.31H682.53V213.35H679.12zM113.63 213.35H117.03V217.38H113.63zM151.1 213.35H154.51V217.38H151.1zM679.12 213.35H682.53V217.38H679.12zM178.35 217.38H181.76V221.42H178.35zM679.12 217.38H682.53V221.42H679.12zM110.22 221.42H113.63V225.46H110.22zM161.32 221.42H164.73V225.46H161.32zM178.35 221.42H181.76V225.46H178.35zM679.12 221.42H685.93V225.46H679.12zM110.22 225.46H113.63V229.5H110.22zM161.32 225.46H164.73V229.5H161.32zM178.35 225.46H181.76V229.5H178.35zM679.12 225.46H685.93V229.5H679.12zM110.22 229.5H113.63V233.54H110.22zM161.32 229.5H164.73V233.54H161.32zM178.35 229.5H181.76V233.54H178.35zM260.11 229.5H263.52V233.54H260.11zM679.12 229.5H685.93V233.54H679.12zM113.63 233.54H117.03V237.58H113.63zM151.1 233.54H157.91V237.58H151.1zM161.32 233.54H164.73V237.58H161.32zM260.11 233.54H266.92V237.58H260.11zM679.12 233.54H685.93V237.58H679.12zM113.63 237.58H151.1V241.62H113.63zM157.91 237.58H161.32V241.62H157.91zM164.73 237.58H178.35V241.62H164.73zM256.7 237.58H270.33V241.62H256.7zM655.27 237.58H658.68V241.62H655.27zM679.12 237.58H685.93V241.62H679.12zM256.7 241.62H270.33V245.65H256.7zM655.27 241.62H662.09V245.65H655.27zM665.49 241.62H685.93V245.65H665.49zM256.7 245.65H270.33V249.69H256.7zM386.15 245.65H392.97V249.69H386.15zM566.7 245.65H573.52V249.69H566.7zM587.14 245.65H590.55V249.69H587.14zM614.4 245.65H617.8V249.69H614.4zM628.02 245.65H634.84V249.69H628.02zM641.65 245.65H645.05V249.69H641.65zM648.46 245.65H651.87V249.69H648.46zM658.68 245.65H662.09V249.69H658.68zM668.9 245.65H672.31V249.69H668.9zM675.71 245.65H679.12V249.69H675.71zM682.53 245.65H685.93V249.69H682.53zM696.15 245.65H699.56V249.69H696.15zM702.97 245.65H706.37V249.69H702.97zM256.7 249.69H270.33V253.73H256.7zM379.34 249.69H382.75V253.73H379.34zM396.37 249.69H399.78V253.73H396.37zM559.89 249.69H563.3V253.73H559.89zM590.55 249.69H593.96V253.73H590.55zM614.4 249.69H617.8V253.73H614.4zM628.02 249.69H634.84V253.73H628.02zM641.65 249.69H645.05V253.73H641.65zM648.46 249.69H651.87V253.73H648.46zM658.68 249.69H665.49V253.73H658.68zM668.9 249.69H672.31V253.73H668.9zM675.71 249.69H679.12V253.73H675.71zM682.53 249.69H685.93V253.73H682.53zM696.15 249.69H699.56V253.73H696.15zM702.97 249.69H706.37V253.73H702.97zM256.7 253.73H270.33V257.77H256.7zM318.02 253.73H321.43V257.77H318.02zM331.65 253.73H335.05V257.77H331.65zM375.93 253.73H382.75V257.77H375.93zM399.78 253.73H403.19V257.77H399.78zM559.89 253.73H563.3V257.77H559.89zM593.96 253.73H597.36V257.77H593.96zM614.4 253.73H617.8V257.77H614.4zM628.02 253.73H634.84V257.77H628.02zM641.65 253.73H645.05V257.77H641.65zM648.46 253.73H651.87V257.77H648.46zM658.68 253.73H665.49V257.77H658.68zM668.9 253.73H672.31V257.77H668.9zM675.71 253.73H679.12V257.77H675.71zM682.53 253.73H685.93V257.77H682.53zM689.34 253.73H692.75V257.77H689.34zM696.15 253.73H699.56V257.77H696.15zM702.97 253.73H706.37V257.77H702.97zM256.7 257.77H270.33V261.81H256.7zM318.02 257.77H321.43V261.81H318.02zM331.65 257.77H335.05V261.81H331.65zM375.93 257.77H382.75V261.81H375.93zM399.78 257.77H403.19V261.81H399.78zM559.89 257.77H563.3V261.81H559.89zM614.4 257.77H617.8V261.81H614.4zM628.02 257.77H634.84V261.81H628.02zM641.65 257.77H645.05V261.81H641.65zM648.46 257.77H651.87V261.81H648.46zM658.68 257.77H665.49V261.81H658.68zM668.9 257.77H679.12V261.81H668.9zM682.53 257.77H685.93V261.81H682.53zM689.34 257.77H692.75V261.81H689.34zM696.15 257.77H699.56V261.81H696.15zM702.97 257.77H706.37V261.81H702.97zM260.11 261.81H270.33V265.85H260.11zM318.02 261.81H321.43V265.85H318.02zM324.84 261.81H328.24V265.85H324.84zM331.65 261.81H335.05V265.85H331.65zM379.34 261.81H382.75V265.85H379.34zM399.78 261.81H403.19V265.85H399.78zM563.3 261.81H570.11V265.85H563.3zM590.55 261.81H593.96V265.85H590.55zM614.4 261.81H617.8V265.85H614.4zM628.02 261.81H634.84V265.85H628.02zM641.65 261.81H645.05V265.85H641.65zM648.46 261.81H651.87V265.85H648.46zM658.68 261.81H665.49V265.85H658.68zM668.9 261.81H685.93V265.85H668.9zM689.34 261.81H692.75V265.85H689.34zM696.15 261.81H699.56V265.85H696.15zM702.97 261.81H706.37V265.85H702.97zM260.11 265.85H270.33V269.88H260.11zM318.02 265.85H321.43V269.88H318.02zM324.84 265.85H328.24V269.88H324.84zM331.65 265.85H335.05V269.88H331.65zM379.34 265.85H382.75V269.88H379.34zM389.56 265.85H399.78V269.88H389.56zM570.11 265.85H583.74V269.88H570.11zM614.4 265.85H617.8V269.88H614.4zM624.62 265.85H634.84V269.88H624.62zM648.46 265.85H651.87V269.88H648.46zM658.68 265.85H665.49V269.88H658.68zM668.9 265.85H675.71V269.88H668.9zM679.12 265.85H685.93V269.88H679.12zM689.34 265.85H692.75V269.88H689.34zM696.15 265.85H699.56V269.88H696.15zM702.97 265.85H706.37V269.88H702.97zM709.78 265.85H713.19V269.88H709.78zM260.11 269.88H270.33V273.92H260.11zM318.02 269.88H321.43V273.92H318.02zM324.84 269.88H328.24V273.92H324.84zM331.65 269.88H335.05V273.92H331.65zM382.75 269.88H386.15V273.92H382.75zM614.4 269.88H617.8V273.92H614.4zM624.62 269.88H634.84V273.92H624.62zM648.46 269.88H651.87V273.92H648.46zM655.27 269.88H665.49V273.92H655.27zM668.9 269.88H675.71V273.92H668.9zM679.12 269.88H685.93V273.92H679.12zM689.34 269.88H692.75V273.92H689.34zM696.15 269.88H699.56V273.92H696.15zM709.78 269.88H713.19V273.92H709.78zM260.11 273.92H266.92V277.96H260.11zM318.02 273.92H321.43V277.96H318.02zM324.84 273.92H328.24V277.96H324.84zM331.65 273.92H335.05V277.96H331.65zM614.4 273.92H617.8V277.96H614.4zM624.62 273.92H634.84V277.96H624.62zM648.46 273.92H651.87V277.96H648.46zM655.27 273.92H665.49V277.96H655.27zM668.9 273.92H675.71V277.96H668.9zM679.12 273.92H685.93V277.96H679.12zM689.34 273.92H692.75V277.96H689.34zM696.15 273.92H699.56V277.96H696.15zM709.78 273.92H713.19V277.96H709.78zM716.59 273.92H720V277.96H716.59zM260.11 277.96H263.52V282H260.11zM318.02 277.96H321.43V282H318.02zM324.84 277.96H335.05V282H324.84zM614.4 277.96H617.8V282H614.4zM624.62 277.96H634.84V282H624.62zM648.46 277.96H651.87V282H648.46zM655.27 277.96H665.49V282H655.27zM668.9 277.96H675.71V282H668.9zM679.12 277.96H692.75V282H679.12zM709.78 277.96H713.19V282H709.78zM716.59 277.96H720V282H716.59z"/>
<path fill="#97ff60" d="M100 72H103.41V76.04H100zM127.25 72H130.66V76.04H127.25zM147.69 72H151.1V76.04H147.69zM198.79 72H202.2V76.04H198.79zM212.42 72H215.82V76.04H212.42zM491.76 72H495.16V76.04H491.76zM665.49 72H668.9V76.04H665.49zM672.31 72H675.71V76.04H672.31zM685.93 72H692.75V76.04H685.93zM100 76.04H103.41V80.08H100zM127.25 76.04H130.66V80.08H127.25zM147.69 76.04H151.1V80.08H147.69zM198.79 76.04H202.2V80.08H198.79zM212.42 76.04H215.82V80.08H212.42zM491.76 76.04H495.16V80.08H491.76zM665.49 76.04H668.9V80.08H665.49zM672.31 76.04H675.71V80.08H672.31zM685.93 76.04H692.75V80.08H685.93zM491.76 80.08H495.16V84.12H491.76zM665.49 80.08H668.9V84.12H665.49zM672.31 80.08H675.71V84.12H672.31zM685.93 80.08H692.75V84.12H685.93zM491.76 84.12H495.16V88.15H491.76zM665.49 84.12H668.9V88.15H665.49zM672.31 84.12H675.71V88.15H672.31zM685.93 84.12H692.75V88.15H685.93zM491.76 88.15H495.16V92.19H491.76zM665.49 88.15H668.9V92.19H665.49zM672.31 88.15H675.71V92.19H672.31zM689.34 88.15H692.75V92.19H689.34zM491.76 92.19H495.16V96.23H491.76zM665.49 92.19H668.9V96.23H665.49zM672.31 92.19H675.71V96.23H672.31zM689.34 92.19H692.75V96.23H689.34zM491.76 96.23H495.16V100.27H491.76zM662.09 96.23H668.9V100.27H662.09zM672.31 96.23H675.71V100.27H672.31zM689.34 96.23H692.75V100.27H689.34zM491.76 100.27H495.16V104.31H491.76zM662.09 100.27H668.9V104.31H662.09zM672.31 100.27H675.71V104.31H672.31zM689.34 100.27H692.75V104.31H689.34zM491.76 104.31H495.16V108.35H491.76zM662.09 104.31H665.49V108.35H662.09zM672.31 104.31H675.71V108.35H672.31zM685.93 104.31H692.75V108.35H685.93zM491.76 108.35H495.16V112.38H491.76zM662.09 108.35H668.9V112.38H662.09zM672.31 108.35H675.71V112.38H672.31zM685.93 108.35H689.34V112.38H685.93zM491.76 112.38H495.16V116.42H491.76zM536.04 112.38H546.26V116.42H536.04zM549.67 112.38H553.08V116.42H549.67zM556.48 112.38H559.89V116.42H556.48zM563.3 112.38H570.11V116.42H563.3zM573.52 112.38H576.92V116.42H573.52zM583.74 112.38H593.96V116.42H583.74zM597.36 112.38H600.77V116.42H597.36zM607.58 112.38H614.4V116.42H607.58zM617.8 112.38H645.05V116.42H617.8zM655.27 112.38H658.68V116.42H655.27zM665.49 112.38H689.34V116.42H665.49zM491.76 116.42H495.16V120.46H491.76zM532.64 116.42H542.86V120.46H532.64zM570.11 116.42H583.74V120.46H570.11zM590.55 116.42H607.58V120.46H590.55zM610.99 116.42H614.4V120.46H610.99zM617.8 116.42H621.21V120.46H617.8zM624.62 116.42H634.84V120.46H624.62zM638.24 116.42H641.65V120.46H638.24zM645.05 116.42H655.27V120.46H645.05zM658.68 116.42H662.09V120.46H658.68zM665.49 116.42H672.31V120.46H665.49zM675.71 116.42H689.34V120.46H675.71zM151.1 120.46H154.51V124.5H151.1zM168.13 120.46H171.54V124.5H168.13zM491.76 120.46H495.16V124.5H491.76zM536.04 120.46H542.86V124.5H536.04zM570.11 120.46H583.74V124.5H570.11zM590.55 120.46H607.58V124.5H590.55zM610.99 120.46H614.4V124.5H610.99zM617.8 120.46H621.21V124.5H617.8zM624.62 120.46H641.65V124.5H624.62zM645.05 120.46H655.27V124.5H645.05zM658.68 120.46H662.09V124.5H658.68zM665.49 120.46H689.34V124.5H665.49zM123.85 124.5H130.66V128.54H123.85zM147.69 124.5H151.1V128.54H147.69zM171.54 124.5H174.95V128.54H171.54zM491.76 124.5H495.16V128.54H491.76zM536.04 124.5H542.86V128.54H536.04zM570.11 124.5H580.33V128.54H570.11zM590.55 124.5H614.4V128.54H590.55zM617.8 124.5H621.21V128.54H617.8zM624.62 124.5H641.65V128.54H624.62zM645.05 124.5H651.87V128.54H645.05zM655.27 124.5H662.09V128.54H655.27zM665.49 124.5H692.75V128.54H665.49zM120.44 128.54H123.85V132.58H120.44zM174.95 128.54H181.76V132.58H174.95zM491.76 128.54H495.16V132.58H491.76zM532.64 128.54H542.86V132.58H532.64zM570.11 128.54H580.33V132.58H570.11zM590.55 128.54H614.4V132.58H590.55zM617.8 128.54H621.21V132.58H617.8zM624.62 128.54H631.43V132.58H624.62zM634.84 128.54H651.87V132.58H634.84zM655.27 128.54H662.09V132.58H655.27zM665.49 128.54H692.75V132.58H665.49zM120.44 132.58H123.85V136.62H120.44zM130.66 132.58H137.47V136.62H130.66zM147.69 132.58H151.1V136.62H147.69zM174.95 132.58H181.76V136.62H174.95zM491.76 132.58H495.16V136.62H491.76zM532.64 132.58H536.04V136.62H532.64zM539.45 132.58H542.86V136.62H539.45zM570.11 132.58H580.33V136.62H570.11zM587.14 132.58H614.4V136.62H587.14zM617.8 132.58H621.21V136.62H617.8zM624.62 132.58H628.02V136.62H624.62zM648.46 132.58H662.09V136.62H648.46zM665.49 132.58H692.75V136.62H665.49zM120.44 136.62H123.85V140.65H120.44zM130.66 136.62H137.47V140.65H130.66zM147.69 136.62H151.1V140.65H147.69zM174.95 136.62H181.76V140.65H174.95zM491.76 136.62H495.16V140.65H491.76zM532.64 136.62H536.04V140.65H532.64zM539.45 136.62H542.86V140.65H539.45zM570.11 136.62H580.33V140.65H570.11zM587.14 136.62H614.4V140.65H587.14zM617.8 136.62H624.62V140.65H617.8zM651.87 136.62H662.09V140.65H651.87zM665.49 136.62H692.75V140.65H665.49zM120.44 140.65H123.85V144.69H120.44zM130.66 140.65H137.47V144.69H130.66zM144.29 140.65H151.1V144.69H144.29zM174.95 140.65H178.35V144.69H174.95zM307.8 140.65H311.21V144.69H307.8zM491.76 140.65H495.16V144.69H491.76zM532.64 140.65H536.04V144.69H532.64zM539.45 140.65H542.86V144.69H539.45zM570.11 140.65H580.33V144.69H570.11zM583.74 140.65H614.4V144.69H583.74zM617.8 140.65H624.62V144.69H617.8zM651.87 140.65H655.27V144.69H651.87zM658.68 140.65H662.09V144.69H658.68zM665.49 140.65H692.75V144.69H665.49zM120.44 144.69H123.85V148.73H120.44zM130.66 144.69H137.47V148.73H130.66zM140.88 144.69H151.1V148.73H140.88zM171.54 144.69H178.35V148.73H171.54zM256.7 144.69H273.74V148.73H256.7zM304.4 144.69H311.21V148.73H304.4zM491.76 144.69H495.16V148.73H491.76zM532.64 144.69H536.04V148.73H532.64zM539.45 144.69H542.86V148.73H539.45zM546.26 144.69H549.67V148.73H546.26zM570.11 144.69H614.4V148.73H570.11zM617.8 144.69H624.62V148.73H617.8zM648.46 144.69H655.27V148.73H648.46zM658.68 144.69H662.09V148.73H658.68zM665.49 144.69H692.75V148.73H665.49zM120.44 148.73H123.85V152.77H120.44zM174.95 148.73H191.98V152.77H174.95zM202.2 148.73H205.6V152.77H202.2zM239.67 148.73H246.48V152.77H239.67zM491.76 148.73H498.57V152.77H491.76zM532.64 148.73H536.04V152.77H532.64zM539.45 148.73H542.86V152.77H539.45zM546.26 148.73H553.08V152.77H546.26zM556.48 148.73H559.89V152.77H556.48zM563.3 148.73H566.7V152.77H563.3zM570.11 148.73H614.4V152.77H570.11zM617.8 148.73H624.62V152.77H617.8zM648.46 148.73H655.27V152.77H648.46zM658.68 148.73H662.09V152.77H658.68zM665.49 148.73H692.75V152.77H665.49zM495.16 152.77H498.57V156.81H495.16zM532.64 152.77H542.86V156.81H532.64zM546.26 152.77H549.67V156.81H546.26zM580.33 152.77H583.74V156.81H580.33zM587.14 152.77H590.55V156.81H587.14zM607.58 152.77H610.99V156.81H607.58zM614.4 152.77H624.62V156.81H614.4zM648.46 152.77H662.09V156.81H648.46zM665.49 152.77H679.12V156.81H665.49zM682.53 152.77H692.75V156.81H682.53zM628.02 156.81H631.43V160.85H628.02zM682.53 156.81H696.15V160.85H682.53zM679.12 160.85H682.53V164.88H679.12zM120.44 164.88H123.85V168.92H120.44zM696.15 177H699.56V181.04H696.15zM713.19 181.04H716.59V185.08H713.19zM188.57 189.12H198.79V193.15H188.57zM713.19 189.12H716.59V193.15H713.19zM679.12 193.15H682.53V197.19H679.12zM689.34 193.15H692.75V197.19H689.34zM696.15 193.15H699.56V197.19H696.15zM662.09 197.19H685.93V201.23H662.09zM185.16 201.23H188.57V205.27H185.16zM655.27 201.23H662.09V205.27H655.27zM665.49 201.23H672.31V205.27H665.49zM675.71 201.23H682.53V205.27H675.71zM113.63 205.27H117.03V209.31H113.63zM181.76 205.27H185.16V209.31H181.76zM655.27 205.27H662.09V209.31H655.27zM675.71 205.27H682.53V209.31H675.71zM117.03 209.31H123.85V213.35H117.03zM127.25 209.31H144.29V213.35H127.25zM147.69 209.31H157.91V213.35H147.69zM161.32 209.31H174.95V213.35H161.32zM178.35 209.31H181.76V213.35H178.35zM655.27 209.31H662.09V213.35H655.27zM675.71 209.31H679.12V213.35H675.71zM682.53 209.31H685.93V213.35H682.53zM117.03 213.35H123.85V217.38H117.03zM127.25 213.35H144.29V217.38H127.25zM147.69 213.35H151.1V217.38H147.69zM154.51 213.35H157.91V217.38H154.51zM161.32 213.35H181.76V217.38H161.32zM655.27 213.35H662.09V217.38H655.27zM675.71 213.35H679.12V217.38H675.71zM682.53 213.35H685.93V217.38H682.53zM113.63 217.38H123.85V221.42H113.63zM127.25 217.38H144.29V221.42H127.25zM147.69 217.38H157.91V221.42H147.69zM161.32 217.38H178.35V221.42H161.32zM655.27 217.38H662.09V221.42H655.27zM675.71 217.38H679.12V221.42H675.71zM682.53 217.38H685.93V221.42H682.53zM113.63 221.42H123.85V225.46H113.63zM127.25 221.42H130.66V225.46H127.25zM134.07 221.42H144.29V225.46H134.07zM147.69 221.42H157.91V225.46H147.69zM164.73 221.42H168.13V225.46H164.73zM171.54 221.42H178.35V225.46H171.54zM655.27 221.42H662.09V225.46H655.27zM665.49 221.42H668.9V225.46H665.49zM675.71 221.42H679.12V225.46H675.71zM113.63 225.46H120.44V229.5H113.63zM127.25 225.46H130.66V229.5H127.25zM134.07 225.46H137.47V229.5H134.07zM140.88 225.46H144.29V229.5H140.88zM147.69 225.46H157.91V229.5H147.69zM164.73 225.46H168.13V229.5H164.73zM171.54 225.46H178.35V229.5H171.54zM655.27 225.46H662.09V229.5H655.27zM665.49 225.46H668.9V229.5H665.49zM675.71 225.46H679.12V229.5H675.71zM113.63 229.5H120.44V233.54H113.63zM127.25 229.5H130.66V233.54H127.25zM134.07 229.5H137.47V233.54H134.07zM140.88 229.5H144.29V233.54H140.88zM147.69 229.5H157.91V233.54H147.69zM164.73 229.5H168.13V233.54H164.73zM171.54 229.5H178.35V233.54H171.54zM655.27 229.5H662.09V233.54H655.27zM665.49 229.5H668.9V233.54H665.49zM117.03 233.54H151.1V237.58H117.03zM157.91 233.54H161.32V237.58H157.91zM164.73 233.54H178.35V237.58H164.73zM655.27 233.54H662.09V237.58H655.27zM665.49 233.54H668.9V237.58H665.49zM672.31 233.54H675.71V237.58H672.31zM658.68 237.58H662.09V241.62H658.68zM665.49 237.58H679.12V241.62H665.49zM662.09 241.62H665.49V245.65H662.09zM573.52 245.65H587.14V249.69H573.52zM662.09 245.65H665.49V249.69H662.09zM382.75 249.69H386.15V253.73H382.75zM389.56 249.69H396.37V253.73H389.56zM563.3 249.69H570.11V253.73H563.3zM382.75 253.73H386.15V257.77H382.75zM389.56 253.73H399.78V257.77H389.56zM563.3 253.73H566.7V257.77H563.3zM590.55 253.73H593.96V257.77H590.55zM389.56 257.77H399.78V261.81H389.56zM563.3 257.77H570.11V261.81H563.3zM590.55 257.77H593.96V261.81H590.55zM382.75 261.81H386.15V265.85H382.75zM389.56 261.81H399.78V265.85H389.56zM570.11 261.81H573.52V265.85H570.11zM576.92 261.81H580.33V265.85H576.92zM583.74 261.81H590.55V265.85H583.74zM382.75 265.85H389.56V269.88H382.75z"/>
<path fill="#9dff5a" d="M130.66 72H137.47V76.04H130.66zM202.2 72H205.6V76.04H202.2zM209.01 72H212.42V76.04H209.01zM495.16 72H498.57V76.04H495.16zM662.09 72H665.49V76.04H662.09zM675.71 72H685.93V76.04H675.71zM130.66 76.04H137.47V80.08H130.66zM202.2 76.04H205.6V80.08H202.2zM209.01 76.04H212.42V80.08H209.01zM495.16 76.04H498.57V80.08H495.16zM662.09 76.04H665.49V80.08H662.09zM675.71 76.04H685.93V80.08H675.71zM495.16 80.08H498.57V84.12H495.16zM662.09 80.08H665.49V84.12H662.09zM675.71 80.08H685.93V84.12H675.71zM495.16 84.12H498.57V88.15H495.16zM662.09 84.12H665.49V88.15H662.09zM675.71 84.12H685.93V88.15H675.71zM304.4 88.15H307.8V92.19H304.4zM495.16 88.15H498.57V92.19H495.16zM662.09 88.15H665.49V92.19H662.09zM668.9 88.15H672.31V92.19H668.9zM675.71 88.15H689.34V92.19H675.71zM304.4 92.19H307.8V96.23H304.4zM495.16 92.19H498.57V96.23H495.16zM662.09 92.19H665.49V96.23H662.09zM668.9 92.19H672.31V96.23H668.9zM675.71 92.19H689.34V96.23H675.71zM304.4 96.23H311.21V100.27H304.4zM495.16 96.23H498.57V100.27H495.16zM668.9 96.23H672.31V100.27H668.9zM675.71 96.23H689.34V100.27H675.71zM304.4 100.27H311.21V104.31H304.4zM495.16 100.27H498.57V104.31H495.16zM668.9 100.27H672.31V104.31H668.9zM675.71 100.27H689.34V104.31H675.71zM304.4 104.31H311.21V108.35H304.4zM495.16 104.31H498.57V108.35H495.16zM665.49 104.31H672.31V108.35H665.49zM675.71 104.31H685.93V108.35H675.71zM304.4 108.35H311.21V112.38H304.4zM495.16 108.35H498.57V112.38H495.16zM542.86 108.35H546.26V112.38H542.86zM553.08 108.35H556.48V112.38H553.08zM559.89 108.35H563.3V112.38H559.89zM566.7 108.35H570.11V112.38H566.7zM583.74 108.35H590.55V112.38H583.74zM607.58 108.35H610.99V112.38H607.58zM617.8 108.35H624.62V112.38H617.8zM641.65 108.35H645.05V112.38H641.65zM655.27 108.35H658.68V112.38H655.27zM668.9 108.35H672.31V112.38H668.9zM675.71 108.35H685.93V112.38H675.71zM304.4 112.38H311.21V116.42H304.4zM495.16 112.38H498.57V116.42H495.16zM532.64 112.38H536.04V116.42H532.64zM546.26 112.38H549.67V116.42H546.26zM570.11 112.38H573.52V116.42H570.11zM576.92 112.38H583.74V116.42H576.92zM593.96 112.38H597.36V116.42H593.96zM600.77 112.38H607.58V116.42H600.77zM614.4 112.38H617.8V116.42H614.4zM645.05 112.38H655.27V116.42H645.05zM658.68 112.38H662.09V116.42H658.68zM304.4 116.42H311.21V120.46H304.4zM495.16 116.42H498.57V120.46H495.16zM614.4 116.42H617.8V120.46H614.4zM154.51 120.46H168.13V124.5H154.51zM304.4 120.46H311.21V124.5H304.4zM495.16 120.46H498.57V124.5H495.16zM532.64 120.46H536.04V124.5H532.64zM614.4 120.46H617.8V124.5H614.4zM151.1 124.5H154.51V128.54H151.1zM304.4 124.5H311.21V128.54H304.4zM495.16 124.5H498.57V128.54H495.16zM532.64 124.5H536.04V128.54H532.64zM580.33 124.5H583.74V128.54H580.33zM614.4 124.5H617.8V128.54H614.4zM651.87 124.5H655.27V128.54H651.87zM123.85 128.54H127.25V132.58H123.85zM147.69 128.54H151.1V132.58H147.69zM171.54 128.54H174.95V132.58H171.54zM304.4 128.54H311.21V132.58H304.4zM495.16 128.54H498.57V132.58H495.16zM580.33 128.54H583.74V132.58H580.33zM614.4 128.54H617.8V132.58H614.4zM631.43 128.54H634.84V132.58H631.43zM651.87 128.54H655.27V132.58H651.87zM171.54 132.58H174.95V136.62H171.54zM304.4 132.58H311.21V136.62H304.4zM495.16 132.58H498.57V136.62H495.16zM536.04 132.58H539.45V136.62H536.04zM580.33 132.58H583.74V136.62H580.33zM614.4 132.58H617.8V136.62H614.4zM628.02 132.58H631.43V136.62H628.02zM641.65 132.58H648.46V136.62H641.65zM171.54 136.62H174.95V140.65H171.54zM304.4 136.62H311.21V140.65H304.4zM495.16 136.62H498.57V140.65H495.16zM536.04 136.62H539.45V140.65H536.04zM580.33 136.62H583.74V140.65H580.33zM614.4 136.62H617.8V140.65H614.4zM624.62 136.62H628.02V140.65H624.62zM648.46 136.62H651.87V140.65H648.46zM171.54 140.65H174.95V144.69H171.54zM304.4 140.65H307.8V144.69H304.4zM495.16 140.65H498.57V144.69H495.16zM536.04 140.65H539.45V144.69H536.04zM580.33 140.65H583.74V144.69H580.33zM614.4 140.65H617.8V144.69H614.4zM648.46 140.65H651.87V144.69H648.46zM655.27 140.65H658.68V144.69H655.27zM273.74 144.69H277.14V148.73H273.74zM495.16 144.69H498.57V148.73H495.16zM536.04 144.69H539.45V148.73H536.04zM614.4 144.69H617.8V148.73H614.4zM655.27 144.69H658.68V148.73H655.27zM130.66 148.73H134.07V152.77H130.66zM137.47 148.73H140.88V152.77H137.47zM171.54 148.73H174.95V152.77H171.54zM205.6 148.73H209.01V152.77H205.6zM226.04 148.73H232.86V152.77H226.04zM536.04 148.73H539.45V152.77H536.04zM614.4 148.73H617.8V152.77H614.4zM655.27 148.73H658.68V152.77H655.27zM181.76 152.77H188.57V156.81H181.76zM191.98 152.77H198.79V156.81H191.98zM232.86 152.77H236.26V156.81H232.86zM624.62 152.77H628.02V156.81H624.62zM645.05 152.77H648.46V156.81H645.05zM123.85 156.81H127.25V160.85H123.85zM498.57 156.81H501.98V160.85H498.57zM631.43 156.81H645.05V160.85H631.43zM123.85 160.85H127.25V164.88H123.85zM682.53 160.85H696.15V164.88H682.53zM679.12 164.88H682.53V168.92H679.12zM110.22 168.92H113.63V172.96H110.22zM106.81 172.96H110.22V177H106.81zM100 177H106.81V181.04H100zM696.15 181.04H699.56V185.08H696.15zM232.86 185.08H236.26V189.12H232.86zM713.19 185.08H716.59V189.12H713.19zM185.16 189.12H188.57V193.15H185.16zM679.12 189.12H682.53V193.15H679.12zM185.16 193.15H188.57V197.19H185.16zM682.53 193.15H689.34V197.19H682.53zM692.75 193.15H696.15V197.19H692.75zM185.16 197.19H188.57V201.23H185.16zM106.81 201.23H110.22V205.27H106.81zM181.76 201.23H185.16V205.27H181.76zM662.09 201.23H665.49V205.27H662.09zM672.31 201.23H675.71V205.27H672.31zM117.03 205.27H123.85V209.31H117.03zM130.66 205.27H144.29V209.31H130.66zM147.69 205.27H157.91V209.31H147.69zM161.32 205.27H174.95V209.31H161.32zM178.35 205.27H181.76V209.31H178.35zM662.09 205.27H675.71V209.31H662.09zM123.85 209.31H127.25V213.35H123.85zM144.29 209.31H147.69V213.35H144.29zM157.91 209.31H161.32V213.35H157.91zM174.95 209.31H178.35V213.35H174.95zM662.09 209.31H675.71V213.35H662.09zM123.85 213.35H127.25V217.38H123.85zM144.29 213.35H147.69V217.38H144.29zM157.91 213.35H161.32V217.38H157.91zM662.09 213.35H675.71V217.38H662.09zM123.85 217.38H127.25V221.42H123.85zM144.29 217.38H147.69V221.42H144.29zM157.91 217.38H161.32V221.42H157.91zM662.09 217.38H675.71V221.42H662.09zM123.85 221.42H127.25V225.46H123.85zM130.66 221.42H134.07V225.46H130.66zM144.29 221.42H147.69V225.46H144.29zM157.91 221.42H161.32V225.46H157.91zM168.13 221.42H171.54V225.46H168.13zM662.09 221.42H665.49V225.46H662.09zM668.9 221.42H675.71V225.46H668.9zM120.44 225.46H127.25V229.5H120.44zM130.66 225.46H134.07V229.5H130.66zM137.47 225.46H140.88V229.5H137.47zM144.29 225.46H147.69V229.5H144.29zM157.91 225.46H161.32V229.5H157.91zM168.13 225.46H171.54V229.5H168.13zM662.09 225.46H665.49V229.5H662.09zM668.9 225.46H675.71V229.5H668.9zM120.44 229.5H127.25V233.54H120.44zM130.66 229.5H134.07V233.54H130.66zM137.47 229.5H140.88V233.54H137.47zM144.29 229.5H147.69V233.54H144.29zM157.91 229.5H161.32V233.54H157.91zM168.13 229.5H171.54V233.54H168.13zM662.09 229.5H665.49V233.54H662.09zM668.9 229.5H679.12V233.54H668.9zM662.09 233.54H665.49V237.58H662.09zM668.9 233.54H672.31V237.58H668.9zM675.71 233.54H679.12V237.58H675.71zM662.09 237.58H665.49V241.62H662.09zM386.15 249.69H389.56V253.73H386.15zM570.11 249.69H573.52V253.73H570.11zM576.92 249.69H580.33V253.73H576.92zM583.74 249.69H590.55V253.73H583.74zM386.15 253.73H389.56V257.77H386.15zM566.7 253.73H570.11V257.77H566.7zM587.14 253.73H590.55V257.77H587.14zM382.75 257.77H389.56V261.81H382.75zM570.11 257.77H573.52V261.81H570.11zM576.92 257.77H580.33V261.81H576.92zM583.74 257.77H590.55V261.81H583.74zM386.15 261.81H389.56V265.85H386.15zM573.52 261.81H576.92V265.85H573.52zM580.33 261.81H583.74V265.85H580.33z"/>
<path fill="#a4ff53" d="M137.47 72H147.69V76.04H137.47zM498.57 72H501.98V76.04H498.57zM655.27 72H658.68V76.04H655.27zM668.9 72H672.31V76.04H668.9zM137.47 76.04H147.69V80.08H137.47zM498.57 76.04H501.98V80.08H498.57zM655.27 76.04H658.68V80.08H655.27zM668.9 76.04H672.31V80.08H668.9zM498.57 80.08H501.98V84.12H498.57zM655.27 80.08H658.68V84.12H655.27zM668.9 80.08H672.31V84.12H668.9zM498.57 84.12H501.98V88.15H498.57zM655.27 84.12H658.68V88.15H655.27zM668.9 84.12H672.31V88.15H668.9zM307.8 88.15H311.21V92.19H307.8zM498.57 88.15H501.98V92.19H498.57zM655.27 88.15H658.68V92.19H655.27zM307.8 92.19H311.21V96.23H307.8zM498.57 92.19H501.98V96.23H498.57zM655.27 92.19H658.68V96.23H655.27zM498.57 96.23H501.98V100.27H498.57zM655.27 96.23H658.68V100.27H655.27zM498.57 100.27H501.98V104.31H498.57zM655.27 100.27H658.68V104.31H655.27zM498.57 104.31H501.98V108.35H498.57zM553.08 104.31H556.48V108.35H553.08zM559.89 104.31H563.3V108.35H559.89zM621.21 104.31H624.62V108.35H621.21zM655.27 104.31H662.09V108.35H655.27zM498.57 108.35H501.98V112.38H498.57zM532.64 108.35H542.86V112.38H532.64zM546.26 108.35H553.08V112.38H546.26zM556.48 108.35H559.89V112.38H556.48zM563.3 108.35H566.7V112.38H563.3zM570.11 108.35H583.74V112.38H570.11zM590.55 108.35H607.58V112.38H590.55zM610.99 108.35H614.4V112.38H610.99zM624.62 108.35H641.65V112.38H624.62zM645.05 108.35H655.27V112.38H645.05zM658.68 108.35H662.09V112.38H658.68zM498.57 112.38H501.98V116.42H498.57zM498.57 116.42H501.98V120.46H498.57zM498.57 120.46H501.98V124.5H498.57zM168.13 124.5H171.54V128.54H168.13zM498.57 124.5H501.98V128.54H498.57zM127.25 128.54H130.66V132.58H127.25zM151.1 128.54H154.51V132.58H151.1zM168.13 128.54H171.54V132.58H168.13zM498.57 128.54H501.98V132.58H498.57zM123.85 132.58H130.66V136.62H123.85zM151.1 132.58H154.51V136.62H151.1zM168.13 132.58H171.54V136.62H168.13zM498.57 132.58H501.98V136.62H498.57zM631.43 132.58H641.65V136.62H631.43zM123.85 136.62H130.66V140.65H123.85zM151.1 136.62H154.51V140.65H151.1zM168.13 136.62H171.54V140.65H168.13zM498.57 136.62H501.98V140.65H498.57zM645.05 136.62H648.46V140.65H645.05zM123.85 140.65H130.66V144.69H123.85zM151.1 140.65H154.51V144.69H151.1zM168.13 140.65H171.54V144.69H168.13zM498.57 140.65H501.98V144.69H498.57zM624.62 140.65H628.02V144.69H624.62zM645.05 140.65H648.46V144.69H645.05zM123.85 144.69H130.66V148.73H123.85zM151.1 144.69H154.51V148.73H151.1zM168.13 144.69H171.54V148.73H168.13zM498.57 144.69H501.98V148.73H498.57zM624.62 144.69H628.02V148.73H624.62zM645.05 144.69H648.46V148.73H645.05zM123.85 148.73H127.25V152.77H123.85zM134.07 148.73H137.47V152.77H134.07zM140.88 148.73H151.1V152.77H140.88zM168.13 148.73H171.54V152.77H168.13zM209.01 148.73H226.04V152.77H209.01zM246.48 148.73H249.89V152.77H246.48zM498.57 148.73H501.98V152.77H498.57zM624.62 148.73H628.02V152.77H624.62zM645.05 148.73H648.46V152.77H645.05zM123.85 152.77H127.25V156.81H123.85zM130.66 152.77H134.07V156.81H130.66zM168.13 152.77H181.76V156.81H168.13zM188.57 152.77H191.98V156.81H188.57zM198.79 152.77H202.2V156.81H198.79zM236.26 152.77H243.08V156.81H236.26zM498.57 152.77H501.98V156.81H498.57zM195.38 156.81H198.79V160.85H195.38zM123.85 164.88H127.25V168.92H123.85zM113.63 168.92H120.44V172.96H113.63zM679.12 168.92H682.53V172.96H679.12zM110.22 172.96H113.63V177H110.22zM679.12 172.96H682.53V177H679.12zM106.81 177H110.22V181.04H106.81zM679.12 177H682.53V181.04H679.12zM679.12 181.04H682.53V185.08H679.12zM120.44 185.08H123.85V189.12H120.44zM209.01 185.08H222.64V189.12H209.01zM226.04 185.08H232.86V189.12H226.04zM236.26 185.08H243.08V189.12H236.26zM679.12 185.08H682.53V189.12H679.12zM696.15 185.08H699.56V189.12H696.15zM181.76 189.12H185.16V193.15H181.76zM696.15 189.12H699.56V193.15H696.15zM181.76 193.15H185.16V197.19H181.76zM100 197.19H106.81V201.23H100zM181.76 197.19H185.16V201.23H181.76zM110.22 201.23H113.63V205.27H110.22zM123.85 205.27H130.66V209.31H123.85zM144.29 205.27H147.69V209.31H144.29zM157.91 205.27H161.32V209.31H157.91zM174.95 205.27H178.35V209.31H174.95zM573.52 249.69H576.92V253.73H573.52zM580.33 249.69H583.74V253.73H580.33zM570.11 253.73H587.14V257.77H570.11zM573.52 257.77H576.92V261.81H573.52zM580.33 257.77H583.74V261.81H580.33z"/>
<path fill="#aaff4d" d="M205.6 72H209.01V76.04H205.6zM536.04 72H542.86V76.04H536.04zM553.08 72H556.48V76.04H553.08zM559.89 72H566.7V76.04H559.89zM570.11 72H580.33V76.04H570.11zM590.55 72H593.96V76.04H590.55zM610.99 72H614.4V76.04H610.99zM617.8 72H628.02V76.04H617.8zM631.43 72H641.65V76.04H631.43zM645.05 72H655.27V76.04H645.05zM658.68 72H662.09V76.04H658.68zM205.6 76.04H209.01V80.08H205.6zM536.04 76.04H542.86V80.08H536.04zM553.08 76.04H556.48V80.08H553.08zM559.89 76.04H566.7V80.08H559.89zM570.11 76.04H580.33V80.08H570.11zM590.55 76.04H593.96V80.08H590.55zM610.99 76.04H614.4V80.08H610.99zM617.8 76.04H628.02V80.08H617.8zM631.43 76.04H641.65V80.08H631.43zM645.05 76.04H655.27V80.08H645.05zM658.68 76.04H662.09V80.08H658.68zM658.68 80.08H662.09V84.12H658.68zM658.68 84.12H662.09V88.15H658.68zM658.68 88.15H662.09V92.19H658.68zM658.68 92.19H662.09V96.23H658.68zM617.8 96.23H624.62V100.27H617.8zM658.68 96.23H662.09V100.27H658.68zM542.86 100.27H546.26V104.31H542.86zM553.08 100.27H556.48V104.31H553.08zM559.89 100.27H566.7V104.31H559.89zM573.52 100.27H576.92V104.31H573.52zM583.74 100.27H593.96V104.31H583.74zM607.58 100.27H614.4V104.31H607.58zM617.8 100.27H628.02V104.31H617.8zM631.43 100.27H648.46V104.31H631.43zM651.87 100.27H655.27V104.31H651.87zM658.68 100.27H662.09V104.31H658.68zM536.04 104.31H546.26V108.35H536.04zM549.67 104.31H553.08V108.35H549.67zM556.48 104.31H559.89V108.35H556.48zM563.3 104.31H570.11V108.35H563.3zM573.52 104.31H593.96V108.35H573.52zM597.36 104.31H604.18V108.35H597.36zM607.58 104.31H614.4V108.35H607.58zM617.8 104.31H621.21V108.35H617.8zM624.62 104.31H655.27V108.35H624.62zM614.4 108.35H617.8V112.38H614.4zM154.51 124.5H168.13V128.54H154.51zM154.51 128.54H157.91V132.58H154.51zM154.51 132.58H157.91V136.62H154.51zM154.51 136.62H157.91V140.65H154.51zM628.02 136.62H631.43V140.65H628.02zM154.51 140.65H157.91V144.69H154.51zM154.51 144.69H157.91V148.73H154.51zM127.25 148.73H130.66V152.77H127.25zM151.1 148.73H154.51V152.77H151.1zM161.32 148.73H164.73V152.77H161.32zM127.25 152.77H130.66V156.81H127.25zM161.32 152.77H164.73V156.81H161.32zM202.2 152.77H205.6V156.81H202.2zM229.45 152.77H232.86V156.81H229.45zM243.08 152.77H246.48V156.81H243.08zM628.02 152.77H631.43V156.81H628.02zM127.25 156.81H130.66V160.85H127.25zM161.32 156.81H195.38V160.85H161.32zM198.79 156.81H202.2V160.85H198.79zM232.86 156.81H243.08V160.85H232.86zM127.25 160.85H130.66V164.88H127.25zM161.32 160.85H188.57V164.88H161.32zM195.38 160.85H198.79V164.88H195.38zM232.86 160.85H239.67V164.88H232.86zM161.32 164.88H164.73V168.92H161.32zM168.13 164.88H174.95V168.92H168.13zM178.35 164.88H181.76V168.92H178.35zM682.53 164.88H696.15V168.92H682.53zM120.44 168.92H123.85V172.96H120.44zM692.75 168.92H696.15V172.96H692.75zM117.03 172.96H123.85V177H117.03zM692.75 172.96H696.15V177H692.75zM110.22 177H113.63V181.04H110.22zM117.03 177H123.85V181.04H117.03zM692.75 177H696.15V181.04H692.75zM716.59 177H720V181.04H716.59zM110.22 181.04H123.85V185.08H110.22zM110.22 185.08H120.44V189.12H110.22zM161.32 185.08H164.73V189.12H161.32zM168.13 185.08H174.95V189.12H168.13zM178.35 185.08H185.16V189.12H178.35zM198.79 185.08H209.01V189.12H198.79zM222.64 185.08H226.04V189.12H222.64zM243.08 185.08H246.48V189.12H243.08zM178.35 189.12H181.76V193.15H178.35zM682.53 189.12H685.93V193.15H682.53zM689.34 189.12H696.15V193.15H689.34zM106.81 197.19H113.63V201.23H106.81zM113.63 201.23H123.85V205.27H113.63zM134.07 201.23H144.29V205.27H134.07zM147.69 201.23H154.51V205.27H147.69zM161.32 201.23H164.73V205.27H161.32zM178.35 201.23H181.76V205.27H178.35z"/>
<path fill="#b1ff46" d="M532.64 72H536.04V76.04H532.64zM542.86 72H546.26V76.04H542.86zM549.67 72H553.08V76.04H549.67zM556.48 72H559.89V76.04H556.48zM566.7 72H570.11V76.04H566.7zM580.33 72H590.55V76.04H580.33zM593.96 72H610.99V76.04H593.96zM614.4 72H617.8V76.04H614.4zM628.02 72H631.43V76.04H628.02zM641.65 72H645.05V76.04H641.65zM532.64 76.04H536.04V80.08H532.64zM542.86 76.04H546.26V80.08H542.86zM549.67 76.04H553.08V80.08H549.67zM556.48 76.04H559.89V80.08H556.48zM566.7 76.04H570.11V80.08H566.7zM580.33 76.04H590.55V80.08H580.33zM593.96 76.04H610.99V80.08H593.96zM614.4 76.04H617.8V80.08H614.4zM628.02 76.04H631.43V80.08H628.02zM641.65 76.04H645.05V80.08H641.65zM610.99 80.08H614.4V84.12H610.99zM617.8 80.08H628.02V84.12H617.8zM631.43 80.08H641.65V84.12H631.43zM645.05 80.08H655.27V84.12H645.05zM610.99 84.12H614.4V88.15H610.99zM617.8 84.12H628.02V88.15H617.8zM631.43 84.12H641.65V88.15H631.43zM645.05 84.12H655.27V88.15H645.05zM610.99 88.15H614.4V92.19H610.99zM617.8 88.15H628.02V92.19H617.8zM631.43 88.15H641.65V92.19H631.43zM645.05 88.15H648.46V92.19H645.05zM651.87 88.15H655.27V92.19H651.87zM610.99 92.19H614.4V96.23H610.99zM617.8 92.19H628.02V96.23H617.8zM631.43 92.19H641.65V96.23H631.43zM645.05 92.19H648.46V96.23H645.05zM651.87 92.19H655.27V96.23H651.87zM536.04 96.23H546.26V100.27H536.04zM553.08 96.23H556.48V100.27H553.08zM559.89 96.23H566.7V100.27H559.89zM573.52 96.23H580.33V100.27H573.52zM583.74 96.23H587.14V100.27H583.74zM590.55 96.23H593.96V100.27H590.55zM600.77 96.23H604.18V100.27H600.77zM607.58 96.23H614.4V100.27H607.58zM624.62 96.23H655.27V100.27H624.62zM532.64 100.27H542.86V104.31H532.64zM546.26 100.27H553.08V104.31H546.26zM556.48 100.27H559.89V104.31H556.48zM566.7 100.27H573.52V104.31H566.7zM576.92 100.27H583.74V104.31H576.92zM593.96 100.27H607.58V104.31H593.96zM614.4 100.27H617.8V104.31H614.4zM628.02 100.27H631.43V104.31H628.02zM648.46 100.27H651.87V104.31H648.46zM532.64 104.31H536.04V108.35H532.64zM546.26 104.31H549.67V108.35H546.26zM570.11 104.31H573.52V108.35H570.11zM593.96 104.31H597.36V108.35H593.96zM604.18 104.31H607.58V108.35H604.18zM614.4 104.31H617.8V108.35H614.4zM157.91 128.54H168.13V132.58H157.91zM157.91 132.58H168.13V136.62H157.91zM157.91 136.62H168.13V140.65H157.91zM641.65 136.62H645.05V140.65H641.65zM157.91 140.65H168.13V144.69H157.91zM157.91 144.69H168.13V148.73H157.91zM154.51 148.73H161.32V152.77H154.51zM164.73 148.73H168.13V152.77H164.73zM249.89 148.73H253.3V152.77H249.89zM134.07 152.77H137.47V156.81H134.07zM157.91 152.77H161.32V156.81H157.91zM164.73 152.77H168.13V156.81H164.73zM205.6 152.77H209.01V156.81H205.6zM246.48 152.77H249.89V156.81H246.48zM638.24 152.77H645.05V156.81H638.24zM130.66 156.81H134.07V160.85H130.66zM202.2 156.81H205.6V160.85H202.2zM243.08 156.81H246.48V160.85H243.08zM130.66 160.85H134.07V164.88H130.66zM188.57 160.85H195.38V164.88H188.57zM198.79 160.85H205.6V164.88H198.79zM239.67 160.85H243.08V164.88H239.67zM127.25 164.88H134.07V168.92H127.25zM164.73 164.88H168.13V168.92H164.73zM174.95 164.88H178.35V168.92H174.95zM181.76 164.88H188.57V168.92H181.76zM232.86 164.88H239.67V168.92H232.86zM123.85 168.92H127.25V172.96H123.85zM168.13 168.92H174.95V172.96H168.13zM682.53 168.92H692.75V172.96H682.53zM113.63 172.96H117.03V177H113.63zM123.85 172.96H127.25V177H123.85zM168.13 172.96H171.54V177H168.13zM682.53 172.96H685.93V177H682.53zM689.34 172.96H692.75V177H689.34zM113.63 177H117.03V181.04H113.63zM123.85 177H127.25V181.04H123.85zM168.13 177H171.54V181.04H168.13zM682.53 177H685.93V181.04H682.53zM689.34 177H692.75V181.04H689.34zM106.81 181.04H110.22V185.08H106.81zM123.85 181.04H130.66V185.08H123.85zM168.13 181.04H174.95V185.08H168.13zM178.35 181.04H181.76V185.08H178.35zM682.53 181.04H685.93V185.08H682.53zM689.34 181.04H696.15V185.08H689.34zM123.85 185.08H134.07V189.12H123.85zM164.73 185.08H168.13V189.12H164.73zM174.95 185.08H178.35V189.12H174.95zM185.16 185.08H198.79V189.12H185.16zM246.48 185.08H249.89V189.12H246.48zM682.53 185.08H696.15V189.12H682.53zM110.22 189.12H123.85V193.15H110.22zM161.32 189.12H174.95V193.15H161.32zM685.93 189.12H689.34V193.15H685.93zM716.59 189.12H720V193.15H716.59zM100 193.15H123.85V197.19H100zM147.69 193.15H151.1V197.19H147.69zM178.35 193.15H181.76V197.19H178.35zM113.63 197.19H123.85V201.23H113.63zM137.47 197.19H144.29V201.23H137.47zM147.69 197.19H154.51V201.23H147.69zM161.32 197.19H164.73V201.23H161.32zM178.35 197.19H181.76V201.23H178.35zM123.85 201.23H134.07V205.27H123.85zM154.51 201.23H161.32V205.27H154.51zM164.73 201.23H178.35V205.27H164.73z"/>
<path fill="#baff3c" d="M546.26 72H549.67V76.04H546.26zM546.26 76.04H549.67V80.08H546.26zM573.52 80.08H576.92V84.12H573.52zM607.58 80.08H610.99V84.12H607.58zM614.4 80.08H617.8V84.12H614.4zM628.02 80.08H631.43V84.12H628.02zM641.65 80.08H645.05V84.12H641.65zM573.52 84.12H576.92V88.15H573.52zM607.58 84.12H610.99V88.15H607.58zM614.4 84.12H617.8V88.15H614.4zM628.02 84.12H631.43V88.15H628.02zM641.65 84.12H645.05V88.15H641.65zM607.58 88.15H610.99V92.19H607.58zM614.4 88.15H617.8V92.19H614.4zM628.02 88.15H631.43V92.19H628.02zM641.65 88.15H645.05V92.19H641.65zM648.46 88.15H651.87V92.19H648.46zM607.58 92.19H610.99V96.23H607.58zM614.4 92.19H617.8V96.23H614.4zM628.02 92.19H631.43V96.23H628.02zM641.65 92.19H645.05V96.23H641.65zM648.46 92.19H651.87V96.23H648.46zM532.64 96.23H536.04V100.27H532.64zM546.26 96.23H553.08V100.27H546.26zM556.48 96.23H559.89V100.27H556.48zM566.7 96.23H573.52V100.27H566.7zM580.33 96.23H583.74V100.27H580.33zM587.14 96.23H590.55V100.27H587.14zM593.96 96.23H600.77V100.27H593.96zM604.18 96.23H607.58V100.27H604.18zM614.4 96.23H617.8V100.27H614.4zM631.43 136.62H641.65V140.65H631.43zM628.02 140.65H631.43V144.69H628.02zM641.65 140.65H645.05V144.69H641.65zM628.02 144.69H631.43V148.73H628.02zM641.65 144.69H645.05V148.73H641.65zM628.02 148.73H631.43V152.77H628.02zM641.65 148.73H645.05V152.77H641.65zM137.47 152.77H144.29V156.81H137.47zM147.69 152.77H157.91V156.81H147.69zM209.01 152.77H212.42V156.81H209.01zM226.04 152.77H229.45V156.81H226.04zM631.43 152.77H638.24V156.81H631.43zM157.91 156.81H161.32V160.85H157.91zM205.6 156.81H209.01V160.85H205.6zM229.45 156.81H232.86V160.85H229.45zM246.48 156.81H249.89V160.85H246.48zM157.91 160.85H161.32V164.88H157.91zM229.45 160.85H232.86V164.88H229.45zM243.08 160.85H246.48V164.88H243.08zM157.91 164.88H161.32V168.92H157.91zM188.57 164.88H202.2V168.92H188.57zM239.67 164.88H243.08V168.92H239.67zM127.25 168.92H134.07V172.96H127.25zM161.32 168.92H168.13V172.96H161.32zM174.95 168.92H181.76V172.96H174.95zM127.25 172.96H130.66V177H127.25zM171.54 172.96H174.95V177H171.54zM178.35 172.96H181.76V177H178.35zM685.93 172.96H689.34V177H685.93zM127.25 177H130.66V181.04H127.25zM164.73 177H168.13V181.04H164.73zM171.54 177H174.95V181.04H171.54zM178.35 177H181.76V181.04H178.35zM685.93 177H689.34V181.04H685.93zM103.41 181.04H106.81V185.08H103.41zM161.32 181.04H168.13V185.08H161.32zM174.95 181.04H178.35V185.08H174.95zM181.76 181.04H185.16V185.08H181.76zM232.86 181.04H236.26V185.08H232.86zM685.93 181.04H689.34V185.08H685.93zM106.81 185.08H110.22V189.12H106.81zM157.91 185.08H161.32V189.12H157.91zM103.41 189.12H110.22V193.15H103.41zM123.85 189.12H144.29V193.15H123.85zM147.69 189.12H161.32V193.15H147.69zM174.95 189.12H178.35V193.15H174.95zM123.85 193.15H144.29V197.19H123.85zM151.1 193.15H178.35V197.19H151.1zM123.85 197.19H137.47V201.23H123.85zM154.51 197.19H161.32V201.23H154.51zM164.73 197.19H178.35V201.23H164.73zM144.29 201.23H147.69V205.27H144.29z"/>
<path fill="#c1ff36" d="M532.64 80.08H546.26V84.12H532.64zM553.08 80.08H573.52V84.12H553.08zM576.92 80.08H587.14V84.12H576.92zM590.55 80.08H593.96V84.12H590.55zM597.36 80.08H607.58V84.12H597.36zM532.64 84.12H546.26V88.15H532.64zM553.08 84.12H573.52V88.15H553.08zM576.92 84.12H587.14V88.15H576.92zM590.55 84.12H593.96V88.15H590.55zM597.36 84.12H607.58V88.15H597.36zM536.04 88.15H546.26V92.19H536.04zM553.08 88.15H556.48V92.19H553.08zM559.89 88.15H587.14V92.19H559.89zM590.55 88.15H593.96V92.19H590.55zM597.36 88.15H607.58V92.19H597.36zM536.04 92.19H546.26V96.23H536.04zM553.08 92.19H556.48V96.23H553.08zM559.89 92.19H587.14V96.23H559.89zM590.55 92.19H593.96V96.23H590.55zM597.36 92.19H607.58V96.23H597.36zM253.3 148.73H263.52V152.77H253.3zM638.24 148.73H641.65V152.77H638.24zM144.29 152.77H147.69V156.81H144.29zM212.42 152.77H226.04V156.81H212.42zM134.07 156.81H140.88V160.85H134.07zM147.69 156.81H157.91V160.85H147.69zM134.07 160.85H137.47V164.88H134.07zM154.51 160.85H157.91V164.88H154.51zM205.6 160.85H209.01V164.88H205.6zM246.48 160.85H249.89V164.88H246.48zM505.38 160.85H529.23V164.88H505.38zM202.2 164.88H205.6V168.92H202.2zM229.45 164.88H232.86V168.92H229.45zM243.08 164.88H246.48V168.92H243.08zM181.76 168.92H185.16V172.96H181.76zM232.86 168.92H236.26V172.96H232.86zM130.66 172.96H134.07V177H130.66zM161.32 172.96H168.13V177H161.32zM174.95 172.96H178.35V177H174.95zM130.66 177H134.07V181.04H130.66zM161.32 177H164.73V181.04H161.32zM174.95 177H178.35V181.04H174.95zM100 181.04H103.41V185.08H100zM130.66 181.04H134.07V185.08H130.66zM229.45 181.04H232.86V185.08H229.45zM236.26 181.04H239.67V185.08H236.26zM716.59 181.04H720V185.08H716.59zM103.41 185.08H106.81V189.12H103.41zM134.07 185.08H137.47V189.12H134.07zM716.59 185.08H720V189.12H716.59zM100 189.12H103.41V193.15H100zM144.29 193.15H147.69V197.19H144.29zM144.29 197.19H147.69V201.23H144.29z"/>
<path fill="#c7ff30" d="M501.98 72H505.38V76.04H501.98zM501.98 76.04H505.38V80.08H501.98zM501.98 80.08H505.38V84.12H501.98zM546.26 80.08H553.08V84.12H546.26zM587.14 80.08H590.55V84.12H587.14zM593.96 80.08H597.36V84.12H593.96zM501.98 84.12H505.38V88.15H501.98zM546.26 84.12H553.08V88.15H546.26zM587.14 84.12H590.55V88.15H587.14zM593.96 84.12H597.36V88.15H593.96zM501.98 88.15H505.38V92.19H501.98zM532.64 88.15H536.04V92.19H532.64zM546.26 88.15H553.08V92.19H546.26zM556.48 88.15H559.89V92.19H556.48zM587.14 88.15H590.55V92.19H587.14zM593.96 88.15H597.36V92.19H593.96zM501.98 92.19H505.38V96.23H501.98zM532.64 92.19H536.04V96.23H532.64zM546.26 92.19H553.08V96.23H546.26zM556.48 92.19H559.89V96.23H556.48zM587.14 92.19H590.55V96.23H587.14zM593.96 92.19H597.36V96.23H593.96zM501.98 96.23H505.38V100.27H501.98zM501.98 100.27H505.38V104.31H501.98zM501.98 104.31H505.38V108.35H501.98zM501.98 108.35H505.38V112.38H501.98zM501.98 112.38H505.38V116.42H501.98zM501.98 116.42H505.38V120.46H501.98zM501.98 120.46H505.38V124.5H501.98zM501.98 124.5H505.38V128.54H501.98zM501.98 128.54H505.38V132.58H501.98zM501.98 132.58H505.38V136.62H501.98zM501.98 136.62H505.38V140.65H501.98zM501.98 140.65H505.38V144.69H501.98zM631.43 140.65H641.65V144.69H631.43zM501.98 144.69H505.38V148.73H501.98zM631.43 144.69H634.84V148.73H631.43zM638.24 144.69H641.65V148.73H638.24zM263.52 148.73H277.14V152.77H263.52zM501.98 148.73H505.38V152.77H501.98zM631.43 148.73H638.24V152.77H631.43zM249.89 152.77H253.3V156.81H249.89zM501.98 152.77H505.38V156.81H501.98zM140.88 156.81H144.29V160.85H140.88zM209.01 156.81H215.82V160.85H209.01zM226.04 156.81H229.45V160.85H226.04zM249.89 156.81H253.3V160.85H249.89zM501.98 156.81H505.38V160.85H501.98zM529.23 156.81H532.64V160.85H529.23zM137.47 160.85H144.29V164.88H137.47zM147.69 160.85H154.51V164.88H147.69zM209.01 160.85H215.82V164.88H209.01zM226.04 160.85H229.45V164.88H226.04zM529.23 160.85H532.64V164.88H529.23zM134.07 164.88H140.88V168.92H134.07zM147.69 164.88H157.91V168.92H147.69zM205.6 164.88H209.01V168.92H205.6zM226.04 164.88H229.45V168.92H226.04zM246.48 164.88H249.89V168.92H246.48zM157.91 168.92H161.32V172.96H157.91zM236.26 168.92H239.67V172.96H236.26zM181.76 172.96H185.16V177H181.76zM232.86 172.96H236.26V177H232.86zM181.76 177H185.16V181.04H181.76zM232.86 177H236.26V181.04H232.86zM157.91 181.04H161.32V185.08H157.91zM239.67 181.04H243.08V185.08H239.67zM100 185.08H103.41V189.12H100zM154.51 185.08H157.91V189.12H154.51zM144.29 189.12H147.69V193.15H144.29z"/>
<path fill="#ceff29" d="M634.84 144.69H638.24V148.73H634.84zM144.29 156.81H147.69V160.85H144.29zM215.82 156.81H226.04V160.85H215.82zM144.29 160.85H147.69V164.88H144.29zM215.82 160.85H226.04V164.88H215.82zM249.89 160.85H253.3V164.88H249.89zM140.88 164.88H144.29V168.92H140.88zM209.01 164.88H226.04V168.92H209.01zM249.89 164.88H253.3V168.92H249.89zM134.07 168.92H137.47V172.96H134.07zM185.16 168.92H188.57V172.96H185.16zM195.38 168.92H198.79V172.96H195.38zM202.2 168.92H205.6V172.96H202.2zM229.45 168.92H232.86V172.96H229.45zM239.67 168.92H243.08V172.96H239.67zM157.91 172.96H161.32V177H157.91zM229.45 172.96H232.86V177H229.45zM236.26 172.96H239.67V177H236.26zM157.91 177H161.32V181.04H157.91zM229.45 177H232.86V181.04H229.45zM236.26 177H239.67V181.04H236.26zM134.07 181.04H137.47V185.08H134.07zM185.16 181.04H188.57V185.08H185.16zM198.79 181.04H205.6V185.08H198.79zM243.08 181.04H246.48V185.08H243.08zM249.89 185.08H277.14V189.12H249.89z"/>
<path fill="#d4ff23" d="M253.3 152.77H263.52V156.81H253.3zM253.3 156.81H256.7V160.85H253.3zM260.11 156.81H263.52V160.85H260.11zM253.3 160.85H256.7V164.88H253.3zM260.11 160.85H263.52V164.88H260.11zM144.29 164.88H147.69V168.92H144.29zM253.3 164.88H256.7V168.92H253.3zM260.11 164.88H263.52V168.92H260.11zM154.51 168.92H157.91V172.96H154.51zM188.57 168.92H195.38V172.96H188.57zM198.79 168.92H202.2V172.96H198.79zM243.08 168.92H246.48V172.96H243.08zM134.07 172.96H137.47V177H134.07zM185.16 172.96H188.57V177H185.16zM239.67 172.96H243.08V177H239.67zM134.07 177H137.47V181.04H134.07zM185.16 177H188.57V181.04H185.16zM239.67 177H243.08V181.04H239.67zM154.51 181.04H157.91V185.08H154.51zM188.57 181.04H198.79V185.08H188.57zM246.48 181.04H249.89V185.08H246.48zM137.47 185.08H154.51V189.12H137.47z"/>
<path fill="#dbff1c" d="M263.52 152.77H277.14V156.81H263.52zM256.7 156.81H260.11V160.85H256.7zM263.52 156.81H277.14V160.85H263.52zM505.38 156.81H529.23V160.85H505.38zM256.7 160.85H260.11V164.88H256.7zM263.52 160.85H277.14V164.88H263.52zM256.7 164.88H260.11V168.92H256.7zM263.52 164.88H277.14V168.92H263.52zM246.48 168.92H249.89V172.96H246.48zM154.51 172.96H157.91V177H154.51zM195.38 172.96H205.6V177H195.38zM154.51 177H157.91V181.04H154.51zM198.79 177H205.6V181.04H198.79zM243.08 177H246.48V181.04H243.08z"/>
<path fill="#e4ff13" d="M188.57 172.96H195.38V177H188.57zM243.08 172.96H249.89V177H243.08zM188.57 177H198.79V181.04H188.57zM246.48 177H249.89V181.04H246.48z"/>
<path fill="#ebff0c" d="M505.38 152.77H508.79V156.81H505.38zM519.01 152.77H529.23V156.81H519.01zM137.47 168.92H154.51V172.96H137.47zM219.23 168.92H229.45V172.96H219.23zM219.23 181.04H229.45V185.08H219.23z"/>
<path fill="#f1fc06" d="M529.23 104.31H532.64V108.35H529.23zM529.23 108.35H532.64V112.38H529.23zM529.23 112.38H532.64V116.42H529.23zM529.23 116.42H532.64V120.46H529.23zM529.23 120.46H532.64V124.5H529.23zM529.23 124.5H532.64V128.54H529.23zM529.23 128.54H532.64V132.58H529.23zM512.2 132.58H532.64V136.62H512.2zM512.2 136.62H532.64V140.65H512.2zM519.01 140.65H532.64V144.69H519.01zM519.01 144.69H532.64V148.73H519.01zM519.01 148.73H532.64V152.77H519.01zM529.23 152.77H532.64V156.81H529.23zM205.6 168.92H209.01V172.96H205.6zM215.82 168.92H219.23V172.96H215.82zM273.74 168.92H277.14V172.96H273.74zM273.74 172.96H277.14V177H273.74zM273.74 177H277.14V181.04H273.74z"/>
<path fill="#f8f500" d="M515.6 124.5H529.23V128.54H515.6zM515.6 128.54H529.23V132.58H515.6zM249.89 181.04H277.14V185.08H249.89z"/>
<path fill="#feed00" d="M505.38 72H508.79V76.04H505.38zM505.38 76.04H508.79V80.08H505.38zM219.23 172.96H229.45V177H219.23zM219.23 177H229.45V181.04H219.23z"/>
<path fill="#ffe600" d="M515.6 112.38H529.23V116.42H515.6zM515.6 116.42H529.23V120.46H515.6zM515.6 120.46H529.23V124.5H515.6zM515.6 140.65H519.01V144.69H515.6zM137.47 172.96H144.29V177H137.47zM205.6 172.96H209.01V177H205.6zM137.47 177H144.29V181.04H137.47zM205.6 177H209.01V181.04H205.6zM137.47 181.04H144.29V185.08H137.47zM205.6 181.04H209.01V185.08H205.6z"/>
<path fill="#ffdb00" d="M508.79 152.77H519.01V156.81H508.79zM249.89 168.92H253.3V172.96H249.89zM144.29 172.96H154.51V177H144.29zM215.82 172.96H219.23V177H215.82zM249.89 172.96H253.3V177H249.89zM144.29 177H154.51V181.04H144.29zM215.82 177H219.23V181.04H215.82zM249.89 177H253.3V181.04H249.89zM144.29 181.04H154.51V185.08H144.29zM215.82 181.04H219.23V185.08H215.82z"/>
<path fill="#ffcc00" d="M529.23 72H532.64V76.04H529.23zM529.23 76.04H532.64V80.08H529.23zM529.23 80.08H532.64V84.12H529.23zM529.23 84.12H532.64V88.15H529.23zM529.23 88.15H532.64V92.19H529.23zM529.23 92.19H532.64V96.23H529.23zM529.23 96.23H532.64V100.27H529.23zM529.23 100.27H532.64V104.31H529.23zM505.38 112.38H515.6V116.42H505.38zM505.38 116.42H515.6V120.46H505.38zM505.38 120.46H515.6V124.5H505.38zM505.38 124.5H515.6V128.54H505.38zM505.38 128.54H515.6V132.58H505.38z"/>
<path fill="#ffc400" d="M505.38 132.58H512.2V136.62H505.38zM505.38 136.62H512.2V140.65H505.38zM515.6 144.69H519.01V148.73H515.6zM515.6 148.73H519.01V152.77H515.6zM253.3 168.92H256.7V172.96H253.3zM263.52 168.92H273.74V172.96H263.52zM253.3 172.96H256.7V177H253.3zM263.52 172.96H273.74V177H263.52zM253.3 177H256.7V181.04H253.3zM263.52 177H273.74V181.04H263.52z"/>
<path fill="#ffbd00" d="M209.01 168.92H215.82V172.96H209.01zM209.01 172.96H215.82V177H209.01zM209.01 177H215.82V181.04H209.01zM209.01 181.04H215.82V185.08H209.01z"/>
<path fill="#ffb600" d="M256.7 168.92H260.11V172.96H256.7zM256.7 172.96H260.11V177H256.7zM256.7 177H260.11V181.04H256.7z"/>
<path fill="#ffae00" d="M505.38 104.31H529.23V108.35H505.38zM505.38 108.35H529.23V112.38H505.38zM260.11 168.92H263.52V172.96H260.11zM260.11 172.96H263.52V177H260.11zM260.11 177H263.52V181.04H260.11z"/>
<path fill="#ffa300" d="M512.2 140.65H515.6V144.69H512.2zM512.2 144.69H515.6V148.73H512.2zM505.38 148.73H515.6V152.77H505.38z"/>
<path fill="#ff9c00" d="M505.38 140.65H512.2V144.69H505.38zM505.38 144.69H512.2V148.73H505.38z"/>
<path fill="#ff9400" d="M505.38 80.08H508.79V84.12H505.38zM505.38 84.12H508.79V88.15H505.38zM505.38 88.15H508.79V92.19H505.38zM505.38 92.19H508.79V96.23H505.38z"/>
<path fill="#ff8600" d="M525.82 72H529.23V76.04H525.82zM525.82 76.04H529.23V80.08H525.82zM525.82 80.08H529.23V84.12H525.82zM525.82 84.12H529.23V88.15H525.82zM525.82 88.15H529.23V92.19H525.82zM525.82 92.19H529.23V96.23H525.82zM505.38 96.23H522.42V100.27H505.38zM525.82 96.23H529.23V100.27H525.82zM505.38 100.27H522.42V104.31H505.38zM525.82 100.27H529.23V104.31H525.82z"/>
<path fill="#ff7e00" d="M508.79 72H515.6V76.04H508.79zM508.79 76.04H515.6V80.08H508.79zM508.79 80.08H519.01V84.12H508.79zM508.79 84.12H519.01V88.15H508.79zM508.79 88.15H522.42V92.19H508.79zM508.79 92.19H522.42V96.23H508.79z"/>
<path fill="#ff6c00" d="M515.6 72H519.01V76.04H515.6zM515.6 76.04H519.01V80.08H515.6zM522.42 96.23H525.82V100.27H522.42zM522.42 100.27H525.82V104.31H522.42z"/>
<path fill="#ff6400" d="M519.01 72H522.42V76.04H519.01zM519.01 76.04H522.42V80.08H519.01zM519.01 80.08H522.42V84.12H519.01zM519.01 84.12H522.42V88.15H519.01z"/>
<path fill="#ff5500" d="M522.42 72H525.82V76.04H522.42zM522.42 76.04H525.82V80.08H522.42zM522.42 80.08H525.82V84.12H522.42zM522.42 84.12H525.82V88.15H522.42zM522.42 88.15H525.82V92.19H522.42zM522.42 92.19H525.82V96.23H522.42z"/>
</g>
<clipPath id="c2"><rect x="100" y="324" width="620" height="210"/></clipPath>
<g clip-path="url(#c2)" fill="none" stroke-width="2.083" stroke-linejoin="round" stroke-linecap="square">
<polyline stroke="#ff00ff" points="100,514.5 103.39,515.3 106.78,516 110.16,514.2 113.55,512 116.94,512.8 120.33,514.6 123.72,515.3 127.1,514.5 130.49,515.4 133.88,515 137.27,513.6 140.66,513.2 144.04,513.5 147.43,512.2 150.82,511.3 154.21,511.7 157.6,511.8 160.98,511.5 164.37,511 167.76,511.7 171.15,512.5 174.54,513 177.92,512.8 181.31,510.3 184.7,510.7 188.09,511.7 191.48,512.5 194.86,512 198.25,512 201.64,512 205.03,511.7 208.42,509.5 211.8,508.8 215.19,510.8 218.58,510.5 221.97,510 225.36,510.5 228.74,512.2 232.13,510.8 235.52,508 238.91,506.3 242.3,506.3 245.68,507 249.07,509 252.46,508.8 255.85,508.3 259.23,507.6 262.62,507.3 266.01,506.8 269.4,506.7 272.79,505.2 276.17,497 279.56,490.5 282.95,491 286.34,492.7 289.73,493 293.11,501.5 296.5,511 299.89,517.5 303.28,523.5 306.67,518.5 310.05,517 313.44,523.2 316.83,513 320.22,503.8 323.61,505 326.99,498 330.38,491 333.77,492.5 337.16,490.5 340.55,487 343.93,487.3 347.32,488.8 350.71,488.5 354.1,492.8 357.49,497 360.87,495.6 364.26,494.8 367.65,496.9 371.04,498.8 374.43,499.2 377.81,493.9 381.2,493.3 384.59,496.2 387.98,498.1 391.37,499 394.75,501.5 398.14,500.8 401.53,505 404.92,507 408.31,507.8 411.69,508 415.08,510 418.47,508.8 421.86,509 425.25,508 428.63,506.7 432.02,506 435.41,504.7 438.8,501.7 442.19,507.3 445.57,506.9 448.96,509 452.35,511 455.74,512.2 459.13,512 462.51,513 465.9,511.5 469.29,510.8 472.68,509.5 476.07,510.5 479.45,510.3 482.84,509.8 486.23,509.3 489.62,507.3 493.01,501.4 496.39,492 499.78,481.2 503.17,430 506.56,416.8 509.95,423 513.33,420.8 516.72,419 520.11,414.8 523.5,422 526.89,450 530.27,486.7 533.66,497.6 537.05,500.2 540.44,497.7 543.83,499.1 547.21,501.4 550.6,503.4 553.99,504.9 557.38,505 560.77,504 564.15,503 567.54,506.2 570.93,505.5 574.32,505 577.7,503.5 581.09,503.8 584.48,505 587.87,503.5 591.26,502.8 594.64,503.2 598.03,504 601.42,504.8 604.81,510.5 608.2,511 611.58,510.8 614.97,514 618.36,513.5 621.75,514.8 625.14,506.5 628.52,504 631.91,507.5 635.3,504.5 638.69,509.5 642.08,511 645.46,513.2 648.85,515.2 652.24,515.5 655.63,515.5 659.02,516.2 662.4,516.3 665.79,515.8 669.18,517.5 672.57,520.2 675.96,521 679.34,523.5 682.73,524.5 686.12,525.8 689.51,525.2 692.9,524.5 696.28,524.8 699.67,522 703.06,520 706.45,519.5 709.84,519 713.22,517.3 716.61,514.8"/>
<polyline stroke="#0000ff" points="100,524 103.39,526.7 106.78,529.2 110.16,530.7 113.55,526.8 116.94,529.7 120.33,525.5 123.72,521 127.1,520 130.49,519.8 133.88,520.8 137.27,520.6 140.66,520.5 144.04,520.3 147.43,519.8 150.82,517.3 154.21,517 157.6,521.8 160.98,520.8 164.37,520 167.76,519.8 171.15,524 174.54,526.3 177.92,526.8 181.31,527.3 184.7,529 188.09,525 191.48,527.5 194.86,528.2 198.25,529 201.64,529.8 205.03,529.5 208.42,528.5 211.8,525 215.19,526 218.58,524 221.97,520.5 225.36,521 228.74,521.3 232.13,520.8 235.52,517.8 238.91,520.7 242.3,518.5 245.68,518.3 249.07,520.5 252.46,523 255.85,522.8 259.23,521 262.62,520.5 266.01,519.5 269.4,517.8 272.79,520.7 276.17,519.2 279.56,517 282.95,518 286.34,518.2 289.73,518.5 293.11,519.5 296.5,524.8 299.89,525.2 303.28,525.5 306.67,523 310.05,523.5 313.44,524.8 316.83,526 320.22,524 323.61,524 326.99,522.2 330.38,520.2 333.77,519 337.16,517.5 340.55,508.8 343.93,510.8 347.32,509.5 350.71,505.5 354.1,509 357.49,513.5 360.87,514.8 364.26,512.8 367.65,516.5 371.04,519 374.43,523 377.81,523.2 381.2,522.2 384.59,522 387.98,522.2 391.37,522 394.75,522.8 398.14,526 401.53,524.8 404.92,524.8 408.31,525.5 411.69,523 415.08,525.5 418.47,526.7 421.86,526 425.25,525.8 428.63,525.8 432.02,525.5 435.41,523.8 438.8,524 442.19,527.5 445.57,528.5 448.96,525.5 452.35,524.2 455.74,525 459.13,522.8 462.51,524 465.9,523.3 469.29,522.8 472.68,521 476.07,524.5 479.45,526 482.84,525.7 486.23,526.5 489.62,527.5 493.01,529 496.39,528 499.78,529 503.17,531.3 506.56,525.8 509.95,528.8 513.33,526.5 516.72,525 520.11,524.8 523.5,527.5 526.89,518.8 530.27,519.8 533.66,520.2 537.05,518.5 540.44,520.2 543.83,521.7 547.21,523.7 550.6,523 553.99,522.2 557.38,521.5 560.77,519.5 564.15,515 567.54,514.2 570.93,511.8 574.32,512.5 577.7,512.2 581.09,511.2 584.48,508.8 587.87,513 591.26,517.8 594.64,520.2 598.03,517.5 601.42,520.8 604.81,520.2 608.2,523.5 611.58,525.8 614.97,526.2 618.36,521.5 621.75,524.8 625.14,526.2 628.52,525 631.91,524.8 635.3,525 638.69,526 642.08,523.5 645.46,521.5 648.85,517 652.24,511 655.63,508.8 659.02,508 662.4,508.8 665.79,508.5 669.18,510 672.57,515.5 675.96,522 679.34,528.5 682.73,529 686.12,529 689.51,524.8 692.9,524 696.28,527.5 699.67,525.2 703.06,525.3 706.45,525 709.84,526.7 713.22,526.5 716.61,525.8"/>
<polyline stroke="#ff0000" points="100,506.3 103.39,507.1 106.78,508 110.16,503.4 113.55,498.8 116.94,499.8 120.33,505 123.72,506.8 127.1,505.3 130.49,509.5 133.88,510.8 137.27,510.8 140.66,511.2 144.04,512.7 147.43,510 150.82,508 154.21,506.2 157.6,503.5 160.98,501.3 164.37,500.2 167.76,501 171.15,501.7 174.54,502 177.92,502.5 181.31,497.3 184.7,497.8 188.09,501.3 191.48,504.2 194.86,502.8 198.25,502.8 201.64,504.5 205.03,506 208.42,505.8 211.8,503.7 215.19,504.2 218.58,503.8 221.97,503.3 225.36,503.7 228.74,503.5 232.13,499.2 235.52,495 238.91,492.2 242.3,492.8 245.68,494.5 249.07,500.8 252.46,502.5 255.85,503 259.23,503.5 262.62,502 266.01,500.7 269.4,501 272.79,494.5 276.17,475.5 279.56,466 282.95,466.3 286.34,469.2 289.73,469.7 293.11,482.5 296.5,498 299.89,509 303.28,519 306.67,511.5 310.05,509 313.44,523 316.83,503.5 320.22,486 323.61,489 326.99,478 330.38,467.3 333.77,469.8 337.16,467.5 340.55,463.5 343.93,463.8 347.32,467.5 350.71,467.8 354.1,475 357.49,482.2 360.87,479.5 364.26,478.5 367.65,481.8 371.04,484.8 374.43,485.2 377.81,476.7 381.2,476.2 384.59,481 387.98,484.2 391.37,487 394.75,490 398.14,488.5 401.53,495.5 404.92,498.8 408.31,498.5 411.69,500 415.08,503.5 418.47,503.6 421.86,503.8 425.25,503 428.63,500.5 432.02,506 435.41,504.2 438.8,500.8 442.19,508 445.57,509 448.96,511.7 452.35,513.2 455.74,516.3 459.13,516 462.51,518.5 465.9,515.5 469.29,515.1 472.68,513.8 476.07,521.5 479.45,524.8 482.84,525.3 486.23,517.5 489.62,511.4 493.01,494.3 496.39,476.7 499.78,454.5 503.17,366 506.56,345.5 509.95,355 513.33,351.2 516.72,347.5 520.11,340.5 523.5,352.5 526.89,393 530.27,461.5 533.66,480.5 537.05,488 540.44,484.7 543.83,487.2 547.21,488.6 550.6,489.1 553.99,490.6 557.38,490.8 560.77,489.2 564.15,488.8 567.54,494.8 570.93,495 574.32,496.5 577.7,493.8 581.09,494.5 584.48,497.5 587.87,489.5 591.26,485.5 594.64,486.2 598.03,488.5 601.42,489 604.81,498.5 608.2,499 611.58,498.8 614.97,503.5 618.36,504.2 621.75,505.2 625.14,489.5 628.52,486.5 631.91,492.5 635.3,487 638.69,497 642.08,500.5 645.46,505 648.85,512.5 652.24,515 655.63,515 659.02,516.8 662.4,516.5 665.79,514.8 669.18,516.2 672.57,517.5 675.96,514.8 679.34,520 682.73,521 686.12,523 689.51,523.5 692.9,522 696.28,522.2 699.67,516.5 703.06,513 706.45,512.2 709.84,511.2 713.22,509.5 716.61,508.8"/>
</g>
<g stroke="#000" fill="none"><path d="M100.5 282.5v5" stroke-width="1.111"/><path d="M185.5 282.5v5" stroke-width="1.111"/><path d="M270.5 282.5v5" stroke-width="1.111"/><path d="M355.5 282.5v5" stroke-width="1.111"/><path d="M441.5 282.5v5" stroke-width="1.111"/><path d="M526.5 282.5v5" stroke-width="1.111"/><path d="M611.5 282.5v5" stroke-width="1.111"/><path d="M696.5 282.5v5" stroke-width="1.111"/><path d="M100.5 534.5v5" stroke-width="1.111"/><path d="M185.5 534.5v5" stroke-width="1.111"/><path d="M269.5 534.5v5" stroke-width="1.111"/><path d="M354.5 534.5v5" stroke-width="1.111"/><path d="M439.5 534.5v5" stroke-width="1.111"/><path d="M523.5 534.5v5" stroke-width="1.111"/><path d="M608.5 534.5v5" stroke-width="1.111"/><path d="M693.5 534.5v5" stroke-width="1.111"/><path d="M100.5 282.5h-5" stroke-width="1.111"/><path d="M100.5 266.5h-3" stroke-width="0.833"/><path d="M100.5 256.5h-3" stroke-width="0.833"/><path d="M100.5 250.5h-3" stroke-width="0.833"/><path d="M100.5 244.5h-3" stroke-width="0.833"/><path d="M100.5 240.5h-3" stroke-width="0.833"/><path d="M100.5 237.5h-3" stroke-width="0.833"/><path d="M100.5 234.5h-3" stroke-width="0.833"/><path d="M100.5 231.5h-3" stroke-width="0.833"/><path d="M100.5 228.5h-5" stroke-width="1.111"/><path d="M100.5 212.5h-3" stroke-width="0.833"/><path d="M100.5 203.5h-3" stroke-width="0.833"/><path d="M100.5 196.5h-3" stroke-width="0.833"/><path d="M100.5 191.5h-3" stroke-width="0.833"/><path d="M100.5 187.5h-3" stroke-width="0.833"/><path d="M100.5 183.5h-3" stroke-width="0.833"/><path d="M100.5 180.5h-3" stroke-width="0.833"/><path d="M100.5 177.5h-3" stroke-width="0.833"/><path d="M100.5 175.5h-5" stroke-width="1.111"/><path d="M100.5 159.5h-3" stroke-width="0.833"/><path d="M100.5 149.5h-3" stroke-width="0.833"/><path d="M100.5 142.5h-3" stroke-width="0.833"/><path d="M100.5 137.5h-3" stroke-width="0.833"/><path d="M100.5 133.5h-3" stroke-width="0.833"/><path d="M100.5 129.5h-3" stroke-width="0.833"/><path d="M100.5 126.5h-3" stroke-width="0.833"/><path d="M100.5 123.5h-3" stroke-width="0.833"/><path d="M100.5 121.5h-5" stroke-width="1.111"/><path d="M100.5 105.5h-3" stroke-width="0.833"/><path d="M100.5 95.5h-3" stroke-width="0.833"/><path d="M100.5 89.5h-3" stroke-width="0.833"/><path d="M100.5 84.5h-3" stroke-width="0.833"/><path d="M100.5 79.5h-3" stroke-width="0.833"/><path d="M100.5 76.5h-3" stroke-width="0.833"/><path d="M100.5 73.5h-3" stroke-width="0.833"/><path d="M100.5 534.5h-5" stroke-width="1.111"/><path d="M100.5 492.5h-5" stroke-width="1.111"/><path d="M100.5 450.5h-5" stroke-width="1.111"/><path d="M100.5 408.5h-5" stroke-width="1.111"/><path d="M100.5 366.5h-5" stroke-width="1.111"/><path d="M100.5 324.5h-5" stroke-width="1.111"/></g>
<g stroke="#000" fill="none" stroke-width="1.111" stroke-linecap="square"><rect x="100.5" y="72.5" width="620" height="210"/><rect x="100.5" y="324.5" width="620" height="210"/></g>
<g font-family="'DejaVu Sans','Liberation Sans',sans-serif" font-size="13.889" fill="#000">
<text x="100.5" y="302.92" text-anchor="middle">0</text>
<text x="185.66" y="302.92" text-anchor="middle">50</text>
<text x="270.83" y="302.92" text-anchor="middle">100</text>
<text x="355.99" y="302.92" text-anchor="middle">150</text>
<text x="441.16" y="302.92" text-anchor="middle">200</text>
<text x="526.32" y="302.92" text-anchor="middle">250</text>
<text x="611.49" y="302.92" text-anchor="middle">300</text>
<text x="696.65" y="302.92" text-anchor="middle">350</text>
<text x="100.5" y="554.92" text-anchor="middle">0</text>
<text x="185.2" y="554.92" text-anchor="middle">50</text>
<text x="269.9" y="554.92" text-anchor="middle">100</text>
<text x="354.6" y="554.92" text-anchor="middle">150</text>
<text x="439.3" y="554.92" text-anchor="middle">200</text>
<text x="524" y="554.92" text-anchor="middle">250</text>
<text x="608.7" y="554.92" text-anchor="middle">300</text>
<text x="693.4" y="554.92" text-anchor="middle">350</text>
<text x="91.1" y="540" text-anchor="end">0.00</text>
<text x="91.1" y="498" text-anchor="end">0.02</text>
<text x="91.1" y="456" text-anchor="end">0.04</text>
<text x="91.1" y="414" text-anchor="end">0.06</text>
<text x="91.1" y="372" text-anchor="end">0.08</text>
<text x="91.1" y="330" text-anchor="end">0.10</text>
<text x="89.4" y="288.8" text-anchor="end">10<tspan font-size="9.722" dy="-5.2">−1</tspan></text>
<text x="89.4" y="235.14" text-anchor="end">10<tspan font-size="9.722" dy="-5.2">0</tspan></text>
<text x="89.4" y="181.48" text-anchor="end">10<tspan font-size="9.722" dy="-5.2">1</tspan></text>
<text x="89.4" y="127.81" text-anchor="end">10<tspan font-size="9.722" dy="-5.2">2</tspan></text>
<text x="409.6" y="322" text-anchor="middle">days since 21-Nov-2024</text>
<text x="409.6" y="574" text-anchor="middle">days since 21-Nov-2024</text>
<text transform="translate(49 179.5) rotate(-90)" text-anchor="middle">Period</text>
<text transform="translate(51 429.5) rotate(-90)" text-anchor="middle">deviation</text>
<text x="410" y="63.5" text-anchor="middle" font-size="16.667">gr.cll..bhz</text>
</g>
</svg>
</body></html>
